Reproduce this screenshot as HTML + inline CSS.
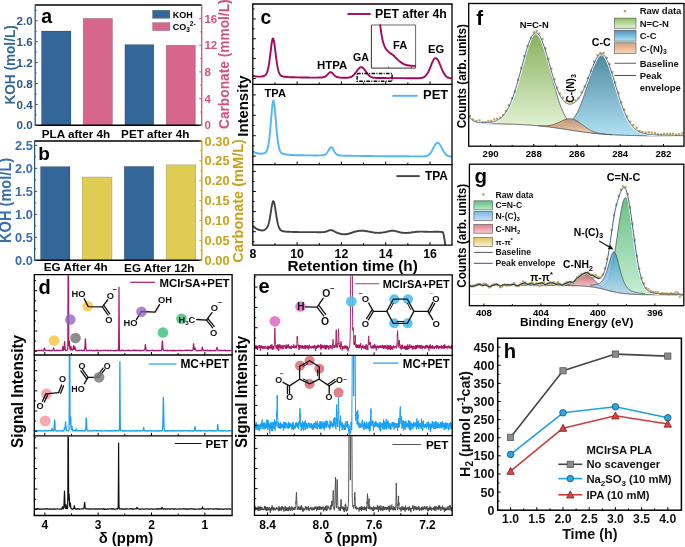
<!DOCTYPE html>
<html><head><meta charset="utf-8"><style>
html,body{margin:0;padding:0;background:#fff;}
svg{display:block;will-change:transform;}
text{font-family:"Liberation Sans", sans-serif;}
</style></head><body>
<svg width="685" height="547" viewBox="0 0 685 547">
<rect width="685" height="547" fill="#fff"/>
<rect x="41.50" y="31.00" width="29.50" height="94.30" fill="#336699" stroke="rgba(0,0,0,0.25)" stroke-width="0.6" />
<rect x="83.20" y="18.40" width="29.30" height="106.90" fill="#d6668c" stroke="rgba(0,0,0,0.25)" stroke-width="0.6" />
<rect x="124.90" y="44.60" width="29.00" height="80.70" fill="#336699" stroke="rgba(0,0,0,0.25)" stroke-width="0.6" />
<rect x="166.20" y="45.20" width="29.20" height="80.10" fill="#d6668c" stroke="rgba(0,0,0,0.25)" stroke-width="0.6" />
<line x1="35.20" y1="5.00" x2="201.70" y2="5.00" stroke="#000" stroke-width="1.4" />
<line x1="35.20" y1="125.30" x2="201.70" y2="125.30" stroke="#000" stroke-width="1.4" />
<line x1="35.20" y1="4.30" x2="35.20" y2="126.00" stroke="#2b5783" stroke-width="1.3" />
<line x1="201.70" y1="4.30" x2="201.70" y2="126.00" stroke="#d2527e" stroke-width="1.3" />
<line x1="35.20" y1="125.30" x2="37.70" y2="125.30" stroke="#2b5783" stroke-width="1" />
<text x="32.60" y="129.40" font-size="11.6" fill="#2b5783" text-anchor="end" font-weight="bold" >0.0</text>
<line x1="35.20" y1="114.85" x2="36.70" y2="114.85" stroke="#2b5783" stroke-width="1" />
<line x1="35.20" y1="104.40" x2="37.70" y2="104.40" stroke="#2b5783" stroke-width="1" />
<text x="32.60" y="108.50" font-size="11.6" fill="#2b5783" text-anchor="end" font-weight="bold" >0.4</text>
<line x1="35.20" y1="93.95" x2="36.70" y2="93.95" stroke="#2b5783" stroke-width="1" />
<line x1="35.20" y1="83.50" x2="37.70" y2="83.50" stroke="#2b5783" stroke-width="1" />
<text x="32.60" y="87.60" font-size="11.6" fill="#2b5783" text-anchor="end" font-weight="bold" >0.8</text>
<line x1="35.20" y1="73.05" x2="36.70" y2="73.05" stroke="#2b5783" stroke-width="1" />
<line x1="35.20" y1="62.60" x2="37.70" y2="62.60" stroke="#2b5783" stroke-width="1" />
<text x="32.60" y="66.70" font-size="11.6" fill="#2b5783" text-anchor="end" font-weight="bold" >1.2</text>
<line x1="35.20" y1="52.15" x2="36.70" y2="52.15" stroke="#2b5783" stroke-width="1" />
<line x1="35.20" y1="41.70" x2="37.70" y2="41.70" stroke="#2b5783" stroke-width="1" />
<text x="32.60" y="45.80" font-size="11.6" fill="#2b5783" text-anchor="end" font-weight="bold" >1.6</text>
<line x1="35.20" y1="31.25" x2="36.70" y2="31.25" stroke="#2b5783" stroke-width="1" />
<line x1="35.20" y1="20.80" x2="37.70" y2="20.80" stroke="#2b5783" stroke-width="1" />
<text x="32.60" y="24.90" font-size="11.6" fill="#2b5783" text-anchor="end" font-weight="bold" >2.0</text>
<line x1="35.20" y1="10.35" x2="36.70" y2="10.35" stroke="#2b5783" stroke-width="1" />
<line x1="201.70" y1="125.30" x2="199.20" y2="125.30" stroke="#d2527e" stroke-width="1" />
<text x="204.40" y="129.30" font-size="11.5" fill="#d2527e" text-anchor="start" font-weight="bold" >0</text>
<line x1="201.70" y1="111.95" x2="200.20" y2="111.95" stroke="#d2527e" stroke-width="1" />
<line x1="201.70" y1="98.60" x2="199.20" y2="98.60" stroke="#d2527e" stroke-width="1" />
<text x="204.40" y="102.60" font-size="11.5" fill="#d2527e" text-anchor="start" font-weight="bold" >4</text>
<line x1="201.70" y1="85.25" x2="200.20" y2="85.25" stroke="#d2527e" stroke-width="1" />
<line x1="201.70" y1="71.90" x2="199.20" y2="71.90" stroke="#d2527e" stroke-width="1" />
<text x="204.40" y="75.90" font-size="11.5" fill="#d2527e" text-anchor="start" font-weight="bold" >8</text>
<line x1="201.70" y1="58.55" x2="200.20" y2="58.55" stroke="#d2527e" stroke-width="1" />
<line x1="201.70" y1="45.20" x2="199.20" y2="45.20" stroke="#d2527e" stroke-width="1" />
<text x="204.40" y="49.20" font-size="11.5" fill="#d2527e" text-anchor="start" font-weight="bold" >12</text>
<line x1="201.70" y1="31.85" x2="200.20" y2="31.85" stroke="#d2527e" stroke-width="1" />
<line x1="201.70" y1="18.50" x2="199.20" y2="18.50" stroke="#d2527e" stroke-width="1" />
<text x="204.40" y="22.50" font-size="11.5" fill="#d2527e" text-anchor="start" font-weight="bold" >16</text>
<rect x="152.50" y="10.20" width="17.40" height="8.20" fill="#336699" stroke="rgba(0,0,0,0.25)" stroke-width="0.5" />
<rect x="152.50" y="22.50" width="17.40" height="8.20" fill="#d6668c" stroke="rgba(0,0,0,0.25)" stroke-width="0.5" />
<text x="172.70" y="17.50" font-size="9.0" fill="#000" text-anchor="start" font-weight="bold" >KOH</text>
<text x="172.70" y="30.00" font-size="9.0" fill="#000" text-anchor="start" font-weight="bold" >CO<tspan font-size="6.5" dy="2">3</tspan><tspan font-size="6.5" dy="-6">2-</tspan></text>
<text x="41.30" y="22.80" font-size="19.5" fill="#000" text-anchor="start" font-weight="bold" >a</text>
<text x="76.00" y="137.62" font-size="11.7" fill="#000" text-anchor="middle" font-weight="bold" >PLA after 4h</text>
<text x="155.20" y="137.82" font-size="11.7" fill="#000" text-anchor="middle" font-weight="bold" >PET after 4h</text>
<text transform="translate(10.20 64.90) scale(1.070 1) rotate(-90)" x="0" y="4.68" font-size="13.6" fill="#2f6a99" text-anchor="middle" font-weight="bold">KOH (mol/L)</text>
<text transform="translate(224.00 64.20) scale(1.030 1) rotate(-90)" x="0" y="4.73" font-size="13.75" fill="#d2527e" text-anchor="middle" font-weight="bold">Carbonate (mmol/L)</text>
<rect x="40.50" y="166.60" width="29.50" height="93.70" fill="#336699" stroke="rgba(0,0,0,0.25)" stroke-width="0.6" />
<rect x="82.20" y="177.00" width="29.80" height="83.30" fill="#dfcc52" stroke="rgba(0,0,0,0.25)" stroke-width="0.6" />
<rect x="124.20" y="166.40" width="29.60" height="93.90" fill="#336699" stroke="rgba(0,0,0,0.25)" stroke-width="0.6" />
<rect x="166.20" y="164.80" width="29.60" height="95.50" fill="#dfcc52" stroke="rgba(0,0,0,0.25)" stroke-width="0.6" />
<line x1="34.60" y1="141.00" x2="201.80" y2="141.00" stroke="#000" stroke-width="1.4" />
<line x1="34.60" y1="260.30" x2="201.80" y2="260.30" stroke="#000" stroke-width="1.4" />
<line x1="34.60" y1="140.30" x2="34.60" y2="261.00" stroke="#2b5783" stroke-width="1.3" />
<line x1="201.80" y1="140.30" x2="201.80" y2="261.00" stroke="#c9a21c" stroke-width="1.3" />
<line x1="34.60" y1="260.30" x2="37.10" y2="260.30" stroke="#2b5783" stroke-width="1" />
<text x="32.90" y="264.80" font-size="12.8" fill="#3a6fae" text-anchor="end" font-weight="bold" >0.0</text>
<line x1="34.60" y1="248.81" x2="36.10" y2="248.81" stroke="#2b5783" stroke-width="1" />
<line x1="34.60" y1="237.32" x2="37.10" y2="237.32" stroke="#2b5783" stroke-width="1" />
<text x="32.90" y="241.82" font-size="12.8" fill="#3a6fae" text-anchor="end" font-weight="bold" >0.5</text>
<line x1="34.60" y1="225.83" x2="36.10" y2="225.83" stroke="#2b5783" stroke-width="1" />
<line x1="34.60" y1="214.34" x2="37.10" y2="214.34" stroke="#2b5783" stroke-width="1" />
<text x="32.90" y="218.84" font-size="12.8" fill="#3a6fae" text-anchor="end" font-weight="bold" >1.0</text>
<line x1="34.60" y1="202.85" x2="36.10" y2="202.85" stroke="#2b5783" stroke-width="1" />
<line x1="34.60" y1="191.36" x2="37.10" y2="191.36" stroke="#2b5783" stroke-width="1" />
<text x="32.90" y="195.86" font-size="12.8" fill="#3a6fae" text-anchor="end" font-weight="bold" >1.5</text>
<line x1="34.60" y1="179.87" x2="36.10" y2="179.87" stroke="#2b5783" stroke-width="1" />
<line x1="34.60" y1="168.38" x2="37.10" y2="168.38" stroke="#2b5783" stroke-width="1" />
<text x="32.90" y="172.88" font-size="12.8" fill="#3a6fae" text-anchor="end" font-weight="bold" >2.0</text>
<line x1="34.60" y1="156.89" x2="36.10" y2="156.89" stroke="#2b5783" stroke-width="1" />
<line x1="34.60" y1="145.40" x2="37.10" y2="145.40" stroke="#2b5783" stroke-width="1" />
<text x="32.90" y="149.90" font-size="12.8" fill="#3a6fae" text-anchor="end" font-weight="bold" >2.5</text>
<line x1="201.80" y1="260.30" x2="199.30" y2="260.30" stroke="#c9a21c" stroke-width="1" />
<text x="204.60" y="264.80" font-size="12.8" fill="#c9a21c" text-anchor="start" font-weight="bold" >0.00</text>
<line x1="201.80" y1="250.36" x2="200.30" y2="250.36" stroke="#c9a21c" stroke-width="1" />
<line x1="201.80" y1="240.42" x2="199.30" y2="240.42" stroke="#c9a21c" stroke-width="1" />
<text x="204.60" y="244.92" font-size="12.8" fill="#c9a21c" text-anchor="start" font-weight="bold" >0.05</text>
<line x1="201.80" y1="230.48" x2="200.30" y2="230.48" stroke="#c9a21c" stroke-width="1" />
<line x1="201.80" y1="220.53" x2="199.30" y2="220.53" stroke="#c9a21c" stroke-width="1" />
<text x="204.60" y="225.03" font-size="12.8" fill="#c9a21c" text-anchor="start" font-weight="bold" >0.10</text>
<line x1="201.80" y1="210.59" x2="200.30" y2="210.59" stroke="#c9a21c" stroke-width="1" />
<line x1="201.80" y1="200.65" x2="199.30" y2="200.65" stroke="#c9a21c" stroke-width="1" />
<text x="204.60" y="205.15" font-size="12.8" fill="#c9a21c" text-anchor="start" font-weight="bold" >0.15</text>
<line x1="201.80" y1="190.71" x2="200.30" y2="190.71" stroke="#c9a21c" stroke-width="1" />
<line x1="201.80" y1="180.77" x2="199.30" y2="180.77" stroke="#c9a21c" stroke-width="1" />
<text x="204.60" y="185.27" font-size="12.8" fill="#c9a21c" text-anchor="start" font-weight="bold" >0.20</text>
<line x1="201.80" y1="170.82" x2="200.30" y2="170.82" stroke="#c9a21c" stroke-width="1" />
<line x1="201.80" y1="160.88" x2="199.30" y2="160.88" stroke="#c9a21c" stroke-width="1" />
<text x="204.60" y="165.38" font-size="12.8" fill="#c9a21c" text-anchor="start" font-weight="bold" >0.25</text>
<line x1="201.80" y1="150.94" x2="200.30" y2="150.94" stroke="#c9a21c" stroke-width="1" />
<line x1="201.80" y1="141.00" x2="199.30" y2="141.00" stroke="#c9a21c" stroke-width="1" />
<text x="204.60" y="145.50" font-size="12.8" fill="#c9a21c" text-anchor="start" font-weight="bold" >0.30</text>
<text x="38.20" y="160.20" font-size="19.0" fill="#000" text-anchor="start" font-weight="bold" >b</text>
<text x="75.70" y="271.42" font-size="11.7" fill="#000" text-anchor="middle" font-weight="bold" >EG After 4h</text>
<text x="159.30" y="271.52" font-size="11.7" fill="#000" text-anchor="middle" font-weight="bold" >EG After 12h</text>
<text transform="translate(5.60 200.40) scale(1.080 1) rotate(-90)" x="0" y="5.02" font-size="14.6" fill="#3a6fae" text-anchor="middle" font-weight="bold">KOH (mol/L)</text>
<text transform="translate(237.90 200.90) scale(1.020 1) rotate(-90)" x="0" y="5.01" font-size="14.55" fill="#c9a21c" text-anchor="middle" font-weight="bold">Carbonate (mM/L)</text>
<path d="M253.00,75.61 253.5,75.8 254.0,76.0 254.5,76.2 255.0,76.3 255.5,76.4 256.0,76.5 256.5,76.5 257.0,76.6 257.5,76.6 258.0,76.6 258.5,76.6 259.0,76.6 259.5,76.6 259.9,76.6 260.4,76.6 260.9,76.6 261.4,76.5 261.9,76.5 262.4,76.4 262.9,76.3 263.4,76.2 263.9,76.0 264.4,75.8 264.9,75.5 265.4,75.1 265.9,74.6 266.4,73.8 266.9,72.8 267.4,71.4 267.9,69.6 268.4,67.3 268.9,64.5 269.4,61.2 269.9,57.5 270.4,53.4 270.9,49.3 271.4,45.4 271.9,42.0 272.4,39.5 272.9,38.4 273.3,38.7 273.8,40.4 274.3,43.2 274.8,46.9 275.3,50.9 275.8,55.1 276.3,59.0 276.8,62.6 277.3,65.7 277.8,68.3 278.3,70.4 278.8,72.1 279.3,73.3 279.8,74.3 280.3,74.9 280.8,75.4 281.3,75.8 281.8,76.0 282.3,76.2 282.8,76.4 283.3,76.5 283.8,76.6 284.3,76.7 284.8,76.7 285.3,76.8 285.8,76.9 286.2,76.9 286.7,77.0 287.2,77.0 287.7,77.0 288.2,77.1 288.7,77.1 289.2,77.1 289.7,77.2 290.2,77.2 290.7,77.2 291.2,77.2 291.7,77.3 292.2,77.3 292.7,77.3 293.2,77.3 293.7,77.3 294.2,77.3 294.7,77.3 295.2,77.4 295.7,77.4 296.2,77.4 296.7,77.4 297.2,77.4 297.7,77.4 298.2,77.4 298.7,77.4 299.2,77.4 299.6,77.4 300.1,77.5 300.6,77.5 301.1,77.5 301.6,77.5 302.1,77.5 302.6,77.5 303.1,77.5 303.6,77.5 304.1,77.5 304.6,77.5 305.1,77.5 305.6,77.5 306.1,77.5 306.6,77.5 307.1,77.5 307.6,77.5 308.1,77.5 308.6,77.5 309.1,77.5 309.6,77.6 310.1,77.6 310.6,77.6 311.1,77.6 311.6,77.6 312.1,77.6 312.6,77.6 313.0,77.6 313.5,77.6 314.0,77.6 314.5,77.6 315.0,77.6 315.5,77.6 316.0,77.6 316.5,77.6 317.0,77.6 317.5,77.6 318.0,77.6 318.5,77.5 319.0,77.5 319.5,77.5 320.0,77.5 320.5,77.5 321.0,77.5 321.5,77.5 322.0,77.4 322.5,77.4 323.0,77.3 323.5,77.2 324.0,77.1 324.5,76.9 325.0,76.7 325.5,76.4 325.9,76.1 326.4,75.6 326.9,75.2 327.4,74.7 327.9,74.1 328.4,73.6 328.9,73.1 329.4,72.6 329.9,72.3 330.4,72.2 330.9,72.2 331.4,72.4 331.9,72.8 332.4,73.2 332.9,73.7 333.4,74.3 333.9,74.8 334.4,75.3 334.9,75.8 335.4,76.2 335.9,76.5 336.4,76.8 336.9,77.0 337.4,77.2 337.9,77.3 338.4,77.4 338.9,77.5 339.3,77.5 339.8,77.6 340.3,77.6 340.8,77.6 341.3,77.7 341.8,77.7 342.3,77.7 342.8,77.7 343.3,77.7 343.8,77.7 344.3,77.7 344.8,77.7 345.3,77.7 345.8,77.7 346.3,77.7 346.8,77.7 347.3,77.7 347.8,77.6 348.3,77.6 348.8,77.5 349.3,77.4 349.8,77.3 350.3,77.2 350.8,77.0 351.3,76.8 351.8,76.5 352.2,76.2 352.7,75.8 353.2,75.4 353.7,75.0 354.2,74.4 354.7,73.8 355.2,73.2 355.7,72.5 356.2,71.9 356.7,71.2 357.2,70.5 357.7,69.8 358.2,69.1 358.7,68.6 359.2,68.1 359.7,67.7 360.2,67.4 360.7,67.2 361.2,67.1 361.7,67.2 362.2,67.4 362.7,67.7 363.2,68.1 363.7,68.6 364.2,69.1 364.7,69.8 365.2,70.5 365.6,71.2 366.1,71.9 366.6,72.6 367.1,73.2 367.6,73.9 368.1,74.5 368.6,75.0 369.1,75.5 369.6,75.9 370.1,76.3 370.6,76.6 371.1,76.9 371.6,77.1 372.1,77.3 372.6,77.5 373.1,77.6 373.6,77.7 374.1,77.8 374.6,77.8 375.1,77.9 375.6,77.9 376.1,77.9 376.6,78.0 377.1,78.0 377.6,78.0 378.1,78.0 378.6,78.0 379.0,78.0 379.5,78.0 380.0,78.0 380.5,78.0 381.0,78.0 381.5,78.0 382.0,78.0 382.5,78.0 383.0,78.0 383.5,78.0 384.0,78.0 384.5,78.0 385.0,78.0 385.5,78.0 386.0,78.1 386.5,78.1 387.0,78.1 387.5,78.1 388.0,78.1 388.5,78.1 389.0,78.1 389.5,78.1 390.0,78.1 390.5,78.1 391.0,78.1 391.5,78.1 391.9,78.1 392.4,78.1 392.9,78.1 393.4,78.1 393.9,78.1 394.4,78.1 394.9,78.1 395.4,78.1 395.9,78.1 396.4,78.1 396.9,78.1 397.4,78.1 397.9,78.1 398.4,78.1 398.9,78.1 399.4,78.1 399.9,78.1 400.4,78.1 400.9,78.1 401.4,78.1 401.9,78.1 402.4,78.1 402.9,78.1 403.4,78.1 403.9,78.1 404.4,78.1 404.9,78.1 405.3,78.2 405.8,78.2 406.3,78.2 406.8,78.2 407.3,78.2 407.8,78.2 408.3,78.2 408.8,78.2 409.3,78.2 409.8,78.2 410.3,78.2 410.8,78.2 411.3,78.2 411.8,78.2 412.3,78.2 412.8,78.2 413.3,78.2 413.8,78.2 414.3,78.2 414.8,78.2 415.3,78.2 415.8,78.2 416.3,78.2 416.8,78.2 417.3,78.2 417.8,78.2 418.3,78.2 418.7,78.2 419.2,78.2 419.7,78.1 420.2,78.1 420.7,78.0 421.2,78.0 421.7,77.9 422.2,77.8 422.7,77.6 423.2,77.5 423.7,77.2 424.2,77.0 424.7,76.6 425.2,76.2 425.7,75.7 426.2,75.2 426.7,74.5 427.2,73.8 427.7,73.0 428.2,72.1 428.7,71.0 429.2,70.0 429.7,68.8 430.2,67.6 430.7,66.4 431.2,65.2 431.6,63.9 432.1,62.8 432.6,61.7 433.1,60.7 433.6,59.8 434.1,59.1 434.6,58.6 435.1,58.2 435.6,58.1 436.1,58.2 436.6,58.5 437.1,58.9 437.6,59.6 438.1,60.4 438.6,61.4 439.1,62.4 439.6,63.6 440.1,64.8 440.6,66.0 441.1,67.3 441.6,68.5 442.1,69.7 442.6,70.8 443.1,71.8 443.6,72.8 444.1,73.6 444.6,74.4 445.0,75.1 445.5,75.7 446.0,76.2 446.5,76.6 447.0,77.0 447.5,77.3 448.0,77.5 448.5,77.7 449.0,77.9 449.5,78.0 450.0,78.1 450.5,78.2 451.0,78.2 451.5,78.3" stroke="#a5085e" stroke-width="1.9" fill="none" stroke-linejoin="round" />
<path d="M253.00,151.17 253.5,151.5 254.0,151.9 254.5,152.1 255.0,152.4 255.5,152.6 256.0,152.8 256.5,153.0 257.0,153.1 257.5,153.3 258.0,153.4 258.5,153.5 259.0,153.5 259.5,153.6 259.9,153.6 260.4,153.7 260.9,153.7 261.4,153.7 261.9,153.6 262.4,153.6 262.9,153.5 263.4,153.4 263.9,153.3 264.4,153.2 264.9,152.9 265.4,152.6 265.9,152.1 266.4,151.4 266.9,150.4 267.4,149.1 267.9,147.2 268.4,144.7 268.9,141.5 269.4,137.6 269.9,132.8 270.4,127.5 270.9,121.6 271.4,115.6 271.9,110.0 272.4,105.2 272.9,101.8 273.3,100.5 273.8,101.4 274.3,104.3 274.8,108.9 275.3,114.4 275.8,120.4 276.3,126.3 276.8,131.8 277.3,136.7 277.8,140.9 278.3,144.3 278.8,146.9 279.3,148.9 279.8,150.4 280.3,151.5 280.8,152.3 281.3,152.8 281.8,153.2 282.3,153.5 282.8,153.7 283.3,153.9 283.8,154.1 284.3,154.2 284.8,154.3 285.3,154.4 285.8,154.5 286.2,154.5 286.7,154.6 287.2,154.6 287.7,154.7 288.2,154.8 288.7,154.8 289.2,154.8 289.7,154.9 290.2,154.9 290.7,154.9 291.2,155.0 291.7,155.0 292.2,155.0 292.7,155.1 293.2,155.1 293.7,155.1 294.2,155.1 294.7,155.1 295.2,155.2 295.7,155.2 296.2,155.2 296.7,155.2 297.2,155.2 297.7,155.2 298.2,155.2 298.7,155.3 299.2,155.3 299.6,155.3 300.1,155.3 300.6,155.3 301.1,155.3 301.6,155.3 302.1,155.3 302.6,155.3 303.1,155.3 303.6,155.4 304.1,155.4 304.6,155.4 305.1,155.4 305.6,155.4 306.1,155.4 306.6,155.4 307.1,155.4 307.6,155.4 308.1,155.4 308.6,155.4 309.1,155.4 309.6,155.4 310.1,155.4 310.6,155.4 311.1,155.4 311.6,155.4 312.1,155.4 312.6,155.5 313.0,155.5 313.5,155.5 314.0,155.5 314.5,155.5 315.0,155.5 315.5,155.5 316.0,155.5 316.5,155.5 317.0,155.5 317.5,155.5 318.0,155.4 318.5,155.4 319.0,155.4 319.5,155.4 320.0,155.4 320.5,155.4 321.0,155.4 321.5,155.4 322.0,155.3 322.5,155.3 323.0,155.2 323.5,155.2 324.0,155.1 324.5,154.9 325.0,154.7 325.5,154.4 325.9,154.1 326.4,153.6 326.9,153.0 327.4,152.3 327.9,151.5 328.4,150.7 328.9,149.8 329.4,148.9 329.9,148.1 330.4,147.5 330.9,147.2 331.4,147.2 331.9,147.4 332.4,148.0 332.9,148.8 333.4,149.7 333.9,150.6 334.4,151.5 334.9,152.3 335.4,153.0 335.9,153.6 336.4,154.1 336.9,154.5 337.4,154.8 337.9,155.0 338.4,155.2 338.9,155.3 339.3,155.4 339.8,155.5 340.3,155.5 340.8,155.5 341.3,155.6 341.8,155.6 342.3,155.6 342.8,155.6 343.3,155.7 343.8,155.7 344.3,155.7 344.8,155.7 345.3,155.7 345.8,155.7 346.3,155.7 346.8,155.8 347.3,155.8 347.8,155.8 348.3,155.8 348.8,155.8 349.3,155.8 349.8,155.8 350.3,155.8 350.8,155.8 351.3,155.8 351.8,155.8 352.2,155.8 352.7,155.9 353.2,155.9 353.7,155.9 354.2,155.9 354.7,155.9 355.2,155.9 355.7,155.9 356.2,155.9 356.7,155.9 357.2,155.9 357.7,155.9 358.2,155.9 358.7,155.9 359.2,155.9 359.7,155.9 360.2,155.9 360.7,155.9 361.2,155.9 361.7,156.0 362.2,156.0 362.7,156.0 363.2,156.0 363.7,156.0 364.2,156.0 364.7,156.0 365.2,156.0 365.6,156.0 366.1,156.0 366.6,156.0 367.1,156.0 367.6,156.0 368.1,156.0 368.6,156.0 369.1,156.0 369.6,156.0 370.1,156.0 370.6,156.0 371.1,156.0 371.6,156.0 372.1,156.0 372.6,156.1 373.1,156.1 373.6,156.1 374.1,156.1 374.6,156.1 375.1,156.1 375.6,156.1 376.1,156.1 376.6,156.1 377.1,156.1 377.6,156.1 378.1,156.1 378.6,156.1 379.0,156.1 379.5,156.1 380.0,156.1 380.5,156.1 381.0,156.1 381.5,156.1 382.0,156.1 382.5,156.1 383.0,156.1 383.5,156.1 384.0,156.2 384.5,156.2 385.0,156.2 385.5,156.2 386.0,156.2 386.5,156.2 387.0,156.2 387.5,156.2 388.0,156.2 388.5,156.2 389.0,156.2 389.5,156.2 390.0,156.2 390.5,156.2 391.0,156.2 391.5,156.2 391.9,156.2 392.4,156.2 392.9,156.2 393.4,156.2 393.9,156.2 394.4,156.2 394.9,156.2 395.4,156.2 395.9,156.2 396.4,156.3 396.9,156.3 397.4,156.3 397.9,156.3 398.4,156.3 398.9,156.3 399.4,156.3 399.9,156.3 400.4,156.3 400.9,156.3 401.4,156.3 401.9,156.3 402.4,156.3 402.9,156.3 403.4,156.3 403.9,156.3 404.4,156.3 404.9,156.3 405.3,156.3 405.8,156.3 406.3,156.3 406.8,156.3 407.3,156.3 407.8,156.3 408.3,156.3 408.8,156.3 409.3,156.4 409.8,156.4 410.3,156.4 410.8,156.4 411.3,156.4 411.8,156.4 412.3,156.4 412.8,156.4 413.3,156.4 413.8,156.4 414.3,156.4 414.8,156.4 415.3,156.4 415.8,156.4 416.3,156.4 416.8,156.4 417.3,156.4 417.8,156.4 418.3,156.4 418.7,156.4 419.2,156.4 419.7,156.4 420.2,156.4 420.7,156.4 421.2,156.4 421.7,156.4 422.2,156.4 422.7,156.4 423.2,156.4 423.7,156.4 424.2,156.4 424.7,156.3 425.2,156.3 425.7,156.2 426.2,156.1 426.7,155.9 427.2,155.8 427.7,155.5 428.2,155.3 428.7,154.9 429.2,154.5 429.7,154.0 430.2,153.4 430.7,152.8 431.2,152.0 431.6,151.2 432.1,150.4 432.6,149.4 433.1,148.5 433.6,147.5 434.1,146.6 434.6,145.7 435.1,144.9 435.6,144.1 436.1,143.6 436.6,143.1 437.1,142.9 437.6,142.8 438.1,142.9 438.6,143.1 439.1,143.6 439.6,144.2 440.1,144.9 440.6,145.7 441.1,146.7 441.6,147.6 442.1,148.6 442.6,149.5 443.1,150.5 443.6,151.3 444.1,152.2 444.6,152.9 445.0,153.6 445.5,154.1 446.0,154.6 446.5,155.1 447.0,155.4 447.5,155.7 448.0,155.9 448.5,156.1 449.0,156.3 449.5,156.4 450.0,156.5 450.5,156.5 451.0,156.6 451.5,156.6" stroke="#50b6fb" stroke-width="1.9" fill="none" stroke-linejoin="round" />
<path d="M253.00,225.73 253.5,226.3 254.0,226.8 254.5,227.3 255.0,227.7 255.5,228.1 256.0,228.5 256.5,228.8 257.0,229.0 257.5,229.3 258.0,229.5 258.5,229.7 259.0,229.9 259.5,230.0 260.0,230.2 260.5,230.3 261.0,230.3 261.5,230.4 262.0,230.5 262.5,230.5 263.0,230.4 263.5,230.3 264.0,230.1 264.5,229.9 265.0,229.5 265.5,229.2 266.0,228.7 266.5,228.2 267.0,227.6 267.5,226.8 268.0,225.7 268.5,224.3 269.0,222.4 269.5,220.0 270.0,217.3 270.5,214.2 271.0,210.9 271.5,207.7 272.0,204.9 272.5,202.6 273.0,201.3 273.5,201.2 274.0,202.2 274.5,204.2 275.0,206.9 275.5,210.1 276.0,213.4 276.5,216.6 277.0,219.6 277.5,222.2 278.0,224.4 278.5,226.1 279.0,227.5 279.5,228.6 280.0,229.4 280.5,230.0 281.0,230.4 281.5,230.7 282.0,230.9 282.5,231.1 283.0,231.2 283.5,231.3 284.0,231.4 284.5,231.5 285.0,231.5 285.5,231.6 286.0,231.6 286.5,231.7 287.0,231.7 287.5,231.7 288.0,231.8 288.5,231.8 289.0,231.8 289.5,231.8 290.0,231.9 290.5,231.9 291.0,231.9 291.5,231.9 292.0,231.9 292.5,231.9 293.0,232.0 293.5,232.0 294.0,232.0 294.5,232.0 295.0,232.0 295.5,232.0 296.0,232.0 296.5,232.0 297.0,232.0 297.5,232.0 298.0,232.0 298.5,232.1 299.0,232.1 299.5,232.1 300.0,232.1 300.4,232.1 300.9,232.1 301.4,232.1 301.9,232.1 302.4,232.1 302.9,232.1 303.4,232.1 303.9,232.1 304.4,232.1 304.9,232.1 305.4,232.1 305.9,232.1 306.4,232.1 306.9,232.1 307.4,232.1 307.9,232.1 308.4,232.1 308.9,232.1 309.4,232.1 309.9,232.1 310.4,232.1 310.9,232.1 311.4,232.1 311.9,232.1 312.4,232.1 312.9,232.1 313.4,232.1 313.9,232.1 314.4,232.1 314.9,232.1 315.4,232.1 315.9,232.1 316.4,232.1 316.9,232.2 317.4,232.2 317.9,232.2 318.4,232.2 318.9,232.2 319.4,232.2 319.9,232.2 320.4,232.2 320.9,232.2 321.4,232.1 321.9,232.1 322.4,232.1 322.9,232.1 323.4,232.1 323.9,232.0 324.4,232.0 324.9,231.9 325.4,231.8 325.9,231.7 326.4,231.5 326.9,231.4 327.4,231.2 327.9,231.0 328.4,230.7 328.9,230.5 329.4,230.4 329.9,230.2 330.4,230.1 330.9,230.1 331.4,230.2 331.9,230.3 332.4,230.4 332.9,230.6 333.4,230.9 333.9,231.2 334.4,231.4 334.9,231.7 335.4,232.0 335.9,232.3 336.4,232.5 336.9,232.7 337.4,232.9 337.9,233.1 338.4,233.3 338.9,233.4 339.4,233.5 339.9,233.7 340.4,233.8 340.9,233.9 341.4,234.0 341.9,234.1 342.4,234.1 342.9,234.2 343.4,234.2 343.9,234.3 344.4,234.3 344.9,234.3 345.4,234.3 345.9,234.2 346.4,234.2 346.9,234.1 347.4,234.0 347.9,233.9 348.4,233.8 348.9,233.6 349.4,233.5 349.9,233.3 350.4,233.2 350.9,233.0 351.4,232.8 351.9,232.7 352.4,232.5 352.9,232.3 353.4,232.2 353.9,232.0 354.4,231.9 354.9,231.7 355.4,231.6 355.9,231.5 356.4,231.3 356.9,231.2 357.4,231.1 357.9,231.0 358.4,231.0 358.9,230.9 359.4,230.9 359.9,230.8 360.4,230.8 360.9,230.8 361.4,230.7 361.9,230.8 362.4,230.8 362.9,230.8 363.4,230.8 363.9,230.9 364.4,230.9 364.9,231.0 365.4,231.0 365.9,231.1 366.4,231.2 366.9,231.2 367.4,231.3 367.9,231.4 368.4,231.5 368.9,231.6 369.4,231.7 369.9,231.8 370.4,231.9 370.9,232.0 371.4,232.1 371.9,232.2 372.4,232.3 372.9,232.4 373.4,232.5 373.9,232.6 374.4,232.6 374.9,232.7 375.4,232.8 375.9,232.8 376.4,232.8 376.9,232.9 377.4,232.9 377.9,232.9 378.4,232.9 378.9,232.9 379.4,232.9 379.9,232.8 380.4,232.8 380.9,232.7 381.4,232.7 381.9,232.6 382.4,232.6 382.9,232.5 383.4,232.4 383.9,232.4 384.4,232.3 384.9,232.2 385.4,232.1 385.9,232.0 386.4,231.9 386.9,231.8 387.4,231.7 387.9,231.5 388.4,231.4 388.9,231.3 389.4,231.2 389.9,231.0 390.4,230.9 390.9,230.9 391.4,230.8 391.9,230.7 392.4,230.7 392.9,230.7 393.4,230.8 393.9,230.8 394.4,230.9 394.9,231.0 395.4,231.1 395.8,231.2 396.3,231.4 396.8,231.5 397.3,231.6 397.8,231.8 398.3,231.9 398.8,232.0 399.3,232.2 399.8,232.3 400.3,232.4 400.8,232.5 401.3,232.6 401.8,232.7 402.3,232.7 402.8,232.8 403.3,232.8 403.8,232.9 404.3,232.9 404.8,232.9 405.3,233.0 405.8,233.0 406.3,233.0 406.8,232.9 407.3,232.9 407.8,232.9 408.3,232.8 408.8,232.8 409.3,232.7 409.8,232.7 410.3,232.6 410.8,232.6 411.3,232.5 411.8,232.4 412.3,232.3 412.8,232.3 413.3,232.2 413.8,232.1 414.3,232.1 414.8,232.0 415.3,232.0 415.8,231.9 416.3,231.8 416.8,231.8 417.3,231.8 417.8,231.7 418.3,231.7 418.8,231.7 419.3,231.6 419.8,231.6 420.3,231.6 420.8,231.6 421.3,231.6 421.8,231.6 422.3,231.6 422.8,231.6 423.3,231.6 423.8,231.7 424.3,231.7 424.8,231.7 425.3,231.7 425.8,231.8 426.3,231.8 426.8,231.8 427.3,231.8 427.8,231.9 428.3,231.9 428.8,231.9 429.3,231.9 429.8,231.9 430.3,231.9 430.8,231.9 431.3,231.9 431.8,231.9 432.3,231.9 432.8,231.9 433.3,231.9 433.8,231.8 434.3,231.8 434.8,231.8 435.3,231.8 435.8,231.8 436.3,231.8 436.8,231.8 437.3,231.8 437.8,231.8 438.3,231.8 438.8,231.8 439.3,231.9 439.8,231.9 440.3,231.9 440.8,231.9 441.3,232.0 441.8,232.0 442.3,232.0 442.8,232.1 443.6,234.5 444.6,240.0 445.2,245.0" stroke="#444444" stroke-width="1.9" fill="none" stroke-linejoin="round" />
<line x1="252.20" y1="4.00" x2="452.60" y2="4.00" stroke="#000" stroke-width="1.3" />
<line x1="252.20" y1="84.40" x2="452.60" y2="84.40" stroke="#000" stroke-width="1.3" />
<line x1="252.20" y1="164.60" x2="452.60" y2="164.60" stroke="#000" stroke-width="1.3" />
<line x1="252.20" y1="245.10" x2="452.60" y2="245.10" stroke="#000" stroke-width="1.3" />
<line x1="252.80" y1="4.00" x2="252.80" y2="245.10" stroke="#000" stroke-width="1.3" />
<line x1="452.00" y1="4.00" x2="452.00" y2="245.10" stroke="#000" stroke-width="1.3" />
<line x1="274.95" y1="84.40" x2="274.95" y2="82.40" stroke="#000" stroke-width="1" />
<line x1="297.10" y1="84.40" x2="297.10" y2="81.40" stroke="#000" stroke-width="1" />
<line x1="319.25" y1="84.40" x2="319.25" y2="82.40" stroke="#000" stroke-width="1" />
<line x1="341.40" y1="84.40" x2="341.40" y2="81.40" stroke="#000" stroke-width="1" />
<line x1="363.55" y1="84.40" x2="363.55" y2="82.40" stroke="#000" stroke-width="1" />
<line x1="385.70" y1="84.40" x2="385.70" y2="81.40" stroke="#000" stroke-width="1" />
<line x1="407.85" y1="84.40" x2="407.85" y2="82.40" stroke="#000" stroke-width="1" />
<line x1="430.00" y1="84.40" x2="430.00" y2="81.40" stroke="#000" stroke-width="1" />
<line x1="274.95" y1="164.60" x2="274.95" y2="162.60" stroke="#000" stroke-width="1" />
<line x1="297.10" y1="164.60" x2="297.10" y2="161.60" stroke="#000" stroke-width="1" />
<line x1="319.25" y1="164.60" x2="319.25" y2="162.60" stroke="#000" stroke-width="1" />
<line x1="341.40" y1="164.60" x2="341.40" y2="161.60" stroke="#000" stroke-width="1" />
<line x1="363.55" y1="164.60" x2="363.55" y2="162.60" stroke="#000" stroke-width="1" />
<line x1="385.70" y1="164.60" x2="385.70" y2="161.60" stroke="#000" stroke-width="1" />
<line x1="407.85" y1="164.60" x2="407.85" y2="162.60" stroke="#000" stroke-width="1" />
<line x1="430.00" y1="164.60" x2="430.00" y2="161.60" stroke="#000" stroke-width="1" />
<line x1="274.95" y1="245.10" x2="274.95" y2="243.10" stroke="#000" stroke-width="1" />
<line x1="297.10" y1="245.10" x2="297.10" y2="242.10" stroke="#000" stroke-width="1" />
<line x1="319.25" y1="245.10" x2="319.25" y2="243.10" stroke="#000" stroke-width="1" />
<line x1="341.40" y1="245.10" x2="341.40" y2="242.10" stroke="#000" stroke-width="1" />
<line x1="363.55" y1="245.10" x2="363.55" y2="243.10" stroke="#000" stroke-width="1" />
<line x1="385.70" y1="245.10" x2="385.70" y2="242.10" stroke="#000" stroke-width="1" />
<line x1="407.85" y1="245.10" x2="407.85" y2="243.10" stroke="#000" stroke-width="1" />
<line x1="430.00" y1="245.10" x2="430.00" y2="242.10" stroke="#000" stroke-width="1" />
<line x1="252.80" y1="8.97" x2="254.60" y2="8.97" stroke="#000" stroke-width="1" />
<line x1="252.80" y1="18.90" x2="255.80" y2="18.90" stroke="#000" stroke-width="1" />
<line x1="252.80" y1="28.82" x2="254.60" y2="28.82" stroke="#000" stroke-width="1" />
<line x1="252.80" y1="38.75" x2="255.80" y2="38.75" stroke="#000" stroke-width="1" />
<line x1="252.80" y1="48.67" x2="254.60" y2="48.67" stroke="#000" stroke-width="1" />
<line x1="252.80" y1="58.60" x2="255.80" y2="58.60" stroke="#000" stroke-width="1" />
<line x1="252.80" y1="68.53" x2="254.60" y2="68.53" stroke="#000" stroke-width="1" />
<line x1="252.80" y1="78.45" x2="255.80" y2="78.45" stroke="#000" stroke-width="1" />
<line x1="252.80" y1="94.90" x2="255.80" y2="94.90" stroke="#000" stroke-width="1" />
<line x1="252.80" y1="105.10" x2="254.60" y2="105.10" stroke="#000" stroke-width="1" />
<line x1="252.80" y1="115.30" x2="255.80" y2="115.30" stroke="#000" stroke-width="1" />
<line x1="252.80" y1="125.50" x2="254.60" y2="125.50" stroke="#000" stroke-width="1" />
<line x1="252.80" y1="135.70" x2="255.80" y2="135.70" stroke="#000" stroke-width="1" />
<line x1="252.80" y1="145.90" x2="254.60" y2="145.90" stroke="#000" stroke-width="1" />
<line x1="252.80" y1="156.10" x2="255.80" y2="156.10" stroke="#000" stroke-width="1" />
<line x1="252.80" y1="171.40" x2="255.80" y2="171.40" stroke="#000" stroke-width="1" />
<line x1="252.80" y1="181.45" x2="254.60" y2="181.45" stroke="#000" stroke-width="1" />
<line x1="252.80" y1="191.50" x2="255.80" y2="191.50" stroke="#000" stroke-width="1" />
<line x1="252.80" y1="201.55" x2="254.60" y2="201.55" stroke="#000" stroke-width="1" />
<line x1="252.80" y1="211.60" x2="255.80" y2="211.60" stroke="#000" stroke-width="1" />
<line x1="252.80" y1="221.65" x2="254.60" y2="221.65" stroke="#000" stroke-width="1" />
<line x1="252.80" y1="231.70" x2="255.80" y2="231.70" stroke="#000" stroke-width="1" />
<line x1="252.80" y1="241.75" x2="254.60" y2="241.75" stroke="#000" stroke-width="1" />
<line x1="371.40" y1="25.00" x2="415.60" y2="25.00" stroke="#555" stroke-width="0.9" />
<line x1="415.60" y1="25.00" x2="415.60" y2="68.10" stroke="#555" stroke-width="0.9" />
<line x1="371.40" y1="25.00" x2="371.40" y2="68.10" stroke="#333" stroke-width="1.0" />
<line x1="371.40" y1="68.10" x2="415.60" y2="68.10" stroke="#333" stroke-width="1.0" />
<line x1="388.60" y1="68.10" x2="388.60" y2="66.60" stroke="#333" stroke-width="0.8" />
<line x1="411.40" y1="68.10" x2="411.40" y2="66.60" stroke="#333" stroke-width="0.8" />
<path d="M380.20,25.20 C380.35,26.32 380.65,29.20 381.10,31.90 C381.55,34.60 382.10,38.53 382.90,41.40 C383.70,44.27 384.80,47.22 385.90,49.10 C387.00,50.98 388.32,51.70 389.50,52.70 C390.68,53.70 391.82,54.12 393.00,55.10 C394.18,56.08 395.40,57.48 396.60,58.60 C397.80,59.72 398.82,60.80 400.20,61.80 C401.58,62.80 403.12,63.93 404.90,64.60 C406.68,65.27 409.18,65.58 410.90,65.80 C412.62,66.02 414.48,65.88 415.20,65.90" stroke="#a5085e" stroke-width="1.9" fill="none" stroke-linejoin="round" stroke-linecap="round"/>
<rect x="357.1" y="73.5" width="35.0" height="7.7" fill="none" stroke="#000" stroke-width="1.35" stroke-dasharray="3.6,1.3,1.0,1.3"/>
<text x="260.60" y="24.40" font-size="19.3" fill="#000" text-anchor="start" font-weight="bold" >c</text>
<line x1="347.50" y1="14.00" x2="370.70" y2="14.00" stroke="#a5085e" stroke-width="1.9" />
<text x="375.00" y="17.50" font-size="12.3" fill="#000" text-anchor="start" font-weight="bold" >PET after 4h</text>
<text x="317.10" y="68.80" font-size="11.4" fill="#000" text-anchor="start" font-weight="bold" >HTPA</text>
<text x="353.10" y="61.30" font-size="10.6" fill="#000" text-anchor="start" font-weight="bold" >GA</text>
<text x="428.00" y="52.60" font-size="11.2" fill="#000" text-anchor="start" font-weight="bold" >EG</text>
<text x="393.00" y="49.00" font-size="11.2" fill="#000" text-anchor="start" font-weight="bold" >FA</text>
<text x="264.60" y="96.60" font-size="11.1" fill="#000" text-anchor="start" font-weight="bold" >TPA</text>
<line x1="392.30" y1="95.80" x2="417.70" y2="95.80" stroke="#50b6fb" stroke-width="1.9" />
<text x="423.00" y="99.30" font-size="13.0" fill="#000" text-anchor="start" font-weight="bold" >PET</text>
<line x1="396.40" y1="176.10" x2="419.70" y2="176.10" stroke="#444444" stroke-width="1.9" />
<text x="425.00" y="180.10" font-size="11.9" fill="#000" text-anchor="start" font-weight="bold" >TPA</text>
<text x="252.80" y="258.13" font-size="12.3" fill="#000" text-anchor="middle" font-weight="bold" >8</text>
<text x="297.10" y="258.13" font-size="12.3" fill="#000" text-anchor="middle" font-weight="bold" >10</text>
<text x="341.40" y="258.13" font-size="12.3" fill="#000" text-anchor="middle" font-weight="bold" >12</text>
<text x="385.70" y="258.13" font-size="12.3" fill="#000" text-anchor="middle" font-weight="bold" >14</text>
<text x="430.00" y="258.13" font-size="12.3" fill="#000" text-anchor="middle" font-weight="bold" >16</text>
<text x="287.50" y="270.70" font-size="14.3" fill="#000" text-anchor="start" font-weight="bold" textLength="130.30" lengthAdjust="spacingAndGlyphs" >Retention time (h)</text>
<text transform="translate(242.80 106.10) scale(1.000 1) rotate(-90)" x="0" y="5.13" font-size="14.9" fill="#000" text-anchor="middle" font-weight="bold">Intensity</text>
<circle cx="54.10" cy="340.60" r="5.3" fill="#fbd060" stroke="none" stroke-width="1" />
<circle cx="75.50" cy="338.00" r="5.3" fill="#8d8d8d" stroke="none" stroke-width="1" />
<circle cx="162.90" cy="332.50" r="5.3" fill="#5fcd92" stroke="none" stroke-width="1" />
<circle cx="45.20" cy="420.90" r="5.4" fill="#f8a8ae" stroke="none" stroke-width="1" />
<clipPath id="cp1"><rect x="34.3" y="275.3" width="197.8" height="79.69999999999999"/></clipPath>
<g clip-path="url(#cp1)">
<path d="M34.80,350.24 35.3,350.7 35.8,350.7 36.3,350.3 36.8,350.5 37.3,350.5 37.8,350.6 38.3,350.7 38.8,350.2 39.3,350.2 39.8,350.7 40.3,350.5 40.8,350.7 41.3,350.1 41.8,350.5 42.3,350.7 42.8,350.3 43.3,350.8 43.8,350.6 43.9,349.8 44.1,349.1 44.3,348.5 44.5,348.2 44.7,348.4 44.8,348.8 44.9,349.4 45.1,349.8 45.3,350.2 45.8,350.4 46.3,350.5 46.8,350.3 47.3,350.3 47.8,350.3 48.3,350.5 48.8,350.3 49.3,350.2 49.8,350.7 50.3,350.5 50.8,350.6 51.3,350.3 51.8,350.8 52.3,350.7 52.8,350.1 53.0,350.0 53.2,349.6 53.3,349.2 53.4,348.8 53.6,347.8 53.8,348.7 54.0,349.6 54.2,350.0 54.3,350.4 54.8,350.8 55.3,350.7 55.8,350.5 56.3,350.6 56.8,350.2 57.3,350.3 57.8,350.7 58.3,350.4 58.8,350.3 59.3,350.5 59.8,350.6 60.3,350.6 60.8,350.4 61.3,350.4 61.8,350.5 62.3,350.2 62.5,349.1 62.7,347.7 62.8,347.1 62.9,346.5 63.1,347.4 63.3,349.2 63.5,350.3 63.8,350.1 64.0,349.1 64.2,346.6 64.3,345.2 64.4,343.8 64.6,341.5 64.8,343.5 65.0,347.1 65.2,349.0 65.3,349.8 65.8,350.7 66.3,350.4 66.8,350.3 67.3,350.0 67.7,349.4 67.8,347.8 67.9,339.2 68.1,272.7 68.3,272.7 68.5,272.7 68.7,338.4 68.8,345.5 68.9,345.8 69.1,343.2 69.3,341.1 69.5,343.1 69.7,347.0 69.8,348.2 69.9,348.9 70.3,350.0 70.4,349.8 70.6,348.7 70.8,347.3 71.0,346.5 71.2,347.5 71.3,348.2 71.4,348.8 71.6,349.6 71.8,350.1 72.3,350.2 72.8,350.1 72.9,350.0 73.1,348.7 73.3,346.9 73.5,345.7 73.7,346.5 73.8,347.8 73.9,348.6 74.1,349.3 74.3,349.4 74.5,348.7 74.7,347.9 74.8,347.0 74.9,346.6 75.1,347.8 75.3,349.0 75.5,349.7 75.8,350.2 76.3,350.5 76.8,350.3 77.3,350.3 77.8,350.6 78.3,350.5 78.8,350.4 79.3,350.5 79.8,350.2 80.3,350.4 80.8,350.4 81.3,350.3 81.8,350.2 82.3,350.8 82.8,350.5 83.3,350.3 83.8,350.5 84.3,350.7 84.8,348.5 85.0,345.7 85.2,341.6 85.3,340.1 85.4,338.9 85.6,342.0 85.8,346.1 86.0,348.9 86.3,350.1 86.8,350.8 87.3,350.7 87.8,350.5 88.3,350.3 88.8,350.6 89.3,350.4 89.8,350.5 90.3,350.4 90.8,350.6 91.3,350.2 91.8,350.4 92.3,350.8 92.8,350.8 93.3,350.4 93.8,350.7 94.3,350.4 94.8,350.8 95.3,350.7 95.8,350.4 96.3,350.3 96.8,350.2 97.3,350.8 97.8,350.2 98.3,350.7 98.8,350.8 99.3,350.5 99.8,350.3 100.3,350.8 100.8,350.8 101.3,350.6 101.8,350.5 102.3,350.4 102.8,350.4 103.3,350.3 103.8,350.6 104.3,350.5 104.8,350.3 105.3,350.2 105.8,350.6 106.3,350.4 106.8,350.5 107.3,350.4 107.8,350.8 108.3,350.8 108.8,350.2 109.3,350.3 109.8,350.4 110.3,350.8 110.8,350.7 111.3,350.4 111.8,350.3 112.3,350.6 112.8,350.7 113.3,350.8 113.8,350.4 114.3,350.8 114.8,350.6 115.3,350.5 115.8,350.8 116.3,350.3 116.8,350.6 117.3,350.2 117.8,350.2 118.3,350.6 118.4,349.9 118.6,347.2 118.8,322.6 119.0,287.2 119.2,322.5 119.3,339.0 119.4,346.9 119.6,350.4 119.8,350.4 120.3,350.8 120.8,350.7 121.3,350.2 121.8,350.5 122.3,350.2 122.8,350.2 123.3,350.2 123.8,350.8 124.3,350.7 124.8,350.7 125.3,350.4 125.8,350.6 126.3,350.7 126.8,350.4 127.3,350.5 127.8,350.3 128.3,350.2 128.8,350.3 129.3,350.8 129.8,350.5 130.3,350.8 130.8,350.5 131.3,350.3 131.8,350.7 132.3,350.7 132.8,350.2 133.3,350.6 133.8,350.2 134.3,350.2 134.8,350.8 135.3,350.2 135.8,350.3 136.3,350.8 136.8,350.4 137.3,350.2 137.8,350.3 138.3,350.3 138.8,350.7 139.3,350.2 139.8,350.8 140.3,350.4 140.8,350.8 141.3,350.8 141.8,350.4 142.3,350.3 142.8,350.5 143.3,350.2 143.8,350.6 144.3,350.1 144.8,349.3 145.0,348.5 145.2,345.8 145.3,345.0 145.4,344.5 145.6,345.8 145.8,347.8 146.0,349.9 146.3,350.7 146.8,350.8 147.3,350.2 147.8,350.3 148.3,350.6 148.8,350.8 149.3,350.5 149.8,350.6 150.3,350.6 150.8,350.3 151.3,350.5 151.8,350.4 152.3,350.3 152.8,350.2 153.3,350.3 153.8,350.8 154.3,350.5 154.8,350.6 155.3,350.6 155.8,350.8 156.3,350.4 156.8,350.4 157.3,350.4 157.8,350.4 158.3,350.7 158.8,350.8 159.3,350.4 159.8,350.4 160.3,350.5 160.8,350.5 161.3,350.5 161.8,349.0 162.0,346.4 162.2,343.1 162.3,341.4 162.4,341.0 162.6,343.0 162.8,346.5 163.0,349.2 163.3,350.2 163.8,350.7 164.3,350.5 164.8,350.7 165.3,350.3 165.8,350.5 166.3,350.7 166.8,350.2 167.3,350.8 167.8,350.3 168.3,350.7 168.8,350.8 169.3,350.7 169.8,350.4 170.3,350.2 170.8,350.5 171.3,350.8 171.8,350.4 172.3,350.8 172.8,350.2 173.3,350.8 173.8,350.2 174.3,350.4 174.8,350.8 175.3,350.7 175.8,350.8 176.3,350.7 176.8,350.7 177.3,350.6 177.8,350.3 178.3,350.5 178.8,350.3 179.3,350.6 179.8,350.6 180.3,350.3 180.8,350.2 181.3,350.8 181.8,350.7 182.3,350.5 182.8,350.5 183.3,350.7 183.8,350.5 184.3,350.4 184.8,350.4 185.3,350.3 185.8,350.2 186.3,350.6 186.8,350.4 187.3,350.5 187.8,350.2 188.3,350.4 188.8,350.2 189.3,350.2 189.8,350.3 190.3,350.7 190.8,350.4 191.3,350.4 191.8,350.6 192.3,350.3 192.8,349.9 193.0,349.5 193.2,347.7 193.3,346.6 193.4,345.1 193.6,343.6 193.8,345.3 194.0,347.5 194.2,349.4 194.3,349.7 194.4,349.6 194.6,349.2 194.8,348.2 195.0,347.8 195.2,348.5 195.3,348.6 195.4,349.4 195.6,349.7 195.8,350.1 196.3,350.5 196.8,350.8 197.3,350.3 197.8,350.7 198.3,350.8 198.8,350.4 199.3,350.6 199.8,350.7 200.3,350.4 200.8,350.6 201.3,350.6 201.7,350.1 201.8,349.9 201.9,349.4 202.1,348.2 202.3,347.0 202.5,347.6 202.7,348.9 202.8,349.4 202.9,350.1 203.3,350.6 203.8,350.2 204.3,350.6 204.8,350.6 205.3,350.4 205.8,350.5 206.3,350.3 206.8,350.7 207.3,350.2 207.8,350.8 208.3,350.7 208.8,350.6 209.3,350.3 209.8,350.8 210.3,350.8 210.8,350.2 211.3,350.7 211.8,350.7 212.3,350.6 212.8,350.6 213.3,350.5 213.8,350.8 214.3,350.8 214.8,350.4 215.3,350.7 215.8,350.4 216.3,349.8 216.5,349.0 216.7,347.6 216.8,347.5 216.9,347.3 217.1,347.6 217.3,349.2 217.5,349.9 217.8,350.2 218.3,350.3 218.8,350.3 219.3,350.7 219.8,350.2 220.3,350.3 220.8,350.5 221.3,350.2 221.8,350.6 222.3,350.6 222.8,350.7 223.3,350.3 223.8,350.3 224.3,350.5 224.8,350.3 225.3,350.6 225.8,350.3 226.3,350.6 226.8,350.7 227.3,350.7 227.8,350.8 228.3,350.5 228.8,350.5 229.3,350.7 229.8,350.7 230.3,350.5 230.8,350.4 231.3,350.3" stroke="#ad186a" stroke-width="1.25" fill="none" stroke-linejoin="round" />
</g>
<clipPath id="cp2"><rect x="34.3" y="355.6" width="197.8" height="80.19999999999999"/></clipPath>
<g clip-path="url(#cp2)">
<path d="M34.80,431.12 35.3,431.1 35.8,430.5 36.3,430.5 36.8,431.0 37.3,431.0 37.8,430.9 38.3,430.7 38.8,430.9 39.3,430.9 39.8,430.9 40.3,430.6 40.8,430.8 41.3,430.7 41.8,431.0 42.3,431.1 42.8,431.1 43.3,430.8 43.8,430.8 44.3,430.6 44.8,430.5 45.3,430.5 45.8,430.8 46.3,430.7 46.8,430.7 47.3,431.1 47.8,430.8 48.3,430.8 48.8,430.6 49.3,430.5 49.8,430.7 50.3,430.5 50.8,430.8 51.3,430.9 51.4,430.5 51.6,429.5 51.8,429.1 52.0,428.4 52.2,429.0 52.3,429.6 52.4,429.9 52.6,430.6 52.8,430.6 53.3,431.1 53.8,430.7 54.0,429.0 54.2,426.6 54.3,424.6 54.4,422.4 54.6,419.8 54.8,422.4 55.0,426.8 55.2,429.2 55.3,430.2 55.8,430.6 56.3,431.0 56.8,431.1 57.3,430.8 57.8,430.8 58.3,431.1 58.8,430.9 59.3,430.8 59.8,430.6 60.3,430.7 60.8,430.9 61.3,430.6 61.8,431.1 62.3,430.6 62.8,431.1 63.3,430.6 63.8,430.9 63.9,430.5 64.1,429.6 64.3,428.5 64.5,427.8 64.7,428.4 64.8,428.6 64.9,428.7 65.0,428.8 65.1,428.4 65.2,427.1 65.3,425.2 65.4,424.1 65.6,421.9 65.8,424.2 66.0,427.0 66.2,429.7 66.3,429.8 66.8,430.8 67.3,430.5 67.8,430.5 68.3,430.8 68.8,430.0 69.0,429.7 69.2,420.1 69.3,394.7 69.4,353.0 69.6,353.0 69.8,353.0 70.0,418.0 70.2,423.8 70.3,422.0 70.4,419.4 70.6,416.6 70.8,419.6 71.0,425.4 71.2,428.2 71.3,429.5 71.4,429.3 71.6,428.8 71.8,427.8 72.0,426.5 72.2,427.4 72.3,428.6 72.4,429.1 72.6,429.9 72.8,430.9 73.3,430.5 73.8,430.4 74.3,430.7 74.8,430.9 75.3,430.9 75.6,430.3 75.8,430.0 76.0,429.1 76.2,429.0 76.3,429.3 76.4,429.6 76.6,430.4 76.8,430.7 77.3,431.0 77.8,430.9 78.3,430.8 78.8,430.6 79.3,430.9 79.8,430.7 80.3,430.5 80.8,430.8 81.3,431.1 81.8,430.5 82.3,430.9 82.8,430.7 83.3,430.8 83.8,430.5 84.3,431.1 84.8,430.6 85.3,430.7 85.7,429.0 85.8,427.4 85.9,425.9 86.1,421.0 86.3,418.0 86.5,420.9 86.7,425.6 86.8,427.4 86.9,429.1 87.3,430.7 87.8,431.1 88.3,431.1 88.8,431.1 89.3,430.6 89.8,430.8 90.3,430.6 90.8,430.9 91.3,430.9 91.8,431.0 92.3,430.9 92.8,430.6 93.3,430.7 93.8,430.8 94.3,430.5 94.8,430.5 95.3,430.7 95.8,430.5 96.3,431.0 96.8,430.6 97.3,430.5 97.8,430.6 98.3,430.6 98.8,430.6 99.3,430.8 99.8,430.8 100.3,430.7 100.8,430.9 101.3,430.6 101.8,431.1 102.3,431.1 102.8,431.0 103.3,430.8 103.8,430.8 104.3,430.9 104.8,430.5 105.3,430.7 105.8,430.8 106.3,430.6 106.8,430.5 107.3,431.0 107.8,430.7 108.3,430.8 108.8,431.1 109.3,430.9 109.8,430.7 110.3,431.1 110.8,430.7 111.3,430.5 111.8,430.9 112.3,430.5 112.8,430.7 113.3,431.0 113.8,430.9 114.3,430.5 114.8,430.8 115.3,430.7 115.8,430.8 116.3,430.6 116.8,430.8 117.3,430.5 117.8,430.6 118.3,430.7 118.8,431.0 119.3,430.1 119.5,427.2 119.7,400.2 119.8,376.6 119.9,361.7 120.1,400.4 120.3,427.2 120.5,430.3 120.8,430.4 121.3,430.5 121.8,430.5 122.3,431.0 122.8,430.9 123.3,431.1 123.8,430.9 124.3,430.5 124.8,430.9 125.3,431.0 125.8,431.0 126.3,430.8 126.8,430.7 127.3,430.8 127.8,431.0 128.3,430.6 128.8,430.8 129.3,430.8 129.8,431.1 130.3,431.0 130.8,431.1 131.3,431.0 131.8,430.7 132.3,430.6 132.8,430.8 133.3,430.6 133.8,430.7 134.3,430.9 134.8,431.1 135.3,430.9 135.8,431.0 136.3,430.5 136.8,430.7 137.3,431.1 137.8,430.6 138.3,430.7 138.8,430.5 139.3,430.5 139.8,431.1 140.3,431.1 140.8,430.9 141.3,430.5 141.8,430.7 142.3,430.6 142.8,430.9 143.1,430.5 143.3,429.6 143.5,428.5 143.7,427.5 143.8,428.1 143.9,428.8 144.1,429.8 144.3,430.1 144.8,430.8 145.3,430.9 145.8,430.6 146.3,431.1 146.8,430.8 147.3,430.9 147.8,430.7 148.3,431.1 148.8,431.0 149.3,430.8 149.8,430.5 150.3,430.8 150.8,430.5 151.3,430.9 151.8,431.1 152.3,430.6 152.8,430.8 153.3,430.8 153.8,430.7 154.3,430.9 154.8,431.1 155.3,430.9 155.8,430.8 156.3,431.1 156.8,430.7 157.3,431.0 157.8,430.9 158.3,431.0 158.8,431.0 159.3,430.6 159.8,430.9 160.3,430.7 160.8,430.9 161.3,431.1 161.8,430.8 162.3,430.3 162.8,426.0 163.0,417.7 163.2,405.5 163.3,399.9 163.4,397.5 163.6,404.9 163.8,417.9 164.0,426.2 164.3,430.2 164.8,431.0 165.3,431.0 165.8,430.5 166.3,431.0 166.8,431.0 167.3,430.6 167.8,431.0 168.3,430.9 168.8,430.6 169.3,431.0 169.8,430.5 170.3,430.9 170.8,430.8 171.3,430.6 171.8,430.8 172.3,430.8 172.8,430.6 173.3,431.1 173.8,430.5 174.3,430.5 174.8,430.8 175.3,431.0 175.8,430.9 176.3,431.0 176.8,430.8 177.3,430.9 177.8,430.7 178.3,430.6 178.8,430.8 179.3,430.5 179.8,430.5 180.3,431.0 180.8,430.6 181.3,431.0 181.8,431.0 182.3,430.7 182.8,430.9 183.3,431.0 183.8,431.1 184.3,430.5 184.8,430.6 185.3,430.7 185.8,430.8 186.3,430.7 186.8,430.5 187.3,430.8 187.8,431.1 188.3,430.7 188.8,430.8 189.3,430.7 189.8,430.8 190.3,431.1 190.8,430.7 191.3,430.9 191.8,430.8 192.3,430.8 192.8,431.1 193.3,430.5 193.8,431.0 194.3,430.4 194.4,430.3 194.6,429.4 194.8,427.9 195.0,426.7 195.2,428.0 195.3,428.2 195.4,429.3 195.6,430.2 195.8,430.7 196.3,431.0 196.8,431.0 197.3,430.9 197.8,430.7 198.3,430.6 198.8,430.8 199.3,430.6 199.8,430.6 200.3,431.1 200.8,430.5 201.3,431.0 201.8,430.7 202.3,430.7 202.8,430.7 203.3,430.5 203.8,430.8 204.3,430.6 204.8,430.8 205.3,430.7 205.8,431.1 206.3,431.1 206.8,430.8 207.3,430.9 207.8,431.1 208.3,430.7 208.8,430.5 209.3,430.6 209.8,430.6 210.3,430.9 210.8,430.7 211.3,430.7 211.8,431.0 212.3,430.6 212.8,431.0 213.3,430.9 213.8,430.7 214.3,431.0 214.8,430.7 215.3,431.1 215.8,431.1 216.3,430.8 216.8,430.9 217.2,430.2 217.3,429.4 217.4,428.4 217.6,426.1 217.8,424.6 218.0,426.0 218.2,428.6 218.3,429.0 218.4,430.0 218.8,430.9 219.3,430.7 219.8,430.7 220.3,430.6 220.8,431.1 221.3,430.7 221.8,430.8 222.3,431.1 222.8,430.6 223.3,431.1 223.8,430.5 224.3,430.5 224.8,430.7 225.3,430.7 225.8,431.1 226.3,431.1 226.8,431.0 227.3,430.8 227.8,430.8 228.3,430.6 228.8,431.0 229.3,430.7 229.8,430.6 230.3,430.9 230.8,430.6 231.3,430.7" stroke="#1aa0ff" stroke-width="1.3" fill="none" stroke-linejoin="round" />
</g>
<clipPath id="cp3"><rect x="34.3" y="436.40000000000003" width="197.8" height="79.09999999999997"/></clipPath>
<g clip-path="url(#cp3)">
<path d="M34.80,508.84 35.3,509.0 35.8,508.9 36.3,509.1 36.8,509.1 37.3,508.7 37.8,508.7 38.3,509.2 38.8,508.9 39.3,508.8 39.8,509.3 40.3,509.0 40.8,509.2 41.3,509.0 41.8,509.1 42.3,508.8 42.8,509.1 43.3,509.2 43.8,509.0 44.3,509.1 44.8,509.1 45.3,508.7 45.8,509.2 46.3,509.1 46.8,508.9 47.3,508.7 47.8,509.2 48.3,509.0 48.8,509.1 49.3,509.2 49.8,509.1 50.3,509.3 50.8,508.9 51.3,509.2 51.8,509.0 52.3,509.3 52.8,509.2 53.3,508.8 53.8,508.8 54.3,508.8 54.8,509.3 55.3,509.0 55.8,509.1 56.3,508.9 56.8,509.0 57.3,508.9 57.8,508.9 58.3,509.0 58.8,509.0 59.3,509.2 59.8,509.1 60.3,509.2 60.8,509.2 61.3,509.3 61.8,508.9 61.9,508.4 62.1,508.2 62.3,507.3 62.5,506.7 62.7,507.1 62.8,507.6 62.9,507.8 63.1,508.8 63.3,508.9 63.8,507.5 63.9,506.2 64.1,502.3 64.3,495.9 64.5,491.2 64.7,495.8 64.8,498.8 64.9,501.8 65.1,506.3 65.3,508.2 65.4,508.3 65.6,507.0 65.8,505.9 66.0,504.6 66.2,506.0 66.3,506.5 66.4,507.5 66.6,508.6 66.8,508.6 67.3,508.8 67.6,507.7 67.8,497.7 68.0,433.8 68.2,433.8 68.3,433.8 68.4,433.8 68.5,471.1 68.6,494.1 68.7,499.8 68.8,499.5 68.9,496.8 69.1,493.8 69.3,497.5 69.5,502.6 69.7,505.8 69.8,506.3 69.9,506.0 70.1,504.2 70.3,502.9 70.5,504.4 70.7,506.8 70.8,507.4 70.9,508.0 71.3,509.0 71.8,508.8 72.3,508.8 72.8,509.2 73.3,509.0 73.7,508.6 73.8,507.9 73.9,507.7 74.1,506.7 74.3,505.7 74.5,506.8 74.7,507.9 74.8,508.0 74.9,508.6 75.3,508.9 75.8,509.1 76.3,508.9 76.8,509.1 77.3,509.1 77.8,508.7 78.3,508.7 78.8,509.1 79.3,509.3 79.8,508.8 80.3,509.0 80.8,509.0 81.3,508.9 81.8,508.9 82.3,508.9 82.8,508.9 83.3,509.0 83.8,508.6 84.0,508.0 84.2,506.5 84.3,504.8 84.4,503.9 84.6,502.3 84.8,503.7 85.0,506.1 85.2,508.2 85.3,508.3 85.8,508.8 86.3,508.9 86.8,509.1 87.3,508.8 87.8,508.9 88.3,508.9 88.8,509.2 89.3,509.0 89.8,509.2 90.3,508.8 90.8,508.9 91.3,509.1 91.8,509.2 92.3,509.0 92.8,508.8 93.3,508.8 93.8,509.0 94.3,508.8 94.8,509.2 95.3,509.2 95.8,508.8 96.3,508.9 96.8,509.2 97.3,509.1 97.8,509.2 98.3,508.9 98.8,508.8 99.3,508.9 99.8,509.2 100.3,508.9 100.8,508.9 101.3,508.9 101.8,509.0 102.3,508.9 102.8,509.3 103.3,508.8 103.8,508.7 104.3,509.3 104.8,509.2 105.3,509.3 105.8,509.0 106.3,509.3 106.8,509.3 107.3,508.8 107.8,509.1 108.3,509.2 108.8,509.1 109.3,509.0 109.8,508.9 110.3,508.9 110.8,508.8 111.3,508.7 111.8,509.1 112.3,508.9 112.8,509.2 113.3,508.7 113.8,509.2 114.3,509.1 114.8,509.2 115.3,509.2 115.8,509.2 116.3,509.0 116.8,508.7 117.3,509.1 117.8,508.6 118.0,508.5 118.2,505.5 118.3,497.2 118.4,479.8 118.6,443.1 118.8,479.9 119.0,505.3 119.2,508.5 119.3,509.0 119.8,508.9 120.3,509.1 120.8,508.9 121.3,508.8 121.8,509.0 122.3,509.2 122.8,508.8 123.3,509.2 123.8,509.2 124.3,509.2 124.8,509.2 125.3,508.7 125.8,509.1 126.3,509.2 126.8,508.7 127.3,508.9 127.8,508.9 128.3,509.0 128.8,509.0 129.3,509.0 129.8,509.2 130.3,508.7 130.8,508.7 131.3,508.8 131.8,508.8 132.3,508.7 132.8,509.3 133.3,509.2 133.8,508.8 134.3,509.0 134.8,508.9 135.3,508.9 135.8,508.9 136.3,509.0 136.4,508.8 136.6,508.3 136.8,507.7 137.0,507.4 137.2,507.6 137.3,508.2 137.4,508.5 137.6,508.7 137.8,508.7 138.3,508.8 138.8,508.9 139.3,509.1 139.8,509.2 140.3,508.9 140.8,509.2 141.3,509.1 141.8,509.0 142.3,508.9 142.8,509.0 143.3,509.1 143.8,509.0 144.3,509.1 144.8,509.0 145.3,508.8 145.8,509.0 146.3,509.1 146.8,508.7 147.3,509.0 147.8,509.0 148.3,509.2 148.8,509.3 149.3,508.9 149.8,509.2 150.3,509.2 150.8,508.9 151.3,509.0 151.8,508.8 152.3,509.2 152.8,509.1 153.3,509.2 153.8,509.2 154.3,509.1 154.8,509.1 155.3,509.0 155.8,508.8 156.3,509.1 156.8,508.7 157.3,508.8 157.8,509.2 158.3,508.7 158.8,508.8 159.3,508.8 159.8,509.2 160.3,508.8 160.8,508.7 161.3,509.1 161.4,508.5 161.6,508.5 161.8,507.7 162.0,507.4 162.2,507.9 162.3,508.0 162.4,508.5 162.6,508.5 162.8,509.1 163.3,509.0 163.8,509.1 164.3,508.8 164.8,509.1 165.3,509.3 165.8,508.7 166.3,508.9 166.8,509.0 167.3,509.2 167.8,508.8 168.3,508.8 168.8,508.8 169.3,509.1 169.8,509.2 170.3,508.9 170.8,508.9 171.3,508.9 171.8,508.9 172.3,509.0 172.8,508.7 173.3,509.0 173.8,509.3 174.3,508.9 174.8,509.1 175.3,508.8 175.8,509.1 176.3,509.2 176.8,509.1 177.3,509.0 177.8,509.0 178.3,509.1 178.8,509.2 179.3,508.8 179.8,508.8 180.3,509.1 180.8,509.2 181.3,509.0 181.8,509.0 182.3,509.1 182.8,508.8 183.3,508.9 183.8,508.8 184.3,509.1 184.8,508.9 185.3,508.8 185.8,509.1 186.3,509.3 186.8,508.9 187.3,509.1 187.8,508.9 188.3,509.2 188.8,509.1 189.3,508.9 189.8,508.8 190.3,508.7 190.8,509.0 191.3,508.9 191.8,508.8 192.3,508.9 192.8,508.9 193.3,509.2 193.8,508.8 194.3,509.3 194.8,509.0 195.3,509.1 195.8,509.0 196.3,509.2 196.8,509.2 197.3,509.0 197.8,509.0 198.3,509.1 198.8,509.2 199.3,508.9 199.8,509.1 200.3,509.3 200.8,509.0 201.3,508.8 201.8,508.7 201.9,508.8 202.1,508.2 202.3,507.6 202.5,507.0 202.7,507.2 202.8,507.6 202.9,508.0 203.1,508.5 203.3,509.0 203.8,509.2 204.3,509.2 204.8,508.9 205.3,509.2 205.8,508.9 206.3,509.0 206.8,509.1 207.3,508.8 207.8,508.8 208.3,509.2 208.8,508.9 209.3,508.9 209.8,509.0 210.3,509.1 210.8,508.7 211.3,508.9 211.8,509.0 212.3,509.0 212.8,508.8 213.3,509.1 213.8,509.3 214.3,508.9 214.8,509.0 215.3,508.8 215.8,508.9 216.3,509.1 216.8,508.8 217.3,509.2 217.8,509.2 218.3,508.8 218.8,509.3 219.3,508.9 219.8,509.2 220.3,509.2 220.8,508.9 221.3,509.1 221.8,509.1 222.3,509.2 222.8,508.9 223.3,509.2 223.8,509.3 224.3,509.1 224.8,509.0 225.3,508.8 225.8,509.0 226.3,508.9 226.8,509.1 227.3,509.1 227.8,509.0 228.3,508.8 228.8,509.1 229.3,509.1 229.8,508.8 230.3,509.2 230.8,509.1 231.3,508.8" stroke="#111111" stroke-width="1.2" fill="none" stroke-linejoin="round" />
</g>
<line x1="33.70" y1="274.70" x2="232.70" y2="274.70" stroke="#000" stroke-width="1.3" />
<line x1="33.70" y1="355.00" x2="232.70" y2="355.00" stroke="#000" stroke-width="1.3" />
<line x1="33.70" y1="435.80" x2="232.70" y2="435.80" stroke="#000" stroke-width="1.3" />
<line x1="33.70" y1="515.50" x2="232.70" y2="515.50" stroke="#000" stroke-width="1.3" />
<line x1="34.30" y1="274.70" x2="34.30" y2="515.50" stroke="#000" stroke-width="1.3" />
<line x1="232.10" y1="274.70" x2="232.10" y2="515.50" stroke="#000" stroke-width="1.3" />
<line x1="44.80" y1="355.00" x2="44.80" y2="352.00" stroke="#000" stroke-width="1" />
<line x1="71.47" y1="355.00" x2="71.47" y2="353.00" stroke="#000" stroke-width="1" />
<line x1="98.15" y1="355.00" x2="98.15" y2="352.00" stroke="#000" stroke-width="1" />
<line x1="124.83" y1="355.00" x2="124.83" y2="353.00" stroke="#000" stroke-width="1" />
<line x1="151.50" y1="355.00" x2="151.50" y2="352.00" stroke="#000" stroke-width="1" />
<line x1="178.18" y1="355.00" x2="178.18" y2="353.00" stroke="#000" stroke-width="1" />
<line x1="204.85" y1="355.00" x2="204.85" y2="352.00" stroke="#000" stroke-width="1" />
<line x1="44.80" y1="435.80" x2="44.80" y2="432.80" stroke="#000" stroke-width="1" />
<line x1="71.47" y1="435.80" x2="71.47" y2="433.80" stroke="#000" stroke-width="1" />
<line x1="98.15" y1="435.80" x2="98.15" y2="432.80" stroke="#000" stroke-width="1" />
<line x1="124.83" y1="435.80" x2="124.83" y2="433.80" stroke="#000" stroke-width="1" />
<line x1="151.50" y1="435.80" x2="151.50" y2="432.80" stroke="#000" stroke-width="1" />
<line x1="178.18" y1="435.80" x2="178.18" y2="433.80" stroke="#000" stroke-width="1" />
<line x1="204.85" y1="435.80" x2="204.85" y2="432.80" stroke="#000" stroke-width="1" />
<line x1="44.80" y1="515.50" x2="44.80" y2="512.50" stroke="#000" stroke-width="1" />
<line x1="71.47" y1="515.50" x2="71.47" y2="513.50" stroke="#000" stroke-width="1" />
<line x1="98.15" y1="515.50" x2="98.15" y2="512.50" stroke="#000" stroke-width="1" />
<line x1="124.83" y1="515.50" x2="124.83" y2="513.50" stroke="#000" stroke-width="1" />
<line x1="151.50" y1="515.50" x2="151.50" y2="512.50" stroke="#000" stroke-width="1" />
<line x1="178.18" y1="515.50" x2="178.18" y2="513.50" stroke="#000" stroke-width="1" />
<line x1="204.85" y1="515.50" x2="204.85" y2="512.50" stroke="#000" stroke-width="1" />
<line x1="34.30" y1="280.62" x2="36.10" y2="280.62" stroke="#000" stroke-width="1" />
<line x1="34.30" y1="290.70" x2="37.30" y2="290.70" stroke="#000" stroke-width="1" />
<line x1="34.30" y1="300.77" x2="36.10" y2="300.77" stroke="#000" stroke-width="1" />
<line x1="34.30" y1="310.85" x2="37.30" y2="310.85" stroke="#000" stroke-width="1" />
<line x1="34.30" y1="320.93" x2="36.10" y2="320.93" stroke="#000" stroke-width="1" />
<line x1="34.30" y1="331.00" x2="37.30" y2="331.00" stroke="#000" stroke-width="1" />
<line x1="34.30" y1="341.07" x2="36.10" y2="341.07" stroke="#000" stroke-width="1" />
<line x1="34.30" y1="351.15" x2="37.30" y2="351.15" stroke="#000" stroke-width="1" />
<line x1="34.30" y1="360.62" x2="36.10" y2="360.62" stroke="#000" stroke-width="1" />
<line x1="34.30" y1="370.70" x2="37.30" y2="370.70" stroke="#000" stroke-width="1" />
<line x1="34.30" y1="380.77" x2="36.10" y2="380.77" stroke="#000" stroke-width="1" />
<line x1="34.30" y1="390.85" x2="37.30" y2="390.85" stroke="#000" stroke-width="1" />
<line x1="34.30" y1="400.93" x2="36.10" y2="400.93" stroke="#000" stroke-width="1" />
<line x1="34.30" y1="411.00" x2="37.30" y2="411.00" stroke="#000" stroke-width="1" />
<line x1="34.30" y1="421.07" x2="36.10" y2="421.07" stroke="#000" stroke-width="1" />
<line x1="34.30" y1="431.15" x2="37.30" y2="431.15" stroke="#000" stroke-width="1" />
<line x1="34.30" y1="437.75" x2="36.10" y2="437.75" stroke="#000" stroke-width="1" />
<line x1="34.30" y1="448.00" x2="37.30" y2="448.00" stroke="#000" stroke-width="1" />
<line x1="34.30" y1="458.25" x2="36.10" y2="458.25" stroke="#000" stroke-width="1" />
<line x1="34.30" y1="468.50" x2="37.30" y2="468.50" stroke="#000" stroke-width="1" />
<line x1="34.30" y1="478.75" x2="36.10" y2="478.75" stroke="#000" stroke-width="1" />
<line x1="34.30" y1="489.00" x2="37.30" y2="489.00" stroke="#000" stroke-width="1" />
<line x1="34.30" y1="499.25" x2="36.10" y2="499.25" stroke="#000" stroke-width="1" />
<line x1="34.30" y1="509.50" x2="37.30" y2="509.50" stroke="#000" stroke-width="1" />
<circle cx="70.30" cy="319.50" r="5.3" fill="rgba(140,95,190,0.75)" stroke="none" stroke-width="1" />
<circle cx="87.80" cy="306.20" r="5.3" fill="#fbd060" stroke="none" stroke-width="1" />
<text x="78.40" y="297.10" font-size="9.33" fill="#111" text-anchor="middle" font-weight="bold" >HO</text>
<path d="M84.20,298.80 88.2,306.6 102.3,306.9 107.6,300.0" stroke="#111" stroke-width="1.35" fill="none" stroke-linejoin="round" stroke-linecap="round"/>
<line x1="102.30" y1="306.90" x2="108.00" y2="315.00" stroke="#111" stroke-width="1.3" stroke-linecap="round"/>
<line x1="104.02" y1="305.69" x2="109.72" y2="313.79" stroke="#111" stroke-width="1.3" stroke-linecap="round"/>
<text x="110.40" y="298.50" font-size="9.33" fill="#111" text-anchor="middle" font-weight="bold" >O</text>
<text x="112.40" y="291.60" font-size="7" fill="#111" text-anchor="start" font-weight="bold" >−</text>
<text x="108.90" y="323.00" font-size="9.33" fill="#111" text-anchor="middle" font-weight="bold" >O</text>
<path d="M136.40,319.60 141.2,311.5 155.0,312.2 159.5,304.6" stroke="#111" stroke-width="1.35" fill="none" stroke-linejoin="round" stroke-linecap="round"/>
<circle cx="141.50" cy="311.80" r="5.3" fill="rgba(140,95,190,0.75)" stroke="none" stroke-width="1" />
<text x="130.60" y="326.20" font-size="9.33" fill="#111" text-anchor="middle" font-weight="bold" >HO</text>
<text x="165.00" y="303.30" font-size="9.33" fill="#111" text-anchor="middle" font-weight="bold" >OH</text>
<circle cx="181.50" cy="318.80" r="5.3" fill="#5fcd92" stroke="none" stroke-width="1" />
<text x="178.50" y="322.50" font-size="9.2" fill="#111" text-anchor="start" font-weight="bold" >H<tspan font-size="6.2" dy="2">3</tspan><tspan dy="-2">C</tspan></text>
<path d="M196.70,319.50 206.5,320.1 212.0,312.6" stroke="#111" stroke-width="1.35" fill="none" stroke-linejoin="round" stroke-linecap="round"/>
<line x1="206.50" y1="320.10" x2="212.50" y2="327.70" stroke="#111" stroke-width="1.3" stroke-linecap="round"/>
<line x1="208.15" y1="318.80" x2="214.15" y2="326.40" stroke="#111" stroke-width="1.3" stroke-linecap="round"/>
<text x="214.40" y="311.40" font-size="9.33" fill="#111" text-anchor="middle" font-weight="bold" >O</text>
<text x="219.70" y="305.00" font-size="7" fill="#111" text-anchor="middle" font-weight="bold" >−</text>
<text x="213.60" y="336.10" font-size="9.33" fill="#111" text-anchor="middle" font-weight="bold" >O</text>
<circle cx="46.50" cy="393.90" r="5.4" fill="#f8a8ae" stroke="none" stroke-width="1" />
<line x1="42.40" y1="401.20" x2="45.90" y2="393.90" stroke="#111" stroke-width="1.3" stroke-linecap="round"/>
<line x1="44.29" y1="402.11" x2="47.79" y2="394.81" stroke="#111" stroke-width="1.3" stroke-linecap="round"/>
<path d="M45.90,393.90 58.7,392.6" stroke="#111" stroke-width="1.35" fill="none" stroke-linejoin="round" stroke-linecap="round"/>
<line x1="58.70" y1="392.60" x2="61.60" y2="385.00" stroke="#111" stroke-width="1.3" stroke-linecap="round"/>
<line x1="60.66" y1="393.35" x2="63.56" y2="385.75" stroke="#111" stroke-width="1.3" stroke-linecap="round"/>
<text x="40.10" y="408.60" font-size="9.12" fill="#111" text-anchor="middle" font-weight="bold" >O</text>
<text x="62.50" y="382.40" font-size="9.12" fill="#111" text-anchor="middle" font-weight="bold" >O</text>
<line x1="82.60" y1="369.60" x2="88.10" y2="377.30" stroke="#111" stroke-width="1.3" stroke-linecap="round"/>
<line x1="80.89" y1="370.82" x2="86.39" y2="378.52" stroke="#111" stroke-width="1.3" stroke-linecap="round"/>
<path d="M84.30,383.70 88.1,377.3 99.0,377.3" stroke="#111" stroke-width="1.35" fill="none" stroke-linejoin="round" stroke-linecap="round"/>
<line x1="99.00" y1="377.30" x2="104.80" y2="369.30" stroke="#111" stroke-width="1.3" stroke-linecap="round"/>
<line x1="97.30" y1="376.07" x2="103.10" y2="368.07" stroke="#111" stroke-width="1.3" stroke-linecap="round"/>
<circle cx="99.00" cy="377.30" r="5.4" fill="rgba(125,125,125,0.85)" stroke="none" stroke-width="1" />
<text x="82.00" y="368.70" font-size="8.9" fill="#111" text-anchor="middle" font-weight="bold" >O</text>
<text x="78.00" y="391.70" font-size="8.9" fill="#111" text-anchor="middle" font-weight="bold" >HO</text>
<text x="107.30" y="368.70" font-size="8.9" fill="#111" text-anchor="middle" font-weight="bold" >O</text>
<line x1="130.20" y1="282.30" x2="155.00" y2="282.30" stroke="#ad186a" stroke-width="1.2" />
<text x="159.40" y="286.60" font-size="11.4" fill="#000" text-anchor="start" font-weight="bold" textLength="70.10" lengthAdjust="spacingAndGlyphs" >MCIrSA+PET</text>
<line x1="148.90" y1="364.00" x2="176.40" y2="364.00" stroke="#1aa0ff" stroke-width="1.2" />
<text x="180.40" y="368.40" font-size="11.9" fill="#000" text-anchor="start" font-weight="bold" >MC+PET</text>
<line x1="174.80" y1="443.50" x2="201.40" y2="443.50" stroke="#111111" stroke-width="1.0" />
<text x="205.60" y="447.80" font-size="11.6" fill="#000" text-anchor="start" font-weight="bold" >PET</text>
<text x="38.60" y="294.20" font-size="20.0" fill="#000" text-anchor="start" font-weight="bold" >d</text>
<text x="44.80" y="529.33" font-size="12.0" fill="#000" text-anchor="middle" font-weight="bold" >4</text>
<text x="98.15" y="529.33" font-size="12.0" fill="#000" text-anchor="middle" font-weight="bold" >3</text>
<text x="151.50" y="529.33" font-size="12.0" fill="#000" text-anchor="middle" font-weight="bold" >2</text>
<text x="204.85" y="529.33" font-size="12.0" fill="#000" text-anchor="middle" font-weight="bold" >1</text>
<text x="98.70" y="543.10" font-size="14.6" fill="#000" text-anchor="start" font-weight="bold" textLength="54.60" lengthAdjust="spacingAndGlyphs" >δ (ppm)</text>
<text transform="translate(17.90 391.40) scale(1.060 1) rotate(-90)" x="0" y="5.26" font-size="15.3" fill="#000" text-anchor="middle" font-weight="bold">Signal Intensity</text>
<circle cx="274.90" cy="321.30" r="5.4" fill="#e280cf" stroke="none" stroke-width="1" />
<clipPath id="cp4"><rect x="254.5" y="275.5" width="197.7" height="79.80000000000001"/></clipPath>
<g clip-path="url(#cp4)">
<path d="M255.00,345.59 255.2,347.4 255.3,348.1 255.4,346.4 255.6,345.5 255.8,346.9 255.9,347.5 256.1,348.3 256.2,345.6 256.4,345.5 256.5,347.8 256.6,347.5 256.8,348.8 256.9,348.1 257.1,346.9 257.2,346.7 257.4,350.0 257.6,346.7 257.7,346.1 257.9,345.7 258.0,347.1 258.1,347.2 258.3,346.6 258.4,346.9 258.6,347.3 258.8,347.8 258.9,348.3 259.1,347.2 259.2,344.9 259.4,347.8 259.5,345.4 259.6,346.8 259.8,345.3 259.9,347.0 260.1,346.1 260.2,347.2 260.4,350.8 260.6,346.9 260.7,348.0 260.9,345.5 261.0,346.7 261.1,347.8 261.3,346.9 261.4,347.4 261.6,347.1 261.8,345.8 261.9,347.6 262.1,346.1 262.2,349.1 262.4,346.4 262.5,347.8 262.6,347.0 262.8,348.1 262.9,346.3 263.1,348.1 263.2,346.9 263.4,348.4 263.6,347.7 263.7,347.2 263.9,346.1 264.0,347.9 264.1,347.5 264.3,348.9 264.4,346.6 264.6,347.6 264.8,347.6 264.9,347.3 265.1,347.2 265.2,347.2 265.4,346.3 265.5,345.8 265.6,346.5 265.8,347.7 265.9,348.7 266.1,348.1 266.2,348.2 266.4,347.9 266.6,347.8 266.7,347.2 266.9,347.9 267.0,349.0 267.1,346.6 267.3,346.2 267.4,349.2 267.6,347.3 267.8,348.1 267.9,348.0 268.1,345.7 268.2,349.8 268.4,349.0 268.5,347.2 268.6,347.9 268.8,347.1 268.9,346.0 269.1,346.9 269.2,347.4 269.4,348.3 269.6,347.8 269.7,347.1 269.9,348.6 270.0,346.1 270.1,347.9 270.3,348.3 270.4,346.7 270.6,344.9 270.8,345.9 270.9,347.3 271.1,347.6 271.2,348.8 271.4,345.8 271.5,347.0 271.6,347.7 271.8,346.8 271.9,344.3 272.1,347.9 272.2,349.6 272.4,348.1 272.6,345.9 272.7,346.5 272.9,347.2 273.0,349.8 273.1,347.7 273.3,347.1 273.4,348.7 273.6,346.8 273.8,349.0 273.9,346.0 274.1,346.0 274.2,346.4 274.3,346.0 274.4,344.2 274.5,340.0 274.6,332.5 274.7,332.1 274.8,329.2 274.9,327.9 274.9,329.5 275.1,332.5 275.2,339.0 275.3,339.8 275.4,342.0 275.5,344.5 275.6,345.6 275.7,347.3 275.9,346.2 276.0,346.6 276.1,345.4 276.3,348.8 276.4,348.6 276.6,346.8 276.8,346.4 276.9,345.5 277.1,347.2 277.2,347.2 277.4,349.5 277.5,347.3 277.6,346.1 277.8,344.2 277.9,348.6 278.1,347.2 278.2,345.1 278.4,347.2 278.6,345.1 278.7,351.0 278.9,348.3 279.0,347.6 279.1,346.8 279.3,344.5 279.4,346.8 279.6,345.2 279.8,347.7 279.9,344.5 280.1,345.9 280.2,348.4 280.4,348.9 280.5,345.6 280.6,345.2 280.8,348.0 280.9,348.0 281.1,345.9 281.2,346.2 281.4,346.2 281.6,345.6 281.7,346.2 281.9,348.4 282.0,347.8 282.1,349.4 282.3,346.9 282.4,346.8 282.6,345.9 282.8,346.9 282.9,345.5 283.1,344.9 283.2,347.8 283.4,348.6 283.5,348.0 283.6,348.5 283.8,347.3 283.9,346.2 284.1,347.1 284.2,346.6 284.4,345.7 284.6,345.0 284.7,345.3 284.9,347.0 285.0,347.2 285.1,346.4 285.3,348.6 285.4,347.2 285.6,347.7 285.8,348.4 285.9,346.1 286.1,344.7 286.2,347.9 286.4,346.2 286.5,348.5 286.6,347.4 286.8,348.2 286.9,347.9 287.1,344.6 287.2,347.8 287.4,346.2 287.6,346.1 287.7,346.5 287.9,347.9 288.0,348.0 288.1,348.2 288.3,345.1 288.4,346.3 288.6,344.3 288.8,346.9 288.9,347.7 289.1,346.1 289.2,347.3 289.4,347.3 289.5,348.2 289.6,346.0 289.8,346.0 289.9,346.1 290.1,349.0 290.2,348.2 290.4,346.9 290.6,347.3 290.7,347.1 290.9,347.2 291.0,346.8 291.1,346.6 291.3,345.5 291.4,346.3 291.6,348.9 291.8,347.6 291.9,347.1 292.1,346.7 292.2,347.1 292.4,347.4 292.5,346.2 292.6,347.2 292.8,347.3 292.9,346.1 293.1,346.1 293.2,345.8 293.4,345.8 293.6,348.0 293.7,344.3 293.9,346.7 294.0,346.3 294.1,346.3 294.3,347.1 294.4,348.3 294.6,347.1 294.8,346.8 294.9,346.3 295.1,346.8 295.2,348.0 295.4,346.5 295.5,345.7 295.6,345.5 295.8,345.7 295.9,345.4 296.1,348.2 296.2,347.3 296.4,346.5 296.6,348.1 296.7,344.6 296.9,344.2 296.9,343.4 297.0,338.6 297.1,336.4 297.1,336.2 297.3,336.5 297.4,338.7 297.5,336.8 297.6,341.6 297.7,342.0 297.8,342.9 297.9,344.7 298.1,346.0 298.2,344.7 298.4,345.8 298.5,345.5 298.6,347.5 298.8,349.4 298.9,350.1 299.1,346.6 299.2,345.0 299.4,346.5 299.6,345.9 299.7,349.3 299.9,347.6 300.0,346.1 300.1,348.1 300.3,347.6 300.4,345.1 300.6,346.4 300.8,346.7 300.9,347.0 301.1,347.1 301.2,346.6 301.4,347.2 301.5,346.3 301.6,346.0 301.8,348.7 301.9,347.4 302.1,347.5 302.2,345.2 302.4,346.8 302.6,347.9 302.7,345.5 302.9,348.3 303.0,346.5 303.1,347.5 303.3,346.8 303.4,347.2 303.6,348.4 303.8,346.5 303.9,348.8 304.1,346.1 304.2,345.9 304.4,347.8 304.5,345.8 304.6,346.6 304.8,348.0 304.9,348.4 305.1,344.9 305.2,347.6 305.4,349.2 305.6,348.4 305.7,346.7 305.9,346.3 306.0,346.6 306.1,345.7 306.3,346.7 306.4,346.8 306.6,346.8 306.8,348.3 306.9,346.7 307.1,345.3 307.2,348.2 307.4,345.8 307.5,346.5 307.6,346.8 307.8,346.6 307.9,345.8 308.1,346.7 308.2,349.5 308.4,346.3 308.6,346.8 308.7,348.3 308.9,347.8 309.0,347.9 309.1,348.0 309.3,344.7 309.4,346.0 309.6,347.1 309.8,347.6 309.9,348.5 310.1,347.5 310.2,346.7 310.4,347.0 310.5,346.7 310.6,347.3 310.8,347.8 310.9,346.6 311.1,346.1 311.2,346.0 311.4,348.2 311.6,348.5 311.7,348.1 311.9,348.0 312.0,347.9 312.1,347.0 312.3,347.7 312.4,345.8 312.6,346.8 312.8,346.1 312.9,347.8 313.1,346.3 313.2,346.9 313.4,347.4 313.5,348.5 313.6,346.1 313.8,345.9 313.9,347.9 314.1,345.7 314.2,347.5 314.4,346.3 314.6,346.9 314.7,344.9 314.9,347.8 315.0,346.4 315.1,346.0 315.3,349.4 315.4,347.8 315.6,351.0 315.8,347.5 315.9,346.6 316.1,347.1 316.2,348.8 316.4,347.0 316.5,347.5 316.6,347.6 316.8,345.9 316.9,347.1 317.1,346.4 317.2,345.5 317.4,348.0 317.6,347.7 317.7,347.1 317.9,345.9 318.0,344.7 318.1,347.5 318.3,346.9 318.4,345.0 318.6,346.9 318.8,345.2 318.9,346.9 319.1,347.1 319.2,347.4 319.4,347.2 319.5,347.2 319.6,345.7 319.8,346.5 319.9,346.4 320.1,346.7 320.2,347.3 320.4,347.7 320.6,348.9 320.7,344.0 320.9,347.4 321.0,346.7 321.1,349.6 321.3,348.1 321.4,345.1 321.6,347.4 321.8,346.4 321.9,348.1 322.1,345.8 322.2,346.9 322.4,346.8 322.5,346.9 322.6,346.3 322.8,344.9 322.9,347.5 323.1,348.1 323.2,346.9 323.4,345.8 323.6,347.2 323.7,347.6 323.9,346.8 324.0,347.0 324.1,348.6 324.3,345.7 324.4,346.3 324.6,344.8 324.8,346.2 324.9,346.1 325.1,345.9 325.2,346.2 325.4,349.0 325.5,346.7 325.6,346.8 325.8,349.5 325.9,346.9 326.1,345.0 326.2,347.4 326.4,345.9 326.6,348.8 326.7,345.5 326.9,346.3 327.0,345.1 327.1,347.1 327.3,345.8 327.4,346.9 327.6,346.5 327.8,346.3 327.9,348.0 328.1,348.0 328.2,347.0 328.4,345.9 328.5,345.7 328.6,347.3 328.8,349.7 328.9,346.4 329.1,346.1 329.2,346.2 329.4,345.7 329.6,345.8 329.7,346.7 329.9,348.6 330.0,346.9 330.1,346.4 330.3,345.1 330.4,347.2 330.6,346.9 330.8,345.5 330.9,345.7 331.1,346.9 331.2,348.1 331.4,347.7 331.5,347.2 331.6,346.5 331.8,347.3 331.9,346.9 332.1,349.3 332.2,345.3 332.4,345.5 332.6,346.2 332.6,343.9 332.7,344.6 332.8,341.5 332.9,341.2 333.0,339.5 333.1,339.4 333.2,340.5 333.3,345.5 333.4,344.9 333.4,345.4 333.6,347.0 333.8,347.2 333.9,348.0 334.1,346.5 334.2,346.6 334.4,348.0 334.5,346.5 334.6,345.3 334.8,346.6 334.9,346.2 335.1,347.5 335.2,345.9 335.4,345.1 335.6,344.8 335.6,346.3 335.7,342.8 335.8,340.6 335.9,339.0 336.0,334.7 336.1,331.8 336.2,332.0 336.3,329.7 336.4,335.9 336.4,335.9 336.6,340.0 336.8,346.5 336.8,344.3 336.9,347.9 337.1,347.5 337.2,345.5 337.4,347.3 337.5,347.5 337.6,346.3 337.8,342.9 337.9,344.0 337.9,343.3 338.1,338.7 338.2,337.3 338.3,333.3 338.4,330.2 338.5,329.0 338.6,328.8 338.7,332.7 338.9,338.6 338.9,340.3 339.0,342.0 339.1,344.3 339.1,343.5 339.3,346.8 339.4,345.8 339.6,347.0 339.8,345.8 339.9,346.3 340.1,347.1 340.2,345.4 340.4,349.3 340.4,346.3 340.5,345.9 340.6,344.5 340.6,346.8 340.8,345.5 340.9,343.4 341.0,341.4 341.1,342.7 341.2,344.6 341.2,343.7 341.4,344.1 341.6,344.9 341.6,345.6 341.7,346.7 341.9,346.2 342.0,347.0 342.1,350.3 342.3,349.1 342.4,345.9 342.6,347.5 342.8,347.2 342.9,347.0 343.1,348.4 343.2,346.8 343.4,346.8 343.5,346.8 343.6,347.1 343.8,348.7 343.9,348.2 344.1,345.8 344.2,346.8 344.4,346.4 344.6,348.3 344.7,347.6 344.9,348.4 345.0,347.4 345.1,345.3 345.3,348.0 345.4,347.8 345.6,348.2 345.8,346.2 345.9,347.8 346.1,347.0 346.2,347.1 346.4,348.4 346.5,348.5 346.6,347.2 346.8,346.4 346.9,345.7 347.1,348.0 347.2,350.1 347.4,348.9 347.6,346.5 347.7,348.3 347.9,349.8 348.0,351.3 348.1,350.8 348.3,349.9 348.4,349.6 348.6,348.0 348.8,348.5 348.9,348.4 349.1,347.5 349.2,347.9 349.4,346.8 349.5,346.8 349.6,347.1 349.8,345.1 349.9,343.1 350.1,340.0 350.2,334.2 350.4,324.2 350.6,289.0 350.7,272.9 350.9,272.9 350.9,272.9 351.0,272.9 351.1,272.9 351.1,272.9 351.3,272.9 351.4,272.9 351.5,272.9 351.6,272.9 351.7,272.9 351.8,272.9 351.9,272.9 352.1,272.9 352.1,272.9 352.2,272.9 352.4,272.9 352.5,302.7 352.6,319.2 352.6,325.4 352.8,329.1 352.9,330.5 353.0,329.8 353.1,329.8 353.2,328.8 353.2,327.6 353.4,333.3 353.6,335.3 353.6,338.7 353.7,341.7 353.8,342.3 353.9,341.6 354.0,344.7 354.1,344.1 354.3,342.6 354.4,343.3 354.5,345.0 354.6,342.1 354.7,341.2 354.8,339.9 354.9,335.7 355.1,335.0 355.1,335.9 355.2,336.5 355.3,337.8 355.4,336.5 355.5,343.2 355.6,344.8 355.7,345.6 355.8,346.7 355.9,345.2 356.1,345.3 356.2,346.4 356.4,348.1 356.6,344.3 356.7,346.0 356.9,345.5 357.0,347.0 357.1,348.0 357.3,346.1 357.4,345.0 357.6,346.5 357.8,346.2 357.9,344.7 358.1,347.5 358.2,345.9 358.4,347.4 358.5,345.1 358.6,347.9 358.8,345.0 358.9,347.8 359.1,344.6 359.2,348.3 359.4,346.2 359.6,344.9 359.7,346.4 359.9,347.1 360.0,345.6 360.1,346.2 360.3,347.0 360.4,346.6 360.6,343.2 360.8,346.3 360.9,347.3 361.1,347.1 361.2,347.9 361.4,346.0 361.5,349.7 361.6,347.7 361.8,347.2 361.9,348.1 362.1,347.9 362.2,346.9 362.4,346.1 362.6,348.0 362.7,347.3 362.9,344.7 363.0,345.6 363.1,347.4 363.3,347.0 363.4,347.2 363.6,347.6 363.8,347.0 363.9,348.7 364.1,346.2 364.2,346.4 364.4,347.2 364.5,347.7 364.6,347.8 364.8,348.6 364.9,346.3 365.1,348.2 365.2,347.4 365.4,345.7 365.6,346.7 365.7,349.3 365.9,347.8 366.0,346.4 366.1,344.1 366.3,346.1 366.4,346.1 366.6,347.0 366.8,349.6 366.9,347.8 367.1,347.3 367.2,345.8 367.4,345.5 367.5,346.6 367.6,346.3 367.8,350.2 367.9,345.9 368.1,344.9 368.2,345.2 368.3,343.3 368.4,340.0 368.5,341.2 368.6,338.5 368.7,335.9 368.9,339.2 368.9,340.2 369.0,341.0 369.1,343.9 369.1,344.7 369.3,344.2 369.4,343.1 369.4,342.7 369.6,344.6 369.8,344.9 369.8,344.2 369.9,343.9 370.0,344.0 370.1,342.0 370.2,344.3 370.4,342.8 370.4,345.7 370.5,346.1 370.6,346.1 370.6,345.9 370.8,345.5 370.9,347.0 371.1,348.4 371.2,346.5 371.4,347.5 371.6,346.2 371.7,347.2 371.9,345.8 372.0,347.4 372.1,346.7 372.3,347.3 372.4,346.2 372.6,345.6 372.8,346.6 372.9,348.1 373.1,348.8 373.2,346.6 373.4,347.9 373.5,347.8 373.6,347.4 373.8,345.2 373.9,347.3 374.1,345.8 374.2,348.3 374.4,347.9 374.6,347.7 374.7,344.0 374.9,347.7 375.0,347.8 375.1,345.5 375.3,348.1 375.4,347.0 375.6,346.8 375.8,346.1 375.9,345.8 376.1,346.5 376.2,350.5 376.4,347.2 376.5,347.2 376.6,346.2 376.8,346.3 376.9,346.3 377.1,345.9 377.2,348.0 377.4,346.7 377.6,348.0 377.7,345.6 377.9,348.0 378.0,346.9 378.1,347.7 378.3,346.9 378.4,345.9 378.6,348.4 378.8,346.5 378.9,346.8 379.1,346.0 379.2,347.2 379.4,346.5 379.5,347.3 379.6,347.4 379.8,346.2 379.9,345.4 380.1,347.5 380.2,348.0 380.4,347.8 380.6,345.7 380.7,347.7 380.9,347.4 381.0,347.3 381.1,347.5 381.3,346.6 381.4,347.2 381.6,348.0 381.8,346.4 381.9,345.3 382.1,346.9 382.2,347.2 382.4,344.9 382.5,346.2 382.6,347.7 382.8,346.8 382.9,347.1 383.1,345.5 383.2,348.0 383.4,349.0 383.6,346.7 383.7,346.1 383.9,345.6 384.0,348.0 384.1,347.1 384.3,346.1 384.4,348.4 384.6,347.9 384.8,347.7 384.9,345.0 385.1,346.9 385.2,347.7 385.4,345.6 385.5,348.0 385.6,348.6 385.8,348.2 385.9,346.2 386.1,346.2 386.2,348.1 386.4,348.1 386.6,348.4 386.7,348.4 386.9,346.9 387.0,346.5 387.1,344.8 387.3,347.9 387.4,349.6 387.6,346.5 387.8,346.4 387.9,347.7 388.1,347.4 388.2,345.4 388.4,346.2 388.5,345.7 388.6,349.3 388.8,346.2 388.9,348.0 389.1,349.2 389.2,349.2 389.4,348.6 389.6,348.9 389.7,345.6 389.9,346.6 390.0,346.1 390.1,346.7 390.3,350.0 390.4,345.1 390.6,347.6 390.8,345.6 390.9,348.5 391.1,348.5 391.2,346.4 391.4,349.4 391.5,347.1 391.6,348.5 391.8,347.3 391.9,346.3 392.1,346.5 392.2,346.8 392.4,347.7 392.6,347.1 392.7,349.7 392.9,346.8 393.0,346.4 393.1,346.2 393.3,346.1 393.4,345.3 393.6,345.8 393.8,348.0 393.9,347.1 394.1,346.8 394.2,347.4 394.4,348.2 394.5,347.7 394.6,347.9 394.8,346.3 394.9,346.7 395.1,346.1 395.2,346.9 395.4,346.0 395.6,346.5 395.7,346.8 395.9,346.7 396.0,346.6 396.1,346.4 396.3,348.4 396.4,346.5 396.6,345.7 396.8,346.8 396.9,344.6 397.0,343.7 397.1,344.3 397.2,339.3 397.4,333.6 397.4,336.3 397.5,334.8 397.6,330.6 397.6,331.7 397.8,336.6 397.9,337.7 398.0,340.2 398.1,342.0 398.2,344.7 398.2,343.2 398.4,347.4 398.6,346.3 398.7,346.4 398.9,344.7 398.9,342.1 399.0,343.3 399.1,340.8 399.1,341.9 399.3,340.0 399.4,341.5 399.5,342.2 399.6,344.4 399.7,345.5 399.8,343.9 399.9,346.1 400.1,348.3 400.2,347.4 400.4,346.1 400.5,346.8 400.6,346.6 400.8,348.1 400.9,347.0 401.1,347.4 401.2,349.5 401.4,345.4 401.6,345.8 401.7,345.0 401.9,345.2 402.0,348.0 402.1,347.3 402.3,348.9 402.4,344.7 402.6,346.0 402.8,348.6 402.9,348.2 403.1,348.0 403.2,348.0 403.4,347.0 403.5,347.0 403.6,347.0 403.8,348.0 403.9,346.8 404.1,347.4 404.2,348.7 404.4,345.7 404.6,346.1 404.7,347.6 404.9,346.7 405.0,346.8 405.1,349.4 405.3,347.5 405.4,346.5 405.6,348.3 405.8,349.9 405.9,345.7 406.1,346.2 406.2,347.1 406.4,346.3 406.5,349.5 406.6,347.6 406.8,346.5 406.9,347.6 407.1,346.1 407.2,346.3 407.4,347.1 407.6,349.7 407.7,344.4 407.9,347.5 408.0,348.5 408.1,347.8 408.3,349.2 408.4,347.5 408.6,347.2 408.8,346.8 408.9,346.0 409.1,348.9 409.2,345.6 409.4,346.9 409.5,346.4 409.6,346.1 409.8,344.4 409.9,346.6 410.1,347.2 410.2,347.2 410.4,348.0 410.6,346.8 410.7,346.3 410.9,347.3 411.0,347.8 411.1,346.0 411.3,345.2 411.4,345.8 411.6,348.2 411.8,348.1 411.9,346.0 412.1,347.1 412.2,348.0 412.4,348.5 412.5,346.2 412.6,346.7 412.8,348.6 412.9,349.8 413.1,348.8 413.2,345.7 413.4,347.5 413.6,346.7 413.7,346.9 413.9,346.2 414.0,346.4 414.1,347.0 414.3,349.1 414.4,347.8 414.6,347.5 414.8,347.0 414.9,346.1 415.1,346.7 415.2,348.4 415.4,347.9 415.5,349.3 415.6,347.3 415.8,347.0 415.9,345.1 416.1,347.5 416.2,345.0 416.4,348.7 416.6,346.3 416.7,347.0 416.9,345.4 417.0,346.4 417.1,345.9 417.3,348.3 417.4,347.3 417.6,345.6 417.8,344.8 417.9,346.9 418.1,346.4 418.2,345.7 418.4,347.7 418.5,346.8 418.6,347.1 418.8,346.3 418.9,346.3 419.1,346.5 419.2,345.2 419.4,347.7 419.6,347.5 419.7,345.0 419.9,347.1 420.0,348.3 420.1,347.3 420.3,348.5 420.4,346.7 420.6,347.0 420.8,345.5 420.9,346.0 421.1,344.9 421.2,346.0 421.4,347.3 421.5,347.6 421.6,348.3 421.8,347.1 421.9,345.9 422.1,347.5 422.2,346.8 422.4,349.0 422.6,349.2 422.7,348.1 422.9,345.7 423.0,346.4 423.1,347.2 423.3,346.2 423.4,347.6 423.6,347.8 423.8,348.0 423.9,347.3 424.1,346.0 424.2,346.0 424.4,346.9 424.5,348.5 424.6,348.8 424.8,348.1 424.9,347.4 425.1,347.8 425.2,347.9 425.4,348.5 425.6,348.0 425.7,345.2 425.9,348.1 426.0,347.4 426.1,346.5 426.3,347.6 426.4,347.3 426.6,346.9 426.8,345.1 426.9,347.1 427.1,347.6 427.2,346.9 427.4,345.2 427.5,347.5 427.6,347.8 427.8,347.2 427.9,347.5 428.1,346.6 428.2,346.2 428.4,347.6 428.6,346.6 428.7,347.2 428.9,350.7 429.0,347.8 429.1,347.2 429.3,345.1 429.4,347.1 429.6,347.9 429.8,346.2 429.9,346.7 430.1,344.4 430.2,347.6 430.4,346.3 430.5,347.8 430.6,348.6 430.8,346.8 430.9,348.1 431.1,347.3 431.2,346.8 431.4,346.7 431.6,346.0 431.7,348.5 431.9,348.0 432.0,345.8 432.1,348.0 432.3,346.2 432.4,345.3 432.6,348.4 432.8,345.5 432.9,348.4 433.1,347.2 433.2,348.0 433.4,347.6 433.5,348.3 433.6,347.4 433.8,347.7 433.9,347.3 434.1,348.3 434.2,346.5 434.4,348.2 434.6,348.7 434.7,346.9 434.9,347.5 435.0,346.4 435.1,346.7 435.3,347.3 435.4,346.6 435.6,346.0 435.8,347.0 435.9,347.2 436.1,347.4 436.2,347.8 436.4,345.0 436.5,348.6 436.6,346.8 436.8,346.1 436.9,346.6 437.1,347.5 437.2,348.0 437.4,346.6 437.6,347.2 437.7,345.2 437.9,347.2 438.0,346.9 438.1,346.5 438.3,348.0 438.4,349.1 438.6,348.2 438.8,346.1 438.9,348.8 439.1,346.6 439.2,347.0 439.4,346.3 439.5,347.5 439.6,347.6 439.8,347.2 439.9,346.8 440.1,346.8 440.2,346.5 440.4,348.1 440.6,346.4 440.7,346.8 440.9,346.8 441.0,346.1 441.1,346.7 441.3,345.3 441.4,347.5 441.6,347.6 441.8,346.7 441.9,348.8 442.1,346.1 442.2,347.6 442.4,347.5 442.5,346.4 442.6,346.7 442.8,348.0 442.9,347.1 443.1,347.3 443.2,348.6 443.4,347.2 443.6,345.1 443.7,346.2 443.9,348.0 444.0,346.8 444.1,345.8 444.3,344.7 444.4,347.4 444.6,348.7 444.8,345.6 444.9,344.5 445.1,347.6 445.2,346.4 445.4,346.7 445.5,346.6 445.6,346.0 445.8,347.5 445.9,348.0 446.1,347.4 446.2,346.4 446.4,348.2 446.6,346.9 446.7,347.7 446.9,345.9 447.0,347.7 447.1,347.8 447.3,348.5 447.4,347.0 447.6,347.5 447.8,346.3 447.9,348.0 448.1,347.9 448.2,348.2 448.4,346.6 448.5,345.6 448.6,346.9 448.8,346.8 448.9,346.1 449.1,347.7 449.2,348.1 449.4,347.4 449.6,348.3 449.7,347.5 449.9,345.9 450.0,346.3 450.1,346.6 450.3,347.8 450.4,348.0 450.6,347.2 450.8,348.2 450.9,346.1 451.1,346.9 451.2,348.7 451.4,347.5 451.5,348.2 451.6,344.9" stroke="#a8165f" stroke-width="0.9" fill="none" stroke-linejoin="round" />
</g>
<clipPath id="cp5"><rect x="254.5" y="355.90000000000003" width="197.7" height="79.79999999999995"/></clipPath>
<g clip-path="url(#cp5)">
<path d="M255.00,422.17 255.2,426.0 255.3,424.9 255.4,424.4 255.6,427.7 255.8,425.7 255.9,424.9 256.1,429.6 256.2,424.4 256.4,422.6 256.5,422.3 256.6,424.3 256.8,427.0 256.9,427.5 257.1,428.1 257.2,429.8 257.4,429.5 257.6,427.0 257.7,428.6 257.9,427.1 258.0,424.3 258.1,427.5 258.3,425.7 258.4,425.1 258.6,430.2 258.8,427.4 258.9,424.5 259.1,425.4 259.2,431.0 259.4,425.0 259.5,427.3 259.6,427.1 259.8,426.8 259.9,427.0 260.1,424.5 260.2,424.5 260.4,425.3 260.6,424.8 260.7,427.5 260.9,429.2 261.0,423.6 261.1,426.9 261.3,423.3 261.4,424.0 261.6,425.1 261.8,425.9 261.9,424.6 262.1,419.5 262.2,428.9 262.4,425.0 262.5,424.1 262.6,427.2 262.8,424.2 262.9,422.3 263.1,426.8 263.2,426.6 263.4,423.7 263.6,427.6 263.7,426.5 263.9,423.0 264.0,429.7 264.1,426.2 264.3,423.0 264.4,426.7 264.6,425.9 264.8,427.9 264.9,422.5 265.1,428.1 265.2,427.8 265.4,427.2 265.5,427.0 265.6,428.7 265.8,427.3 265.9,425.9 266.1,423.7 266.2,428.2 266.4,427.9 266.6,426.3 266.7,426.0 266.9,427.3 267.0,419.8 267.1,426.4 267.3,419.8 267.4,426.2 267.6,428.1 267.8,430.0 267.9,424.5 268.1,426.6 268.2,425.4 268.4,420.4 268.5,427.3 268.6,425.6 268.8,425.8 268.9,423.4 269.1,425.5 269.2,425.8 269.4,428.6 269.6,426.3 269.7,433.7 269.9,424.7 270.0,425.0 270.1,425.5 270.3,423.7 270.4,429.1 270.6,427.1 270.8,422.6 270.9,425.9 271.1,428.3 271.2,422.3 271.4,425.9 271.5,425.0 271.6,431.0 271.8,426.6 271.9,424.6 272.1,424.3 272.2,430.0 272.4,424.5 272.6,430.9 272.7,422.0 272.9,425.2 273.0,425.0 273.1,424.0 273.3,425.1 273.4,427.2 273.6,424.0 273.8,422.2 273.9,428.7 274.1,429.0 274.2,424.0 274.4,426.3 274.5,419.6 274.6,428.0 274.8,422.5 274.9,424.3 275.1,430.6 275.2,422.6 275.4,425.6 275.6,423.0 275.7,421.2 275.9,422.8 276.0,426.1 276.1,422.3 276.3,423.6 276.4,425.6 276.6,420.7 276.8,412.4 276.8,416.5 276.9,407.5 277.0,404.5 277.1,396.0 277.2,397.5 277.4,395.3 277.4,397.2 277.5,406.3 277.6,412.1 277.6,416.1 277.8,419.8 277.9,425.4 278.1,428.1 278.2,423.8 278.4,422.3 278.6,424.6 278.7,427.4 278.9,427.4 279.0,424.7 279.1,423.3 279.3,425.5 279.4,427.8 279.6,423.9 279.8,428.6 279.9,426.1 280.1,426.3 280.2,424.1 280.4,428.8 280.5,425.7 280.6,422.1 280.8,427.5 280.9,424.6 281.1,428.1 281.2,426.0 281.4,424.1 281.6,426.0 281.7,424.4 281.9,423.7 282.0,425.6 282.1,427.5 282.3,425.8 282.4,425.4 282.6,424.3 282.8,426.9 282.9,426.2 283.1,427.8 283.2,426.4 283.4,430.6 283.5,421.9 283.6,425.5 283.8,426.8 283.9,427.7 284.1,422.0 284.2,422.7 284.4,425.5 284.6,428.0 284.7,428.2 284.9,422.1 285.0,425.9 285.1,428.3 285.3,425.7 285.4,423.2 285.6,423.9 285.8,422.5 285.9,428.4 286.1,425.0 286.2,424.6 286.4,423.6 286.5,425.3 286.6,423.5 286.8,423.3 286.9,425.5 287.1,425.1 287.2,426.7 287.4,425.9 287.6,428.3 287.7,425.5 287.9,426.2 288.0,426.1 288.1,423.7 288.3,428.4 288.4,424.3 288.6,421.9 288.8,428.5 288.9,427.1 289.1,424.3 289.2,427.8 289.4,427.8 289.5,427.2 289.6,422.9 289.8,426.0 289.9,423.2 290.1,424.2 290.2,424.3 290.4,423.6 290.6,426.7 290.7,423.8 290.9,427.0 291.0,426.0 291.1,424.2 291.3,426.0 291.4,427.2 291.6,428.2 291.8,425.0 291.9,429.6 292.1,426.9 292.2,428.5 292.4,422.4 292.5,423.1 292.6,428.4 292.8,425.1 292.9,426.7 293.1,428.4 293.2,422.2 293.4,426.6 293.6,430.1 293.7,427.4 293.9,425.8 294.0,426.9 294.1,425.6 294.3,427.4 294.4,428.6 294.6,425.1 294.8,426.9 294.9,426.3 295.1,427.3 295.2,427.5 295.4,423.1 295.5,428.3 295.6,427.6 295.8,423.0 295.9,424.9 296.1,422.2 296.2,424.9 296.4,426.3 296.6,422.9 296.7,423.8 296.9,423.5 297.0,424.0 297.1,423.8 297.3,423.1 297.4,426.9 297.6,425.1 297.8,423.7 297.9,427.9 298.1,424.2 298.2,427.6 298.4,422.7 298.5,428.8 298.6,424.5 298.8,423.3 298.9,426.3 299.1,421.8 299.2,421.2 299.3,423.6 299.4,420.0 299.5,419.4 299.6,417.2 299.7,412.5 299.9,408.3 299.9,409.2 300.0,408.9 300.1,414.4 300.1,415.7 300.3,413.9 300.4,418.1 300.5,426.6 300.6,423.2 300.8,425.5 300.9,425.1 301.1,426.1 301.2,430.6 301.4,423.9 301.5,425.7 301.6,425.6 301.8,423.1 301.9,423.5 302.1,424.9 302.2,425.5 302.4,426.5 302.6,421.0 302.7,421.9 302.9,429.4 303.0,425.2 303.1,427.5 303.3,424.6 303.4,423.9 303.6,430.5 303.8,422.7 303.9,423.5 304.1,427.1 304.2,425.6 304.4,421.8 304.5,425.9 304.6,427.3 304.8,422.1 304.9,424.3 305.1,427.4 305.2,430.0 305.4,420.2 305.6,424.0 305.7,425.6 305.9,423.5 306.0,423.5 306.1,424.4 306.3,426.8 306.4,423.1 306.6,427.6 306.8,427.5 306.9,427.5 307.1,429.1 307.2,424.4 307.4,425.5 307.5,427.9 307.6,428.5 307.8,427.7 307.9,424.5 308.1,424.4 308.2,422.5 308.4,424.6 308.6,423.5 308.7,424.4 308.9,424.7 309.0,427.5 309.1,427.6 309.3,425.5 309.4,422.9 309.6,425.5 309.8,426.6 309.9,427.5 310.1,426.1 310.2,427.4 310.4,424.1 310.5,427.1 310.6,427.3 310.8,424.8 310.9,423.8 311.1,428.4 311.2,423.3 311.4,427.2 311.6,425.0 311.7,424.8 311.9,425.0 312.0,424.6 312.1,425.5 312.3,429.7 312.4,428.9 312.6,425.3 312.8,426.7 312.9,427.7 313.1,424.6 313.2,429.8 313.4,425.7 313.5,427.0 313.6,423.4 313.8,423.0 313.9,423.3 314.1,424.1 314.2,428.0 314.4,424.8 314.6,427.6 314.7,424.6 314.9,423.4 315.0,426.0 315.1,424.7 315.3,421.7 315.4,425.7 315.6,428.3 315.8,425.1 315.9,422.8 316.1,423.8 316.2,422.8 316.4,425.0 316.5,423.4 316.6,425.3 316.8,426.0 316.9,428.6 317.1,422.9 317.2,420.8 317.4,429.3 317.6,426.6 317.7,424.7 317.9,426.7 318.0,423.4 318.1,424.8 318.3,427.1 318.4,424.8 318.6,425.9 318.8,426.6 318.9,425.8 319.1,425.0 319.2,426.8 319.4,428.6 319.5,428.5 319.6,423.5 319.8,427.3 319.9,421.2 320.1,422.3 320.2,426.5 320.4,426.8 320.6,428.7 320.7,421.6 320.9,428.1 321.0,424.3 321.1,424.5 321.3,426.6 321.4,428.8 321.6,423.4 321.8,421.6 321.9,424.2 322.1,425.3 322.2,428.3 322.4,426.4 322.5,424.9 322.6,424.4 322.8,424.5 322.9,427.8 323.1,421.7 323.2,424.0 323.4,423.5 323.6,428.1 323.7,425.8 323.9,424.0 324.0,427.3 324.1,430.1 324.3,427.9 324.4,422.6 324.6,425.1 324.8,428.2 324.9,421.4 325.1,422.7 325.2,424.6 325.4,426.8 325.5,423.7 325.6,425.9 325.8,425.2 325.9,426.3 326.1,422.8 326.2,420.4 326.4,420.6 326.6,425.9 326.7,427.8 326.9,426.6 327.0,421.9 327.1,421.5 327.3,424.9 327.4,423.4 327.6,421.3 327.8,424.2 327.9,423.7 328.1,425.3 328.2,426.4 328.4,426.0 328.5,426.0 328.6,426.7 328.8,425.3 328.9,424.5 329.1,424.7 329.2,428.2 329.4,424.9 329.6,427.4 329.7,429.3 329.9,429.5 330.0,420.6 330.1,425.9 330.3,427.8 330.4,424.5 330.6,423.9 330.8,422.2 330.9,424.0 331.1,425.5 331.2,421.2 331.4,425.5 331.5,423.6 331.6,425.5 331.8,423.0 331.9,425.7 332.1,425.9 332.2,423.9 332.4,423.9 332.6,427.7 332.7,426.9 332.9,423.7 333.0,426.5 333.1,422.8 333.3,424.3 333.4,418.7 333.6,424.1 333.8,426.7 333.9,423.4 334.1,424.6 334.1,421.2 334.2,422.2 334.3,419.8 334.4,417.3 334.5,423.3 334.6,417.6 334.7,417.0 334.8,421.7 334.9,423.8 334.9,424.0 335.1,424.2 335.2,426.1 335.4,427.4 335.6,426.8 335.7,422.1 335.9,428.9 336.0,424.0 336.1,418.0 336.1,423.8 336.3,417.6 336.4,413.4 336.5,415.5 336.6,406.6 336.7,405.0 336.8,404.6 336.9,411.4 337.1,417.8 337.1,418.8 337.2,421.1 337.3,417.8 337.4,424.0 337.5,427.0 337.6,423.4 337.8,422.3 337.9,419.5 337.9,421.2 338.1,412.0 338.2,413.1 338.3,405.9 338.4,400.9 338.5,397.6 338.6,402.2 338.7,408.6 338.9,412.1 338.9,416.0 339.0,419.9 339.1,424.1 339.1,424.2 339.3,427.3 339.4,421.8 339.6,431.2 339.8,423.8 339.9,421.7 340.1,420.7 340.1,423.1 340.2,422.6 340.3,424.9 340.4,421.4 340.5,415.7 340.6,417.8 340.7,418.3 340.8,419.5 340.9,421.9 340.9,421.5 341.1,427.0 341.2,425.8 341.4,426.7 341.6,425.0 341.7,422.7 341.9,426.4 342.0,424.5 342.1,430.0 342.3,428.2 342.4,422.6 342.6,423.1 342.8,424.2 342.9,424.9 343.1,428.0 343.2,425.0 343.4,426.5 343.5,424.7 343.6,424.9 343.8,428.2 343.9,425.4 344.1,429.9 344.2,425.3 344.4,426.3 344.6,426.3 344.7,426.9 344.9,429.8 345.0,423.8 345.1,424.2 345.3,423.2 345.4,429.5 345.6,426.4 345.8,426.4 345.9,426.4 346.1,421.1 346.2,427.1 346.4,425.7 346.5,426.1 346.6,425.6 346.8,425.3 346.9,425.3 347.1,424.3 347.2,425.1 347.4,427.2 347.6,421.0 347.7,427.9 347.9,427.7 348.0,424.0 348.1,427.8 348.3,427.6 348.4,426.0 348.6,431.3 348.8,428.2 348.9,427.8 349.1,425.5 349.2,433.8 349.4,429.6 349.5,430.2 349.6,429.2 349.8,434.7 349.9,429.7 350.1,433.8 350.2,432.6 350.4,432.4 350.6,431.5 350.7,432.4 350.9,429.1 351.0,424.1 351.1,422.1 351.3,430.1 351.4,421.8 351.6,428.2 351.8,429.5 351.9,409.8 352.1,386.6 352.2,353.3 352.4,353.3 352.4,353.3 352.5,353.3 352.6,353.3 352.6,353.3 352.8,353.3 352.9,353.3 353.0,353.3 353.1,353.3 353.2,353.3 353.2,353.3 353.4,353.3 353.6,378.8 353.7,396.2 353.9,375.5 354.0,353.3 354.1,353.3 354.2,353.3 354.3,353.3 354.4,353.3 354.4,353.3 354.6,353.3 354.8,353.3 354.8,353.3 354.9,353.3 355.0,353.3 355.1,353.3 355.2,353.3 355.4,383.2 355.5,408.9 355.6,416.4 355.8,421.0 355.9,419.4 355.9,418.0 356.1,418.2 356.2,415.4 356.3,416.0 356.4,414.4 356.5,411.6 356.6,411.7 356.7,412.5 356.9,418.6 356.9,418.4 357.0,422.8 357.1,423.8 357.1,423.7 357.2,422.2 357.3,422.8 357.4,424.6 357.4,424.4 357.6,417.1 357.8,410.3 357.8,418.1 357.9,413.8 358.0,418.8 358.1,420.5 358.2,425.1 358.4,423.0 358.4,423.5 358.5,423.0 358.6,425.5 358.8,422.2 358.9,426.3 359.1,425.8 359.2,428.2 359.4,424.4 359.6,425.9 359.7,425.6 359.9,425.2 360.0,423.0 360.1,423.9 360.3,425.4 360.4,426.4 360.6,427.7 360.8,423.9 360.9,425.9 361.1,426.7 361.2,427.3 361.4,425.9 361.5,425.8 361.6,424.6 361.8,425.4 361.9,424.9 362.1,421.4 362.2,423.8 362.4,419.9 362.6,426.6 362.7,427.4 362.9,424.6 363.0,425.8 363.1,425.8 363.3,424.8 363.4,428.8 363.6,425.0 363.8,426.2 363.9,425.3 364.1,430.0 364.2,421.7 364.4,425.9 364.5,422.4 364.6,423.8 364.8,423.3 364.9,427.2 365.1,423.0 365.2,423.2 365.4,424.7 365.6,423.3 365.7,423.2 365.9,429.1 366.0,424.0 366.1,423.6 366.3,428.6 366.4,425.7 366.6,428.0 366.8,421.8 366.9,424.8 367.1,426.6 367.2,426.0 367.4,426.7 367.5,428.3 367.6,426.8 367.8,428.0 367.9,427.2 368.1,423.8 368.2,425.9 368.4,428.5 368.6,423.3 368.7,426.7 368.9,426.9 369.0,428.6 369.1,421.7 369.3,430.9 369.4,421.9 369.6,425.5 369.8,431.3 369.9,422.3 370.1,430.3 370.2,425.1 370.3,427.9 370.4,426.2 370.5,420.3 370.6,414.4 370.7,414.1 370.8,409.6 370.9,408.4 370.9,412.7 371.1,411.5 371.2,419.6 371.3,419.8 371.4,421.6 371.5,420.9 371.6,420.9 371.7,425.8 371.9,420.9 371.9,421.3 372.0,421.0 372.1,421.7 372.1,424.1 372.3,423.0 372.4,421.4 372.5,421.7 372.6,423.0 372.7,422.3 372.8,422.8 372.9,420.6 373.1,426.4 373.2,424.3 373.4,426.4 373.5,430.6 373.6,427.5 373.8,428.2 373.9,427.5 374.1,424.2 374.2,424.0 374.4,422.2 374.6,424.2 374.7,425.9 374.9,427.1 375.0,426.9 375.1,424.7 375.3,422.9 375.4,425.6 375.6,426.3 375.8,421.0 375.9,425.7 376.1,422.3 376.2,424.5 376.4,425.2 376.5,423.3 376.6,424.4 376.8,425.6 376.9,423.2 377.1,427.1 377.2,427.0 377.4,426.8 377.6,423.1 377.7,425.1 377.9,424.8 378.0,425.8 378.1,427.3 378.3,424.3 378.4,425.6 378.6,427.4 378.8,424.8 378.9,427.2 379.1,425.5 379.2,422.3 379.4,425.4 379.5,425.9 379.6,424.6 379.8,429.9 379.9,424.6 380.1,422.2 380.2,425.2 380.4,425.0 380.6,426.7 380.7,431.3 380.9,425.9 381.0,427.4 381.1,423.9 381.3,423.4 381.4,423.9 381.6,425.1 381.8,424.5 381.9,425.5 382.1,424.1 382.2,422.8 382.4,423.7 382.5,427.3 382.6,422.9 382.8,427.3 382.9,429.3 383.1,423.4 383.2,427.6 383.4,427.5 383.6,419.5 383.7,427.5 383.9,427.0 384.0,423.7 384.1,429.6 384.3,421.4 384.4,428.5 384.6,426.1 384.8,423.2 384.9,425.8 385.1,422.0 385.2,426.9 385.4,426.8 385.5,428.3 385.6,428.8 385.8,423.9 385.9,426.7 386.1,424.1 386.2,418.9 386.4,427.7 386.6,428.2 386.7,426.0 386.9,429.5 387.0,425.4 387.1,421.6 387.3,424.5 387.4,424.9 387.6,426.2 387.8,424.6 387.9,420.4 388.1,422.7 388.2,425.2 388.4,428.1 388.5,424.0 388.6,422.5 388.8,424.4 388.9,427.6 389.1,428.4 389.2,423.3 389.4,427.1 389.6,428.6 389.7,427.4 389.9,423.0 390.0,426.9 390.1,424.4 390.3,424.4 390.4,430.0 390.6,425.4 390.8,426.7 390.9,428.3 391.1,429.3 391.2,426.2 391.4,424.1 391.5,425.4 391.6,424.0 391.8,425.2 391.9,425.3 392.1,422.1 392.2,423.7 392.4,422.3 392.6,425.4 392.7,427.4 392.9,427.2 393.0,426.0 393.1,423.3 393.3,425.4 393.4,422.4 393.6,426.8 393.8,422.0 393.9,424.0 394.1,429.5 394.2,426.5 394.4,423.3 394.5,425.0 394.6,423.2 394.8,423.7 394.9,424.5 395.1,423.6 395.2,426.0 395.4,428.0 395.6,423.5 395.7,423.4 395.9,423.6 396.0,424.1 396.1,425.8 396.3,424.0 396.4,423.5 396.6,423.9 396.8,427.8 396.9,427.7 397.1,427.9 397.2,425.9 397.4,423.3 397.5,428.6 397.6,430.6 397.8,423.9 397.9,423.9 398.1,427.5 398.2,426.1 398.2,425.1 398.4,427.5 398.6,420.4 398.6,418.3 398.7,418.1 398.8,419.0 398.9,419.0 399.0,423.0 399.1,423.8 399.2,420.9 399.3,425.1 399.4,423.4 399.4,427.2 399.6,425.2 399.8,418.0 399.8,419.2 399.9,411.6 400.0,412.1 400.1,409.5 400.2,407.5 400.4,406.5 400.4,409.0 400.5,413.2 400.6,417.3 400.6,420.8 400.8,420.3 400.9,418.3 400.9,421.7 401.1,423.8 401.2,422.0 401.3,416.4 401.4,419.5 401.5,417.7 401.6,419.3 401.7,419.8 401.9,424.5 401.9,420.7 402.0,428.5 402.1,426.9 402.1,421.9 402.3,421.6 402.4,427.7 402.6,421.8 402.8,423.6 402.9,426.6 403.1,425.1 403.2,425.8 403.4,420.5 403.5,423.7 403.6,426.7 403.8,430.3 403.9,426.4 404.1,425.6 404.2,425.8 404.4,427.8 404.6,427.0 404.7,423.4 404.9,420.9 405.0,424.9 405.1,424.6 405.3,429.7 405.4,423.5 405.6,427.2 405.8,420.9 405.9,427.3 406.1,422.5 406.2,425.5 406.4,425.0 406.5,425.7 406.6,425.5 406.8,422.8 406.9,426.8 407.1,423.4 407.2,425.4 407.4,423.5 407.6,425.4 407.7,425.2 407.9,425.0 408.0,423.6 408.1,428.3 408.3,425.0 408.4,425.6 408.6,420.4 408.8,426.8 408.9,421.8 409.1,425.0 409.2,420.7 409.4,429.8 409.5,421.4 409.6,424.8 409.8,422.5 409.9,422.5 410.1,421.4 410.2,428.8 410.4,430.4 410.6,425.1 410.7,427.3 410.9,424.3 411.0,422.9 411.1,429.6 411.3,426.9 411.4,422.8 411.6,425.2 411.8,425.4 411.9,424.8 412.1,425.2 412.2,423.9 412.4,425.2 412.5,424.4 412.6,424.7 412.8,423.6 412.9,429.0 413.1,424.4 413.2,424.9 413.4,426.0 413.6,425.4 413.7,422.4 413.9,427.4 414.0,422.6 414.1,423.9 414.3,426.3 414.4,424.9 414.6,423.7 414.8,425.4 414.9,423.4 415.1,424.0 415.2,422.7 415.4,422.5 415.5,423.1 415.6,425.5 415.8,424.2 415.9,425.0 416.1,427.4 416.2,424.3 416.4,421.1 416.6,425.5 416.7,429.5 416.9,418.6 417.0,424.8 417.1,422.8 417.3,421.9 417.4,427.2 417.6,425.3 417.8,425.3 417.9,422.3 418.1,424.2 418.2,422.8 418.4,428.9 418.5,425.2 418.6,420.7 418.8,424.6 418.9,428.8 419.1,423.5 419.2,424.7 419.4,425.2 419.6,426.4 419.7,426.4 419.9,423.9 420.0,424.5 420.1,426.9 420.3,423.0 420.4,424.6 420.6,426.1 420.8,424.8 420.9,423.1 421.1,429.1 421.2,425.7 421.4,424.7 421.5,418.7 421.6,427.9 421.8,427.5 421.9,425.2 422.1,425.4 422.2,423.4 422.4,430.0 422.6,427.4 422.7,430.6 422.9,430.6 423.0,421.2 423.1,426.8 423.3,420.6 423.4,426.2 423.6,425.5 423.8,424.1 423.9,426.9 424.1,425.7 424.2,424.6 424.4,424.8 424.5,427.5 424.6,426.5 424.8,427.4 424.9,426.1 425.1,424.4 425.2,424.3 425.4,426.0 425.6,423.8 425.7,424.0 425.9,427.3 426.0,425.9 426.1,424.9 426.3,425.9 426.4,424.5 426.6,428.4 426.8,425.0 426.9,425.5 427.1,422.7 427.2,423.8 427.4,422.4 427.5,426.4 427.6,426.7 427.8,426.9 427.9,424.6 428.1,425.5 428.2,426.2 428.4,424.6 428.6,421.6 428.7,429.9 428.9,426.6 429.0,427.5 429.1,427.3 429.3,423.7 429.4,425.3 429.6,424.3 429.8,427.9 429.9,425.9 430.1,423.8 430.2,426.2 430.4,431.8 430.5,425.4 430.6,426.6 430.8,430.3 430.9,423.3 431.1,426.1 431.2,428.3 431.4,426.9 431.6,424.1 431.7,425.4 431.9,425.7 432.0,427.7 432.1,427.8 432.3,420.9 432.4,425.6 432.6,423.8 432.8,426.1 432.9,424.5 433.1,426.3 433.2,422.0 433.4,425.9 433.5,426.7 433.6,428.3 433.8,429.1 433.9,425.4 434.1,424.1 434.2,428.5 434.4,426.4 434.6,426.2 434.7,426.8 434.9,422.1 435.0,423.4 435.1,423.4 435.3,422.9 435.4,429.0 435.6,421.2 435.8,425.1 435.9,425.3 436.1,423.4 436.2,426.3 436.4,423.5 436.5,422.2 436.6,422.5 436.8,428.6 436.9,424.6 437.1,425.9 437.2,426.8 437.4,426.5 437.6,423.8 437.7,427.3 437.9,427.9 438.0,422.2 438.1,427.4 438.3,426.7 438.4,428.0 438.6,426.9 438.8,425.1 438.9,423.7 439.1,427.0 439.2,426.4 439.4,426.4 439.5,424.4 439.6,428.2 439.8,427.6 439.9,428.0 440.1,424.1 440.2,426.9 440.4,427.7 440.6,422.4 440.7,423.8 440.9,426.1 441.0,422.2 441.1,425.3 441.3,425.7 441.4,422.1 441.6,426.8 441.8,425.5 441.9,428.4 442.1,425.4 442.2,424.4 442.4,425.4 442.5,426.5 442.6,421.3 442.8,424.8 442.9,427.2 443.1,427.3 443.2,426.4 443.4,423.0 443.6,425.3 443.7,426.5 443.9,425.6 444.0,425.9 444.1,429.8 444.3,430.0 444.4,424.5 444.6,423.3 444.8,425.6 444.9,428.6 445.1,423.1 445.2,423.3 445.4,422.7 445.5,428.1 445.6,424.4 445.8,425.4 445.9,429.2 446.1,427.0 446.2,424.8 446.4,422.6 446.6,428.1 446.7,425.7 446.9,424.8 447.0,426.1 447.1,423.9 447.3,426.0 447.4,426.0 447.6,423.0 447.8,426.1 447.9,426.9 448.1,428.8 448.2,427.6 448.4,430.4 448.5,427.6 448.6,425.5 448.8,426.4 448.9,425.6 449.1,423.4 449.2,425.0 449.4,425.9 449.6,423.2 449.7,425.4 449.9,426.9 450.0,429.4 450.1,425.3 450.3,424.8 450.4,424.0 450.6,421.9 450.8,426.8 450.9,424.4 451.1,424.0 451.2,423.0 451.4,428.9 451.5,428.6 451.6,426.6" stroke="#1ba0f5" stroke-width="1.0" fill="none" stroke-linejoin="round" />
</g>
<clipPath id="cp6"><rect x="254.5" y="436.3" width="197.7" height="78.99999999999994"/></clipPath>
<g clip-path="url(#cp6)">
<path d="M255.00,508.50 255.2,510.4 255.3,507.7 255.4,506.5 255.6,508.9 255.8,509.4 255.9,509.1 256.1,509.3 256.2,508.5 256.4,508.0 256.5,507.8 256.6,508.4 256.8,508.2 256.9,509.8 257.1,509.5 257.2,507.2 257.4,509.6 257.6,508.7 257.7,510.1 257.9,510.5 258.0,509.4 258.1,506.6 258.3,509.5 258.4,506.8 258.6,510.6 258.8,507.9 258.9,508.5 259.1,510.9 259.2,506.6 259.4,508.8 259.5,507.4 259.6,508.1 259.8,507.8 259.9,509.6 260.1,508.4 260.2,509.2 260.4,509.5 260.6,506.7 260.7,510.4 260.9,508.4 261.0,506.7 261.1,507.9 261.3,509.8 261.4,510.0 261.6,507.9 261.8,508.9 261.9,509.0 262.1,510.0 262.2,508.6 262.4,509.9 262.5,507.6 262.6,507.9 262.8,509.5 262.9,509.6 263.1,508.7 263.2,509.5 263.4,509.0 263.6,509.7 263.7,510.2 263.9,509.4 264.0,509.7 264.1,508.3 264.3,508.1 264.4,505.9 264.6,509.2 264.8,508.8 264.9,509.4 265.1,506.4 265.2,508.1 265.4,508.1 265.5,506.5 265.6,509.8 265.8,510.2 265.9,507.2 266.1,509.3 266.2,510.8 266.4,507.3 266.6,509.9 266.7,510.7 266.9,511.0 267.0,507.1 267.1,507.4 267.3,509.0 267.4,510.2 267.6,507.2 267.8,507.8 267.9,507.4 268.1,510.1 268.2,508.1 268.4,509.4 268.5,509.5 268.6,510.2 268.8,509.3 268.9,509.2 269.1,510.2 269.2,509.3 269.4,507.2 269.6,508.1 269.7,509.9 269.9,508.9 270.0,508.3 270.1,509.0 270.3,512.8 270.4,508.7 270.6,509.3 270.8,509.3 270.9,508.4 271.1,510.2 271.2,509.8 271.4,509.2 271.5,507.1 271.6,510.3 271.8,509.7 271.9,508.6 272.1,505.4 272.2,508.7 272.4,507.2 272.6,508.5 272.7,508.1 272.9,507.7 273.0,510.0 273.1,508.9 273.3,510.3 273.4,507.5 273.6,508.5 273.8,510.4 273.9,509.1 274.1,507.8 274.2,507.6 274.4,508.0 274.5,508.6 274.6,509.6 274.8,508.9 274.9,509.7 275.1,509.8 275.2,508.9 275.4,510.3 275.6,509.6 275.7,508.5 275.9,508.5 276.0,508.7 276.1,507.8 276.3,507.1 276.4,508.8 276.6,508.1 276.8,509.5 276.9,508.0 277.1,508.9 277.2,509.0 277.4,508.2 277.5,509.0 277.6,507.8 277.8,508.2 277.9,509.7 278.1,509.2 278.2,508.7 278.4,507.8 278.6,509.6 278.7,511.2 278.9,506.0 279.0,510.0 279.1,509.0 279.3,510.1 279.4,510.2 279.6,507.5 279.8,510.9 279.9,508.0 280.1,508.4 280.2,509.5 280.4,508.6 280.5,509.1 280.6,508.1 280.8,507.5 280.9,508.7 281.1,507.4 281.2,510.4 281.4,509.0 281.6,510.5 281.7,507.2 281.9,506.2 282.0,505.9 282.1,508.3 282.3,507.1 282.4,509.2 282.6,506.9 282.8,507.0 282.9,509.1 283.1,508.2 283.2,509.6 283.4,509.7 283.5,509.2 283.6,507.2 283.8,507.7 283.9,511.5 284.1,508.4 284.2,509.1 284.4,508.9 284.6,508.7 284.7,508.5 284.9,508.0 285.0,508.1 285.1,506.2 285.3,510.8 285.4,508.6 285.6,507.1 285.8,509.4 285.9,509.5 286.1,506.9 286.2,508.1 286.4,510.6 286.5,509.4 286.6,509.2 286.8,509.9 286.9,508.6 287.1,508.4 287.2,510.7 287.4,508.5 287.6,508.6 287.7,509.5 287.9,508.8 288.0,507.2 288.1,511.1 288.3,508.6 288.4,510.9 288.6,509.3 288.8,507.6 288.9,510.6 289.1,508.5 289.2,507.7 289.4,508.7 289.5,506.1 289.6,509.2 289.8,507.8 289.9,508.4 290.1,507.6 290.2,509.6 290.4,509.2 290.6,510.1 290.7,510.8 290.9,509.1 291.0,508.8 291.1,509.1 291.3,507.7 291.4,508.0 291.6,509.6 291.8,507.7 291.9,506.3 292.1,508.3 292.2,509.0 292.4,510.5 292.5,507.8 292.6,507.6 292.8,508.8 292.9,508.5 293.1,509.0 293.2,508.1 293.4,509.0 293.6,508.0 293.7,509.9 293.9,509.0 294.0,509.4 294.1,508.2 294.3,506.9 294.4,508.7 294.6,508.6 294.8,510.0 294.9,509.9 295.1,508.6 295.2,508.6 295.4,507.4 295.5,508.3 295.6,508.0 295.8,505.7 295.9,501.7 296.0,503.2 296.1,497.3 296.2,497.0 296.2,494.9 296.4,492.6 296.6,492.4 296.6,495.8 296.7,496.7 296.8,501.2 296.9,501.2 297.0,505.3 297.1,507.1 297.3,509.5 297.4,509.9 297.6,508.2 297.8,508.3 297.9,507.5 298.1,507.3 298.2,506.5 298.4,508.4 298.5,509.4 298.6,507.8 298.8,509.1 298.9,507.3 299.1,507.5 299.2,508.0 299.4,509.8 299.6,508.1 299.7,509.6 299.9,508.3 300.0,507.3 300.1,506.2 300.3,508.1 300.4,507.5 300.6,509.8 300.8,509.2 300.9,506.7 301.1,509.7 301.2,509.3 301.4,505.2 301.5,507.4 301.6,509.0 301.8,506.8 301.9,507.8 302.1,509.3 302.2,509.0 302.4,509.2 302.6,509.4 302.7,507.6 302.9,511.6 303.0,509.3 303.1,511.3 303.3,508.4 303.4,509.4 303.6,509.1 303.8,508.5 303.9,509.1 304.1,509.0 304.2,509.7 304.4,509.1 304.5,508.8 304.6,509.3 304.8,510.4 304.9,508.8 305.1,509.4 305.2,508.9 305.4,506.3 305.6,507.6 305.7,507.6 305.9,507.0 306.0,507.9 306.1,506.6 306.3,509.0 306.4,508.0 306.6,510.2 306.8,509.1 306.9,507.1 307.1,508.4 307.2,508.7 307.4,507.9 307.5,508.2 307.6,507.4 307.8,507.8 307.9,509.0 308.1,508.3 308.2,510.1 308.4,506.1 308.6,507.7 308.7,508.2 308.9,510.5 309.0,510.0 309.1,509.6 309.3,509.9 309.4,510.6 309.6,509.5 309.8,508.4 309.9,508.9 310.1,507.8 310.2,508.4 310.4,509.1 310.5,508.1 310.6,508.8 310.8,508.1 310.9,507.1 311.1,506.9 311.2,509.5 311.4,508.7 311.6,509.7 311.7,508.5 311.9,508.6 312.0,509.0 312.1,508.3 312.3,510.3 312.4,509.9 312.6,509.1 312.8,507.4 312.9,508.0 313.1,508.9 313.2,510.0 313.4,508.6 313.5,508.6 313.6,509.3 313.8,508.8 313.9,508.5 314.1,507.3 314.2,510.1 314.4,508.6 314.6,508.0 314.7,508.5 314.9,507.0 315.0,506.6 315.1,506.5 315.3,509.1 315.4,507.0 315.6,508.8 315.8,507.2 315.9,506.5 316.1,507.9 316.2,507.7 316.4,507.8 316.5,510.7 316.6,508.9 316.8,507.9 316.9,509.7 317.1,508.2 317.2,510.1 317.4,506.7 317.6,509.9 317.7,507.3 317.9,507.7 318.0,508.9 318.1,507.3 318.3,506.6 318.4,508.1 318.6,508.2 318.8,506.6 318.9,509.8 319.1,507.6 319.2,507.9 319.4,508.3 319.5,508.7 319.6,509.9 319.8,506.0 319.9,508.6 320.1,509.7 320.2,508.9 320.4,508.5 320.6,507.3 320.7,509.0 320.9,508.0 321.0,508.8 321.1,507.3 321.3,508.2 321.4,508.4 321.6,506.8 321.8,509.8 321.9,508.4 322.1,507.0 322.2,508.3 322.4,508.7 322.5,508.2 322.6,507.3 322.8,508.3 322.9,507.0 323.1,506.6 323.2,510.0 323.4,510.6 323.6,510.8 323.7,511.3 323.9,510.2 324.0,507.5 324.1,507.9 324.3,509.9 324.4,508.0 324.6,508.2 324.8,508.6 324.9,509.1 325.1,506.9 325.2,508.6 325.4,509.2 325.5,506.1 325.6,509.9 325.8,509.5 325.9,507.6 326.1,510.8 326.2,509.1 326.4,509.1 326.6,510.4 326.7,505.5 326.9,508.6 327.0,509.8 327.1,510.3 327.3,508.5 327.4,508.3 327.6,507.6 327.8,508.2 327.9,507.5 328.1,505.7 328.2,507.9 328.4,507.4 328.5,507.8 328.6,508.0 328.8,508.0 328.9,508.7 329.1,508.5 329.2,508.1 329.4,507.8 329.6,508.4 329.7,508.2 329.9,508.4 330.0,510.2 330.1,508.8 330.3,508.1 330.4,506.1 330.6,506.8 330.8,504.9 330.9,509.5 331.1,509.5 331.2,507.0 331.4,505.7 331.4,506.3 331.5,505.2 331.6,501.1 331.6,502.3 331.8,501.1 331.9,501.0 332.0,504.8 332.1,505.3 332.2,504.9 332.2,506.0 332.4,506.2 332.6,505.8 332.6,505.4 332.7,505.4 332.8,501.8 332.9,499.7 333.0,494.7 333.1,492.1 333.2,490.4 333.3,490.8 333.4,495.4 333.4,499.0 333.6,501.0 333.8,505.4 333.8,505.8 333.9,508.7 334.1,508.6 334.2,506.7 334.4,510.4 334.5,508.2 334.6,506.6 334.8,505.5 334.9,504.2 334.9,503.9 335.1,495.9 335.2,486.9 335.3,486.4 335.4,481.7 335.5,477.0 335.6,478.3 335.7,485.3 335.9,493.1 335.9,495.1 336.0,502.0 336.1,502.6 336.1,502.9 336.3,507.5 336.4,508.0 336.6,505.3 336.8,498.6 336.8,497.1 336.9,491.1 337.0,486.5 337.1,481.7 337.2,479.4 337.4,486.3 337.4,485.7 337.5,494.5 337.6,497.6 337.6,497.3 337.8,505.6 337.9,505.8 338.1,508.6 338.2,508.1 338.4,507.9 338.6,508.2 338.7,506.8 338.9,507.5 339.0,507.9 339.1,510.6 339.3,507.7 339.4,508.8 339.6,509.0 339.8,509.9 339.9,508.1 340.1,508.6 340.2,507.1 340.4,511.0 340.5,505.2 340.6,505.6 340.7,504.1 340.8,502.9 340.9,500.2 340.9,499.4 341.1,499.6 341.2,501.1 341.3,500.7 341.4,502.5 341.5,504.7 341.6,505.2 341.7,507.5 341.9,508.8 342.0,508.8 342.1,506.5 342.3,508.3 342.4,507.1 342.6,509.0 342.8,508.1 342.9,508.8 343.1,508.4 343.2,509.6 343.4,510.2 343.5,508.8 343.6,506.8 343.8,508.7 343.9,511.2 344.1,508.0 344.2,508.9 344.4,512.0 344.6,511.2 344.7,509.9 344.9,509.1 344.9,507.1 345.0,510.1 345.1,508.4 345.1,504.8 345.3,505.1 345.4,503.9 345.5,503.9 345.6,503.7 345.7,508.6 345.8,505.1 345.9,509.6 346.1,509.9 346.1,509.4 346.2,510.4 346.4,511.0 346.5,509.2 346.6,509.6 346.8,511.4 346.9,510.9 347.1,510.0 347.2,507.8 347.4,507.0 347.6,510.3 347.7,509.8 347.9,508.2 348.0,507.4 348.1,505.7 348.3,505.5 348.4,503.8 348.6,495.3 348.8,465.0 348.9,433.7 349.1,433.7 349.1,433.7 349.2,433.7 349.3,433.7 349.4,433.7 349.5,433.7 349.6,433.7 349.7,433.7 349.8,433.7 349.9,433.7 349.9,433.7 350.1,433.7 350.2,459.0 350.4,480.1 350.6,460.8 350.7,433.7 350.9,433.7 350.9,433.7 351.0,433.7 351.1,433.7 351.1,433.7 351.3,433.7 351.4,433.7 351.5,433.7 351.6,433.7 351.7,433.7 351.8,433.7 351.9,433.7 352.1,466.9 352.2,492.5 352.4,501.8 352.5,503.3 352.6,504.6 352.8,504.8 352.9,506.6 353.1,505.3 353.2,505.1 353.4,506.9 353.6,507.4 353.7,508.6 353.9,508.0 354.0,505.9 354.1,505.0 354.2,505.9 354.3,504.3 354.4,502.7 354.4,502.2 354.6,493.7 354.8,492.5 354.8,493.6 354.9,492.8 355.0,498.6 355.1,497.9 355.2,502.9 355.4,505.0 355.4,506.4 355.5,507.5 355.6,508.4 355.8,506.4 355.9,505.9 356.1,508.1 356.2,509.2 356.4,508.0 356.6,508.1 356.7,509.6 356.9,509.1 357.0,507.2 357.1,508.6 357.3,508.1 357.4,508.5 357.6,508.3 357.8,509.1 357.9,508.4 358.1,508.8 358.2,508.5 358.4,508.2 358.5,507.8 358.6,508.8 358.8,509.0 358.9,510.4 359.1,511.5 359.2,507.7 359.4,507.7 359.6,509.8 359.7,508.0 359.9,508.7 360.0,507.0 360.1,509.2 360.3,506.8 360.4,509.7 360.6,507.5 360.8,508.8 360.9,509.7 361.1,507.5 361.2,508.4 361.4,511.1 361.5,506.9 361.6,508.7 361.8,506.2 361.9,509.0 362.1,508.4 362.2,507.2 362.4,507.1 362.6,510.1 362.7,509.4 362.9,507.1 363.0,509.5 363.1,507.5 363.3,507.6 363.4,509.1 363.6,508.4 363.8,509.2 363.9,509.9 364.1,507.8 364.2,509.2 364.4,508.9 364.5,506.6 364.6,509.5 364.8,509.8 364.9,506.9 365.1,508.2 365.2,509.7 365.4,509.6 365.6,508.1 365.7,508.3 365.9,508.2 366.0,507.1 366.1,508.7 366.3,511.1 366.4,506.8 366.6,508.3 366.8,506.7 366.9,508.3 367.1,501.9 367.1,503.7 367.2,500.5 367.3,496.1 367.4,495.5 367.5,493.7 367.6,497.9 367.7,497.5 367.8,501.4 367.9,503.9 367.9,503.9 368.1,506.3 368.2,507.2 368.4,508.9 368.6,506.9 368.6,505.7 368.7,502.0 368.8,500.6 368.9,501.0 369.0,498.4 369.1,498.5 369.2,499.2 369.3,503.4 369.4,505.6 369.4,506.1 369.6,509.0 369.8,506.2 369.9,506.3 370.1,508.7 370.2,509.6 370.4,507.6 370.5,508.9 370.6,509.0 370.8,508.0 370.9,507.6 371.1,508.2 371.2,508.5 371.4,509.5 371.6,508.2 371.7,507.4 371.9,507.3 372.0,508.1 372.1,509.2 372.3,507.6 372.4,508.2 372.6,509.2 372.8,508.9 372.9,511.1 373.1,509.2 373.2,509.4 373.4,511.1 373.5,506.4 373.6,506.5 373.8,507.7 373.9,508.7 374.1,510.0 374.2,509.4 374.4,508.0 374.6,506.9 374.7,509.0 374.9,508.3 375.0,507.4 375.1,507.1 375.3,509.4 375.4,508.2 375.6,508.8 375.8,508.5 375.9,507.7 376.1,508.0 376.2,507.8 376.4,508.5 376.5,507.7 376.6,509.3 376.8,507.4 376.9,508.9 377.1,508.7 377.2,509.3 377.4,505.0 377.6,509.3 377.7,509.0 377.9,508.0 378.0,508.1 378.1,508.1 378.3,506.8 378.4,512.1 378.6,508.3 378.8,509.1 378.9,507.1 379.1,508.0 379.2,505.7 379.4,508.4 379.5,507.4 379.6,508.5 379.8,509.0 379.9,510.1 380.1,508.5 380.2,507.2 380.4,507.9 380.6,509.2 380.7,510.7 380.9,505.5 381.0,507.0 381.1,507.6 381.3,508.3 381.4,509.2 381.6,510.1 381.8,509.2 381.9,510.2 382.1,507.7 382.2,507.5 382.4,506.5 382.5,507.5 382.6,509.3 382.8,508.4 382.9,510.8 383.1,508.1 383.2,507.2 383.4,509.1 383.6,506.0 383.7,509.4 383.9,508.8 384.0,506.7 384.1,509.0 384.3,508.7 384.4,509.9 384.6,508.1 384.8,507.7 384.9,508.4 385.1,508.2 385.2,507.1 385.4,509.5 385.5,509.5 385.6,507.5 385.8,507.7 385.9,507.1 386.1,507.8 386.2,507.5 386.4,508.3 386.6,509.2 386.7,510.2 386.9,507.2 387.0,507.4 387.1,507.0 387.3,508.3 387.4,509.3 387.6,507.3 387.8,508.3 387.9,507.1 388.1,506.6 388.2,507.7 388.4,509.3 388.5,507.9 388.6,506.2 388.8,507.1 388.9,507.9 389.1,510.7 389.2,506.9 389.4,511.7 389.6,509.5 389.7,509.8 389.9,509.4 390.0,505.3 390.1,508.6 390.3,508.6 390.4,508.9 390.6,509.9 390.8,508.2 390.9,507.4 391.1,508.9 391.2,508.5 391.4,508.9 391.5,507.8 391.6,508.3 391.8,504.6 391.9,508.6 392.1,509.6 392.2,508.5 392.4,508.3 392.6,509.1 392.7,508.0 392.9,508.1 393.0,510.4 393.1,510.5 393.3,506.2 393.4,507.7 393.6,508.7 393.8,509.3 393.9,506.9 394.1,507.7 394.2,509.2 394.4,509.8 394.5,507.2 394.6,508.0 394.8,508.0 394.9,509.7 395.1,508.9 395.2,508.8 395.4,510.3 395.6,508.2 395.7,505.3 395.9,503.1 395.9,501.4 396.0,497.0 396.1,493.2 396.1,489.4 396.3,483.0 396.4,488.5 396.5,491.2 396.6,495.3 396.7,500.4 396.8,501.6 396.9,507.6 397.1,508.0 397.2,509.2 397.4,509.8 397.5,510.1 397.6,507.6 397.8,509.4 397.9,506.8 397.9,503.8 398.1,505.9 398.2,500.9 398.3,500.9 398.4,496.2 398.5,497.3 398.6,495.9 398.7,502.3 398.9,504.7 398.9,503.7 399.0,502.7 399.1,506.9 399.1,507.7 399.3,508.0 399.4,508.9 399.6,508.1 399.8,509.3 399.9,509.1 400.1,507.6 400.2,509.6 400.4,509.2 400.5,508.4 400.6,507.7 400.8,507.4 400.9,511.4 401.1,511.4 401.2,509.5 401.4,508.0 401.6,509.5 401.7,507.6 401.9,507.3 402.0,506.1 402.1,507.9 402.3,507.7 402.4,509.9 402.6,509.0 402.8,507.7 402.9,508.1 403.1,508.4 403.2,508.5 403.4,508.6 403.5,510.0 403.6,506.7 403.8,508.8 403.9,508.7 404.1,509.6 404.2,508.5 404.4,507.6 404.6,509.6 404.7,509.9 404.9,507.7 405.0,509.9 405.1,511.7 405.3,508.0 405.4,509.4 405.6,505.5 405.8,508.9 405.9,507.5 406.1,509.2 406.2,508.3 406.4,509.0 406.5,510.0 406.6,509.8 406.8,509.7 406.9,507.8 407.1,508.4 407.2,508.6 407.4,508.1 407.6,507.6 407.7,508.7 407.9,509.2 408.0,508.3 408.1,507.2 408.3,509.9 408.4,507.9 408.6,510.7 408.8,509.0 408.9,508.9 409.1,510.1 409.2,508.7 409.4,507.1 409.5,508.8 409.6,506.2 409.8,509.0 409.9,508.7 410.1,509.3 410.2,508.6 410.4,510.9 410.6,508.8 410.7,508.1 410.9,512.2 411.0,508.6 411.1,509.5 411.3,508.4 411.4,508.2 411.6,508.5 411.8,507.9 411.9,508.6 412.1,508.3 412.2,508.0 412.4,507.6 412.5,508.2 412.6,505.7 412.8,508.9 412.9,505.4 413.1,508.1 413.2,508.4 413.4,507.8 413.6,508.6 413.7,510.8 413.9,508.7 414.0,507.9 414.1,509.0 414.3,507.7 414.4,506.3 414.6,507.6 414.8,509.2 414.9,508.2 415.1,509.2 415.2,509.3 415.4,506.1 415.5,506.7 415.6,507.4 415.8,506.9 415.9,509.2 416.1,507.4 416.2,507.1 416.4,510.1 416.6,506.8 416.7,506.9 416.9,509.9 417.0,508.6 417.1,508.2 417.3,509.1 417.4,507.7 417.6,508.1 417.8,508.0 417.9,509.9 418.1,508.4 418.2,506.8 418.4,506.9 418.5,509.0 418.6,506.8 418.8,506.7 418.9,507.6 419.1,506.5 419.2,508.7 419.4,510.9 419.6,510.8 419.7,508.7 419.9,510.2 420.0,508.7 420.1,508.5 420.3,509.3 420.4,508.6 420.6,507.9 420.8,508.4 420.9,508.1 421.1,508.9 421.2,509.8 421.4,507.0 421.5,507.8 421.6,507.1 421.8,510.5 421.9,509.4 422.1,508.7 422.2,507.3 422.4,509.6 422.6,507.2 422.7,506.5 422.9,507.6 423.0,510.0 423.1,508.3 423.3,507.9 423.4,507.7 423.6,509.6 423.8,507.4 423.9,507.7 424.1,509.1 424.2,509.2 424.4,508.4 424.5,509.0 424.6,508.9 424.8,506.1 424.9,508.5 425.1,507.8 425.2,508.3 425.4,508.4 425.6,508.8 425.7,509.5 425.9,507.3 426.0,507.7 426.1,507.9 426.3,508.4 426.4,506.6 426.6,508.6 426.8,509.4 426.9,507.8 427.1,506.3 427.2,509.4 427.4,510.2 427.5,509.1 427.6,510.3 427.8,509.9 427.9,508.4 428.1,508.2 428.2,511.3 428.4,509.4 428.6,508.0 428.7,510.1 428.9,507.6 429.0,508.0 429.1,510.2 429.3,509.7 429.4,508.0 429.6,509.7 429.8,509.5 429.9,505.9 430.1,508.4 430.2,509.7 430.4,508.8 430.5,507.3 430.6,509.5 430.8,507.9 430.9,509.5 431.1,508.9 431.2,509.9 431.4,507.7 431.6,510.8 431.7,508.2 431.9,508.3 432.0,507.9 432.1,508.4 432.3,508.7 432.4,508.2 432.6,509.3 432.8,509.2 432.9,508.3 433.1,508.5 433.2,508.8 433.4,509.7 433.5,510.1 433.6,507.4 433.8,509.4 433.9,509.4 434.1,506.9 434.2,509.1 434.4,510.5 434.6,508.0 434.7,507.1 434.9,505.9 435.0,508.6 435.1,508.3 435.3,508.3 435.4,509.5 435.6,507.1 435.8,508.4 435.9,510.7 436.1,510.4 436.2,507.8 436.4,506.4 436.5,508.9 436.6,508.9 436.8,508.8 436.9,507.4 437.1,509.4 437.2,507.5 437.4,507.2 437.6,507.4 437.7,508.5 437.9,508.4 438.0,507.1 438.1,509.0 438.3,510.1 438.4,506.5 438.6,509.1 438.8,507.6 438.9,505.3 439.1,508.7 439.2,507.2 439.4,508.1 439.5,507.7 439.6,505.1 439.8,507.4 439.9,509.5 440.1,509.5 440.2,506.9 440.4,509.4 440.6,509.3 440.7,510.3 440.9,510.9 441.0,510.6 441.1,510.1 441.3,509.4 441.4,508.6 441.6,507.1 441.8,508.5 441.9,509.7 442.1,509.6 442.2,507.8 442.4,505.8 442.5,507.5 442.6,506.4 442.8,508.8 442.9,506.8 443.1,507.3 443.2,508.1 443.4,508.1 443.6,508.7 443.7,509.6 443.9,508.9 444.0,510.2 444.1,507.6 444.3,509.2 444.4,512.1 444.6,509.0 444.8,507.8 444.9,508.7 445.1,508.3 445.2,508.2 445.4,510.3 445.5,510.9 445.6,508.0 445.8,507.6 445.9,509.9 446.1,510.0 446.2,508.7 446.4,509.7 446.6,508.3 446.7,510.3 446.9,508.6 447.0,509.0 447.1,509.5 447.3,507.4 447.4,508.9 447.6,508.9 447.8,509.8 447.9,507.8 448.1,506.1 448.2,507.8 448.4,509.2 448.5,508.7 448.6,509.0 448.8,510.2 448.9,509.5 448.9,509.2 449.1,508.1 449.2,506.1 449.3,506.9 449.4,506.4 449.5,505.4 449.6,506.8 449.7,506.5 449.9,506.6 449.9,506.4 450.0,505.9 450.1,510.3 450.1,507.5 450.3,507.7 450.4,505.6 450.6,508.4 450.8,508.7 450.9,509.0 451.1,507.5 451.2,507.1 451.4,511.1 451.5,508.1 451.6,509.0" stroke="#4a4a4a" stroke-width="0.9" fill="none" stroke-linejoin="round" />
</g>
<line x1="253.90" y1="274.90" x2="452.80" y2="274.90" stroke="#000" stroke-width="1.3" />
<line x1="253.90" y1="355.30" x2="452.80" y2="355.30" stroke="#000" stroke-width="1.3" />
<line x1="253.90" y1="435.70" x2="452.80" y2="435.70" stroke="#000" stroke-width="1.3" />
<line x1="253.90" y1="515.30" x2="452.80" y2="515.30" stroke="#000" stroke-width="1.3" />
<line x1="254.50" y1="274.90" x2="254.50" y2="515.30" stroke="#000" stroke-width="1.3" />
<line x1="452.20" y1="274.90" x2="452.20" y2="515.30" stroke="#000" stroke-width="1.3" />
<line x1="267.60" y1="355.30" x2="267.60" y2="352.30" stroke="#000" stroke-width="1" />
<line x1="294.24" y1="355.30" x2="294.24" y2="353.30" stroke="#000" stroke-width="1" />
<line x1="320.88" y1="355.30" x2="320.88" y2="352.30" stroke="#000" stroke-width="1" />
<line x1="347.52" y1="355.30" x2="347.52" y2="353.30" stroke="#000" stroke-width="1" />
<line x1="374.16" y1="355.30" x2="374.16" y2="352.30" stroke="#000" stroke-width="1" />
<line x1="400.80" y1="355.30" x2="400.80" y2="353.30" stroke="#000" stroke-width="1" />
<line x1="427.44" y1="355.30" x2="427.44" y2="352.30" stroke="#000" stroke-width="1" />
<line x1="267.60" y1="435.70" x2="267.60" y2="432.70" stroke="#000" stroke-width="1" />
<line x1="294.24" y1="435.70" x2="294.24" y2="433.70" stroke="#000" stroke-width="1" />
<line x1="320.88" y1="435.70" x2="320.88" y2="432.70" stroke="#000" stroke-width="1" />
<line x1="347.52" y1="435.70" x2="347.52" y2="433.70" stroke="#000" stroke-width="1" />
<line x1="374.16" y1="435.70" x2="374.16" y2="432.70" stroke="#000" stroke-width="1" />
<line x1="400.80" y1="435.70" x2="400.80" y2="433.70" stroke="#000" stroke-width="1" />
<line x1="427.44" y1="435.70" x2="427.44" y2="432.70" stroke="#000" stroke-width="1" />
<line x1="267.60" y1="515.30" x2="267.60" y2="512.30" stroke="#000" stroke-width="1" />
<line x1="294.24" y1="515.30" x2="294.24" y2="513.30" stroke="#000" stroke-width="1" />
<line x1="320.88" y1="515.30" x2="320.88" y2="512.30" stroke="#000" stroke-width="1" />
<line x1="347.52" y1="515.30" x2="347.52" y2="513.30" stroke="#000" stroke-width="1" />
<line x1="374.16" y1="515.30" x2="374.16" y2="512.30" stroke="#000" stroke-width="1" />
<line x1="400.80" y1="515.30" x2="400.80" y2="513.30" stroke="#000" stroke-width="1" />
<line x1="427.44" y1="515.30" x2="427.44" y2="512.30" stroke="#000" stroke-width="1" />
<line x1="254.50" y1="276.95" x2="256.30" y2="276.95" stroke="#000" stroke-width="1" />
<line x1="254.50" y1="287.10" x2="257.50" y2="287.10" stroke="#000" stroke-width="1" />
<line x1="254.50" y1="297.25" x2="256.30" y2="297.25" stroke="#000" stroke-width="1" />
<line x1="254.50" y1="307.40" x2="257.50" y2="307.40" stroke="#000" stroke-width="1" />
<line x1="254.50" y1="317.55" x2="256.30" y2="317.55" stroke="#000" stroke-width="1" />
<line x1="254.50" y1="327.70" x2="257.50" y2="327.70" stroke="#000" stroke-width="1" />
<line x1="254.50" y1="337.85" x2="256.30" y2="337.85" stroke="#000" stroke-width="1" />
<line x1="254.50" y1="348.00" x2="257.50" y2="348.00" stroke="#000" stroke-width="1" />
<line x1="254.50" y1="365.40" x2="257.50" y2="365.40" stroke="#000" stroke-width="1" />
<line x1="254.50" y1="375.40" x2="256.30" y2="375.40" stroke="#000" stroke-width="1" />
<line x1="254.50" y1="385.40" x2="257.50" y2="385.40" stroke="#000" stroke-width="1" />
<line x1="254.50" y1="395.40" x2="256.30" y2="395.40" stroke="#000" stroke-width="1" />
<line x1="254.50" y1="405.40" x2="257.50" y2="405.40" stroke="#000" stroke-width="1" />
<line x1="254.50" y1="415.40" x2="256.30" y2="415.40" stroke="#000" stroke-width="1" />
<line x1="254.50" y1="425.40" x2="257.50" y2="425.40" stroke="#000" stroke-width="1" />
<line x1="254.50" y1="438.35" x2="256.30" y2="438.35" stroke="#000" stroke-width="1" />
<line x1="254.50" y1="448.40" x2="257.50" y2="448.40" stroke="#000" stroke-width="1" />
<line x1="254.50" y1="458.45" x2="256.30" y2="458.45" stroke="#000" stroke-width="1" />
<line x1="254.50" y1="468.50" x2="257.50" y2="468.50" stroke="#000" stroke-width="1" />
<line x1="254.50" y1="478.55" x2="256.30" y2="478.55" stroke="#000" stroke-width="1" />
<line x1="254.50" y1="488.60" x2="257.50" y2="488.60" stroke="#000" stroke-width="1" />
<line x1="254.50" y1="498.65" x2="256.30" y2="498.65" stroke="#000" stroke-width="1" />
<line x1="254.50" y1="508.70" x2="257.50" y2="508.70" stroke="#000" stroke-width="1" />
<circle cx="300.50" cy="306.50" r="5.3" fill="#e280cf" stroke="none" stroke-width="1" />
<text x="300.90" y="309.90" font-size="10.0" fill="#111" text-anchor="middle" font-weight="bold" >H</text>
<path d="M305.60,306.80 317.1,307.2 323.3,298.2" stroke="#111" stroke-width="1.35" fill="none" stroke-linejoin="round" stroke-linecap="round"/>
<line x1="317.10" y1="307.20" x2="323.70" y2="315.80" stroke="#111" stroke-width="1.3" stroke-linecap="round"/>
<line x1="319.08" y1="305.68" x2="325.68" y2="314.28" stroke="#111" stroke-width="1.3" stroke-linecap="round"/>
<text x="326.40" y="296.80" font-size="10.4" fill="#111" text-anchor="middle" font-weight="bold" >O</text>
<text x="332.20" y="290.60" font-size="7.5" fill="#111" text-anchor="middle" font-weight="bold" >−</text>
<text x="325.10" y="325.40" font-size="10.4" fill="#111" text-anchor="middle" font-weight="bold" >O</text>
<circle cx="351.30" cy="301.50" r="5.4" fill="rgba(80,195,240,0.9)" stroke="none" stroke-width="1" />
<circle cx="394.30" cy="299.20" r="5.0" fill="#5cc6f0" stroke="none" stroke-width="1" />
<circle cx="408.00" cy="299.20" r="5.0" fill="#5cc6f0" stroke="none" stroke-width="1" />
<circle cx="394.20" cy="323.20" r="5.0" fill="#5cc6f0" stroke="none" stroke-width="1" />
<circle cx="407.60" cy="323.20" r="5.0" fill="#5cc6f0" stroke="none" stroke-width="1" />
<path d="M386.80,311.40 393.3,299.2 407.4,299.2 413.9,311.4 407.4,323.4 393.3,323.4 Z" stroke="#111" stroke-width="1.3" fill="none" stroke-linejoin="round" />
<line x1="389.93" y1="309.61" x2="393.48" y2="302.87" stroke="#111" stroke-width="1.0" />
<line x1="407.22" y1="302.87" x2="410.77" y2="309.61" stroke="#111" stroke-width="1.0" />
<line x1="404.29" y1="321.50" x2="396.41" y2="321.50" stroke="#111" stroke-width="1.0" />
<path d="M386.80,311.40 373.4,311.4 368.6,303.0" stroke="#111" stroke-width="1.35" fill="none" stroke-linejoin="round" stroke-linecap="round"/>
<line x1="373.40" y1="311.40" x2="368.40" y2="319.80" stroke="#111" stroke-width="1.3" stroke-linecap="round"/>
<line x1="371.60" y1="310.33" x2="366.60" y2="318.73" stroke="#111" stroke-width="1.3" stroke-linecap="round"/>
<path d="M413.90,311.40 427.9,311.4 432.8,319.6" stroke="#111" stroke-width="1.35" fill="none" stroke-linejoin="round" stroke-linecap="round"/>
<line x1="427.90" y1="311.40" x2="432.90" y2="302.40" stroke="#111" stroke-width="1.3" stroke-linecap="round"/>
<line x1="429.74" y1="312.42" x2="434.74" y2="303.42" stroke="#111" stroke-width="1.3" stroke-linecap="round"/>
<text x="365.30" y="302.00" font-size="9.43" fill="#111" text-anchor="middle" font-weight="bold" >O</text>
<text x="365.30" y="326.70" font-size="9.43" fill="#111" text-anchor="middle" font-weight="bold" >O</text>
<text x="436.00" y="302.40" font-size="9.43" fill="#111" text-anchor="middle" font-weight="bold" >O</text>
<text x="436.20" y="327.40" font-size="9.43" fill="#111" text-anchor="middle" font-weight="bold" >O</text>
<text x="360.80" y="295.80" font-size="6.5" fill="#111" text-anchor="middle" font-weight="bold" >−</text>
<text x="431.60" y="296.20" font-size="6.5" fill="#999" text-anchor="middle" font-weight="bold" >−</text>
<circle cx="300.00" cy="365.70" r="5.0" fill="rgba(210,80,90,0.72)" stroke="none" stroke-width="1" />
<circle cx="309.60" cy="360.60" r="5.0" fill="rgba(210,80,90,0.72)" stroke="none" stroke-width="1" />
<circle cx="319.30" cy="368.80" r="5.0" fill="rgba(210,80,90,0.72)" stroke="none" stroke-width="1" />
<circle cx="309.60" cy="384.00" r="5.0" fill="rgba(210,80,90,0.72)" stroke="none" stroke-width="1" />
<circle cx="338.60" cy="392.60" r="5.0" fill="rgba(210,80,90,0.72)" stroke="none" stroke-width="1" />
<path d="M309.60,360.80 319.3,366.7 319.3,379.2 309.6,383.8 299.6,379.2 299.6,366.4 Z" stroke="#111" stroke-width="1.3" fill="none" stroke-linejoin="round" />
<line x1="302.89" y1="366.55" x2="308.01" y2="363.68" stroke="#111" stroke-width="1.0" />
<line x1="317.58" y1="369.49" x2="317.65" y2="376.25" stroke="#111" stroke-width="1.0" />
<line x1="307.94" y1="381.06" x2="302.88" y2="378.79" stroke="#111" stroke-width="1.0" />
<path d="M299.60,379.20 289.5,385.9 283.0,382.3" stroke="#111" stroke-width="1.35" fill="none" stroke-linejoin="round" stroke-linecap="round"/>
<line x1="289.50" y1="385.90" x2="289.50" y2="393.50" stroke="#111" stroke-width="1.3" stroke-linecap="round"/>
<line x1="287.40" y1="385.90" x2="287.40" y2="393.50" stroke="#111" stroke-width="1.3" stroke-linecap="round"/>
<path d="M319.30,379.20 329.2,385.9 329.2,393.3" stroke="#111" stroke-width="1.35" fill="none" stroke-linejoin="round" stroke-linecap="round"/>
<line x1="329.20" y1="385.90" x2="336.00" y2="381.20" stroke="#111" stroke-width="1.3" stroke-linecap="round"/>
<line x1="328.01" y1="384.17" x2="334.81" y2="379.47" stroke="#111" stroke-width="1.3" stroke-linecap="round"/>
<text x="278.60" y="383.20" font-size="8.9" fill="#111" text-anchor="middle" font-weight="bold" >O</text>
<text x="281.90" y="376.40" font-size="6.2" fill="#111" text-anchor="middle" font-weight="bold" >−</text>
<text x="289.80" y="400.20" font-size="8.9" fill="#111" text-anchor="middle" font-weight="bold" >O</text>
<text x="339.50" y="383.20" font-size="8.9" fill="#111" text-anchor="middle" font-weight="bold" >O</text>
<text x="345.20" y="381.60" font-size="6.8" fill="#111" text-anchor="middle" font-weight="bold" >−</text>
<text x="329.00" y="400.20" font-size="8.9" fill="#111" text-anchor="middle" font-weight="bold" >O</text>
<line x1="355.20" y1="283.70" x2="379.20" y2="283.70" stroke="#c0508e" stroke-width="1.2" />
<text x="382.70" y="287.50" font-size="11.4" fill="#000" text-anchor="start" font-weight="bold" textLength="67.10" lengthAdjust="spacingAndGlyphs" >MCIrSA+PET</text>
<line x1="373.00" y1="363.10" x2="398.40" y2="363.10" stroke="#1ba0f5" stroke-width="1.2" />
<text x="402.80" y="367.50" font-size="11.9" fill="#000" text-anchor="start" font-weight="bold" textLength="47.00" lengthAdjust="spacingAndGlyphs" >MC+PET</text>
<line x1="392.50" y1="444.50" x2="420.90" y2="444.50" stroke="#555" stroke-width="1.0" />
<text x="425.90" y="448.60" font-size="11.6" fill="#000" text-anchor="start" font-weight="bold" >PET</text>
<text x="258.60" y="293.30" font-size="20.0" fill="#000" text-anchor="start" font-weight="bold" >e</text>
<text x="267.60" y="529.39" font-size="11.9" fill="#000" text-anchor="middle" font-weight="bold" >8.4</text>
<text x="320.88" y="529.39" font-size="11.9" fill="#000" text-anchor="middle" font-weight="bold" >8.0</text>
<text x="374.16" y="529.39" font-size="11.9" fill="#000" text-anchor="middle" font-weight="bold" >7.6</text>
<text x="427.44" y="529.39" font-size="11.9" fill="#000" text-anchor="middle" font-weight="bold" >7.2</text>
<text x="324.00" y="543.10" font-size="14.6" fill="#000" text-anchor="start" font-weight="bold" textLength="53.30" lengthAdjust="spacingAndGlyphs" >δ (ppm)</text>
<text transform="translate(241.90 391.90) scale(1.060 1) rotate(-90)" x="0" y="5.23" font-size="15.2" fill="#000" text-anchor="middle" font-weight="bold">Signal Intensity</text>
<linearGradient id="vg1" gradientUnits="userSpaceOnUse" x1="0" y1="33.6" x2="0" y2="127.6"><stop offset="0" stop-color="#76a646" stop-opacity="0.88"/><stop offset="1" stop-color="#dff0cf" stop-opacity="0.88"/></linearGradient>
<path d="M468.70,115.66 L469.20,116.56 L469.70,117.36 L470.20,118.06 L470.70,118.68 L471.20,119.23 L471.70,119.71 L472.20,120.14 L472.70,120.51 L473.20,120.84 L473.70,121.13 L474.20,121.39 L474.70,121.61 L475.20,121.81 L475.70,121.99 L476.20,122.14 L476.70,122.28 L477.20,122.39 L477.70,122.50 L478.20,122.58 L478.70,122.66 L479.20,122.73 L479.70,122.79 L480.20,122.84 L480.70,122.88 L481.20,122.91 L481.70,122.94 L482.20,122.96 L482.70,122.97 L483.20,122.98 L483.70,122.99 L484.20,122.99 L484.70,122.98 L485.20,122.97 L485.70,122.96 L486.20,122.94 L486.70,122.92 L487.20,122.89 L487.70,122.85 L488.20,122.81 L488.70,122.77 L489.20,122.72 L489.70,122.66 L490.20,122.59 L490.70,122.52 L491.20,122.44 L491.70,122.35 L492.20,122.25 L492.70,122.14 L493.20,122.02 L493.70,121.89 L494.20,121.75 L494.70,121.59 L495.20,121.42 L495.70,121.24 L496.20,121.04 L496.70,120.82 L497.20,120.59 L497.70,120.34 L498.20,120.06 L498.70,119.77 L499.20,119.45 L499.70,119.11 L500.20,118.75 L500.70,118.36 L501.20,117.94 L501.70,117.49 L502.20,117.02 L502.70,116.51 L503.20,115.97 L503.70,115.39 L504.20,114.78 L504.70,114.13 L505.20,113.45 L505.70,112.72 L506.20,111.96 L506.70,111.15 L507.20,110.31 L507.70,109.41 L508.20,108.48 L508.70,107.50 L509.20,106.47 L509.70,105.40 L510.20,104.29 L510.70,103.12 L511.20,101.91 L511.70,100.65 L512.20,99.35 L512.70,98.00 L513.20,96.61 L513.70,95.17 L514.20,93.68 L514.70,92.16 L515.20,90.59 L515.70,88.99 L516.20,87.35 L516.70,85.67 L517.20,83.96 L517.70,82.22 L518.20,80.45 L518.70,78.66 L519.20,76.85 L519.70,75.02 L520.20,73.17 L520.70,71.32 L521.20,69.46 L521.70,67.59 L522.20,65.73 L522.70,63.87 L523.20,62.03 L523.70,60.20 L524.20,58.40 L524.70,56.62 L525.20,54.87 L525.70,53.15 L526.20,51.48 L526.70,49.85 L527.20,48.28 L527.70,46.76 L528.20,45.30 L528.70,43.91 L529.20,42.58 L529.70,41.34 L530.20,40.17 L530.70,39.09 L531.20,38.09 L531.70,37.19 L532.20,36.38 L532.70,35.67 L533.20,35.06 L533.70,34.55 L534.20,34.15 L534.70,33.86 L535.20,33.67 L535.70,33.59 L536.20,33.63 L536.70,33.77 L537.20,34.02 L537.70,34.38 L538.20,34.85 L538.70,35.42 L539.20,36.10 L539.70,36.88 L540.20,37.75 L540.70,38.73 L541.20,39.79 L541.70,40.95 L542.20,42.18 L542.70,43.50 L543.20,44.90 L543.70,46.36 L544.20,47.90 L544.70,49.49 L545.20,51.15 L545.70,52.85 L546.20,54.61 L546.70,56.40 L547.20,58.23 L547.70,60.10 L548.20,61.99 L548.70,63.90 L549.20,65.83 L549.70,67.78 L550.20,69.73 L550.70,71.68 L551.20,73.64 L551.70,75.58 L552.20,77.52 L552.70,79.45 L553.20,81.35 L553.70,83.24 L554.20,85.11 L554.70,86.94 L555.20,88.75 L555.70,90.53 L556.20,92.27 L556.70,93.97 L557.20,95.64 L557.70,97.26 L558.20,98.84 L558.70,100.38 L559.20,101.88 L559.70,103.33 L560.20,104.73 L560.70,106.09 L561.20,107.40 L561.70,108.67 L562.20,109.89 L562.70,111.06 L563.20,112.19 L563.70,113.27 L564.20,114.30 L564.70,115.29 L565.20,116.24 L565.70,117.15 L566.20,118.01 L566.70,118.83 L567.20,119.62 L567.70,120.36 L568.20,121.07 L568.70,121.74 L569.20,122.38 L569.70,122.98 L570.20,123.56 L570.70,124.10 L571.20,124.61 L571.70,125.09 L572.20,125.55 L572.70,125.98 L573.20,126.39 L573.70,126.77 L574.20,127.14 L574.70,127.48 L575.20,127.80 L575.70,128.11 L576.20,128.39 L576.70,128.66 L577.20,128.92 L577.70,129.16 L578.20,129.39 L578.70,129.60 L579.20,129.81 L579.70,130.00 L580.20,130.18 L580.70,130.35 L581.20,130.52 L581.70,130.67 L582.20,130.82 L582.70,130.96 L583.20,131.09 L583.70,131.22 L584.20,131.34 L584.70,131.46 L585.20,131.57 L585.70,131.67 L586.20,131.77 L586.70,131.87 L587.20,131.97 L587.70,132.06 L588.20,132.15 L588.70,132.23 L589.20,132.31 L589.70,132.39 L590.20,132.47 L590.70,132.54 L591.20,132.62 L591.70,132.69 L592.20,132.76 L592.70,132.82 L593.20,132.89 L593.70,132.95 L594.20,133.01 L594.70,133.07 L595.20,133.13 L595.70,133.19 L596.20,133.25 L596.70,133.30 L597.20,133.36 L597.70,133.41 L598.20,133.46 L598.70,133.52 L599.20,133.57 L599.70,133.62 L599.70,133.87 L599.20,133.83 L598.70,133.78 L598.20,133.74 L597.70,133.69 L597.20,133.64 L596.70,133.60 L596.20,133.55 L595.70,133.50 L595.20,133.45 L594.70,133.40 L594.20,133.34 L593.70,133.29 L593.20,133.24 L592.70,133.18 L592.20,133.13 L591.70,133.07 L591.20,133.02 L590.70,132.96 L590.20,132.90 L589.70,132.84 L589.20,132.78 L588.70,132.72 L588.20,132.66 L587.70,132.60 L587.20,132.54 L586.70,132.48 L586.20,132.41 L585.70,132.35 L585.20,132.28 L584.70,132.22 L584.20,132.15 L583.70,132.08 L583.20,132.02 L582.70,131.95 L582.20,131.88 L581.70,131.81 L581.20,131.74 L580.70,131.67 L580.20,131.60 L579.70,131.53 L579.20,131.46 L578.70,131.38 L578.20,131.31 L577.70,131.24 L577.20,131.16 L576.70,131.09 L576.20,131.01 L575.70,130.94 L575.20,130.86 L574.70,130.79 L574.20,130.71 L573.70,130.63 L573.20,130.56 L572.70,130.48 L572.20,130.40 L571.70,130.33 L571.20,130.25 L570.70,130.17 L570.20,130.09 L569.70,130.02 L569.20,129.94 L568.70,129.86 L568.20,129.78 L567.70,129.70 L567.20,129.63 L566.70,129.55 L566.20,129.47 L565.70,129.39 L565.20,129.31 L564.70,129.24 L564.20,129.16 L563.70,129.08 L563.20,129.00 L562.70,128.93 L562.20,128.85 L561.70,128.77 L561.20,128.70 L560.70,128.62 L560.20,128.55 L559.70,128.47 L559.20,128.40 L558.70,128.32 L558.20,128.25 L557.70,128.18 L557.20,128.10 L556.70,128.03 L556.20,127.96 L555.70,127.89 L555.20,127.82 L554.70,127.75 L554.20,127.68 L553.70,127.61 L553.20,127.54 L552.70,127.47 L552.20,127.40 L551.70,127.34 L551.20,127.27 L550.70,127.20 L550.20,127.14 L549.70,127.07 L549.20,127.01 L548.70,126.95 L548.20,126.89 L547.70,126.83 L547.20,126.76 L546.70,126.70 L546.20,126.65 L545.70,126.59 L545.20,126.53 L544.70,126.47 L544.20,126.42 L543.70,126.36 L543.20,126.31 L542.70,126.25 L542.20,126.20 L541.70,126.15 L541.20,126.09 L540.70,126.04 L540.20,125.99 L539.70,125.94 L539.20,125.89 L538.70,125.85 L538.20,125.80 L537.70,125.75 L537.20,125.71 L536.70,125.66 L536.20,125.62 L535.70,125.57 L535.20,125.53 L534.70,125.49 L534.20,125.45 L533.70,125.41 L533.20,125.37 L532.70,125.33 L532.20,125.29 L531.70,125.25 L531.20,125.21 L530.70,125.18 L530.20,125.14 L529.70,125.11 L529.20,125.07 L528.70,125.04 L528.20,125.00 L527.70,124.97 L527.20,124.94 L526.70,124.91 L526.20,124.88 L525.70,124.85 L525.20,124.82 L524.70,124.79 L524.20,124.76 L523.70,124.73 L523.20,124.70 L522.70,124.68 L522.20,124.65 L521.70,124.62 L521.20,124.60 L520.70,124.57 L520.20,124.55 L519.70,124.53 L519.20,124.50 L518.70,124.48 L518.20,124.46 L517.70,124.44 L517.20,124.41 L516.70,124.39 L516.20,124.37 L515.70,124.35 L515.20,124.33 L514.70,124.31 L514.20,124.29 L513.70,124.28 L513.20,124.26 L512.70,124.24 L512.20,124.22 L511.70,124.21 L511.20,124.19 L510.70,124.17 L510.20,124.16 L509.70,124.14 L509.20,124.13 L508.70,124.11 L508.20,124.10 L507.70,124.08 L507.20,124.07 L506.70,124.06 L506.20,124.04 L505.70,124.03 L505.20,124.02 L504.70,124.01 L504.20,123.99 L503.70,123.98 L503.20,123.97 L502.70,123.96 L502.20,123.95 L501.70,123.94 L501.20,123.93 L500.70,123.92 L500.20,123.90 L499.70,123.89 L499.20,123.88 L498.70,123.87 L498.20,123.87 L497.70,123.86 L497.20,123.85 L496.70,123.84 L496.20,123.83 L495.70,123.82 L495.20,123.81 L494.70,123.80 L494.20,123.79 L493.70,123.78 L493.20,123.77 L492.70,123.76 L492.20,123.75 L491.70,123.75 L491.20,123.74 L490.70,123.73 L490.20,123.71 L489.70,123.70 L489.20,123.69 L488.70,123.68 L488.20,123.67 L487.70,123.65 L487.20,123.64 L486.70,123.63 L486.20,123.61 L485.70,123.59 L485.20,123.57 L484.70,123.55 L484.20,123.53 L483.70,123.50 L483.20,123.47 L482.70,123.44 L482.20,123.41 L481.70,123.37 L481.20,123.32 L480.70,123.27 L480.20,123.22 L479.70,123.16 L479.20,123.09 L478.70,123.01 L478.20,122.92 L477.70,122.82 L477.20,122.71 L476.70,122.59 L476.20,122.44 L475.70,122.28 L475.20,122.10 L474.70,121.90 L474.20,121.67 L473.70,121.40 L473.20,121.11 L472.70,120.77 L472.20,120.39 L471.70,119.96 L471.20,119.48 L470.70,118.93 L470.20,118.30 L469.70,117.59 L469.20,116.79 L468.70,115.89 Z" fill="url(#vg1)" stroke="none"/>
<path d="M468.70,115.66 469.2,116.6 469.7,117.4 470.2,118.1 470.7,118.7 471.2,119.2 471.7,119.7 472.2,120.1 472.7,120.5 473.2,120.8 473.7,121.1 474.2,121.4 474.7,121.6 475.2,121.8 475.7,122.0 476.2,122.1 476.7,122.3 477.2,122.4 477.7,122.5 478.2,122.6 478.7,122.7 479.2,122.7 479.7,122.8 480.2,122.8 480.7,122.9 481.2,122.9 481.7,122.9 482.2,123.0 482.7,123.0 483.2,123.0 483.7,123.0 484.2,123.0 484.7,123.0 485.2,123.0 485.7,123.0 486.2,122.9 486.7,122.9 487.2,122.9 487.7,122.9 488.2,122.8 488.7,122.8 489.2,122.7 489.7,122.7 490.2,122.6 490.7,122.5 491.2,122.4 491.7,122.3 492.2,122.2 492.7,122.1 493.2,122.0 493.7,121.9 494.2,121.7 494.7,121.6 495.2,121.4 495.7,121.2 496.2,121.0 496.7,120.8 497.2,120.6 497.7,120.3 498.2,120.1 498.7,119.8 499.2,119.5 499.7,119.1 500.2,118.7 500.7,118.4 501.2,117.9 501.7,117.5 502.2,117.0 502.7,116.5 503.2,116.0 503.7,115.4 504.2,114.8 504.7,114.1 505.2,113.4 505.7,112.7 506.2,112.0 506.7,111.2 507.2,110.3 507.7,109.4 508.2,108.5 508.7,107.5 509.2,106.5 509.7,105.4 510.2,104.3 510.7,103.1 511.2,101.9 511.7,100.7 512.2,99.4 512.7,98.0 513.2,96.6 513.7,95.2 514.2,93.7 514.7,92.2 515.2,90.6 515.7,89.0 516.2,87.3 516.7,85.7 517.2,84.0 517.7,82.2 518.2,80.5 518.7,78.7 519.2,76.8 519.7,75.0 520.2,73.2 520.7,71.3 521.2,69.5 521.7,67.6 522.2,65.7 522.7,63.9 523.2,62.0 523.7,60.2 524.2,58.4 524.7,56.6 525.2,54.9 525.7,53.2 526.2,51.5 526.7,49.9 527.2,48.3 527.7,46.8 528.2,45.3 528.7,43.9 529.2,42.6 529.7,41.3 530.2,40.2 530.7,39.1 531.2,38.1 531.7,37.2 532.2,36.4 532.7,35.7 533.2,35.1 533.7,34.6 534.2,34.2 534.7,33.9 535.2,33.7 535.7,33.6 536.2,33.6 536.7,33.8 537.2,34.0 537.7,34.4 538.2,34.8 538.7,35.4 539.2,36.1 539.7,36.9 540.2,37.8 540.7,38.7 541.2,39.8 541.7,40.9 542.2,42.2 542.7,43.5 543.2,44.9 543.7,46.4 544.2,47.9 544.7,49.5 545.2,51.1 545.7,52.9 546.2,54.6 546.7,56.4 547.2,58.2 547.7,60.1 548.2,62.0 548.7,63.9 549.2,65.8 549.7,67.8 550.2,69.7 550.7,71.7 551.2,73.6 551.7,75.6 552.2,77.5 552.7,79.4 553.2,81.4 553.7,83.2 554.2,85.1 554.7,86.9 555.2,88.8 555.7,90.5 556.2,92.3 556.7,94.0 557.2,95.6 557.7,97.3 558.2,98.8 558.7,100.4 559.2,101.9 559.7,103.3 560.2,104.7 560.7,106.1 561.2,107.4 561.7,108.7 562.2,109.9 562.7,111.1 563.2,112.2 563.7,113.3 564.2,114.3 564.7,115.3 565.2,116.2 565.7,117.1 566.2,118.0 566.7,118.8 567.2,119.6 567.7,120.4 568.2,121.1 568.7,121.7 569.2,122.4 569.7,123.0 570.2,123.6 570.7,124.1 571.2,124.6 571.7,125.1 572.2,125.6 572.7,126.0 573.2,126.4 573.7,126.8 574.2,127.1 574.7,127.5 575.2,127.8 575.7,128.1 576.2,128.4 576.7,128.7 577.2,128.9 577.7,129.2 578.2,129.4 578.7,129.6 579.2,129.8 579.7,130.0 580.2,130.2 580.7,130.4 581.2,130.5 581.7,130.7 582.2,130.8 582.7,131.0 583.2,131.1 583.7,131.2 584.2,131.3 584.7,131.5 585.2,131.6 585.7,131.7 586.2,131.8 586.7,131.9 587.2,132.0 587.7,132.1 588.2,132.1 588.7,132.2 589.2,132.3 589.7,132.4 590.2,132.5 590.7,132.5 591.2,132.6 591.7,132.7 592.2,132.8 592.7,132.8 593.2,132.9 593.7,133.0 594.2,133.0 594.7,133.1 595.2,133.1 595.7,133.2 596.2,133.2 596.7,133.3 597.2,133.4 597.7,133.4 598.2,133.5 598.7,133.5 599.2,133.6 599.7,133.6" stroke="#333" stroke-width="0.6" fill="none" stroke-linejoin="round" />
<linearGradient id="vg2" gradientUnits="userSpaceOnUse" x1="0" y1="54.5" x2="0" y2="136.1"><stop offset="0" stop-color="#387a92" stop-opacity="0.88"/><stop offset="1" stop-color="#a6dcf2" stop-opacity="0.88"/></linearGradient>
<path d="M548.00,125.96 L548.50,126.00 L549.00,126.04 L549.50,126.08 L550.00,126.12 L550.50,126.15 L551.00,126.19 L551.50,126.22 L552.00,126.25 L552.50,126.28 L553.00,126.31 L553.50,126.33 L554.00,126.36 L554.50,126.38 L555.00,126.39 L555.50,126.40 L556.00,126.41 L556.50,126.41 L557.00,126.41 L557.50,126.40 L558.00,126.39 L558.50,126.37 L559.00,126.34 L559.50,126.31 L560.00,126.26 L560.50,126.21 L561.00,126.15 L561.50,126.07 L562.00,125.99 L562.50,125.89 L563.00,125.78 L563.50,125.65 L564.00,125.51 L564.50,125.35 L565.00,125.18 L565.50,124.99 L566.00,124.78 L566.50,124.54 L567.00,124.29 L567.50,124.01 L568.00,123.71 L568.50,123.38 L569.00,123.03 L569.50,122.65 L570.00,122.24 L570.50,121.80 L571.00,121.33 L571.50,120.82 L572.00,120.28 L572.50,119.71 L573.00,119.10 L573.50,118.46 L574.00,117.77 L574.50,117.05 L575.00,116.29 L575.50,115.49 L576.00,114.65 L576.50,113.76 L577.00,112.84 L577.50,111.87 L578.00,110.86 L578.50,109.81 L579.00,108.71 L579.50,107.58 L580.00,106.41 L580.50,105.19 L581.00,103.94 L581.50,102.64 L582.00,101.31 L582.50,99.95 L583.00,98.55 L583.50,97.12 L584.00,95.66 L584.50,94.18 L585.00,92.67 L585.50,91.13 L586.00,89.58 L586.50,88.01 L587.00,86.43 L587.50,84.85 L588.00,83.25 L588.50,81.66 L589.00,80.06 L589.50,78.48 L590.00,76.91 L590.50,75.35 L591.00,73.81 L591.50,72.30 L592.00,70.82 L592.50,69.37 L593.00,67.96 L593.50,66.60 L594.00,65.29 L594.50,64.03 L595.00,62.83 L595.50,61.69 L596.00,60.63 L596.50,59.64 L597.00,58.72 L597.50,57.89 L598.00,57.14 L598.50,56.48 L599.00,55.91 L599.50,55.44 L600.00,55.07 L600.50,54.79 L601.00,54.62 L601.50,54.55 L602.00,54.58 L602.50,54.71 L603.00,54.95 L603.50,55.28 L604.00,55.72 L604.50,56.25 L605.00,56.89 L605.50,57.61 L606.00,58.42 L606.50,59.32 L607.00,60.30 L607.50,61.36 L608.00,62.50 L608.50,63.70 L609.00,64.97 L609.50,66.30 L610.00,67.69 L610.50,69.13 L611.00,70.61 L611.50,72.13 L612.00,73.69 L612.50,75.28 L613.00,76.90 L613.50,78.54 L614.00,80.19 L614.50,81.86 L615.00,83.54 L615.50,85.22 L616.00,86.90 L616.50,88.57 L617.00,90.24 L617.50,91.90 L618.00,93.54 L618.50,95.16 L619.00,96.77 L619.50,98.35 L620.00,99.90 L620.50,101.42 L621.00,102.91 L621.50,104.37 L622.00,105.80 L622.50,107.18 L623.00,108.53 L623.50,109.85 L624.00,111.12 L624.50,112.35 L625.00,113.54 L625.50,114.69 L626.00,115.80 L626.50,116.86 L627.00,117.88 L627.50,118.87 L628.00,119.81 L628.50,120.71 L629.00,121.56 L629.50,122.38 L630.00,123.16 L630.50,123.91 L631.00,124.61 L631.50,125.28 L632.00,125.92 L632.50,126.52 L633.00,127.08 L633.50,127.62 L634.00,128.12 L634.50,128.60 L635.00,129.05 L635.50,129.47 L636.00,129.86 L636.50,130.23 L637.00,130.58 L637.50,130.90 L638.00,131.20 L638.50,131.49 L639.00,131.75 L639.50,132.00 L640.00,132.23 L640.50,132.44 L641.00,132.64 L641.50,132.82 L642.00,133.00 L642.50,133.16 L643.00,133.30 L643.50,133.44 L644.00,133.57 L644.50,133.69 L645.00,133.80 L645.50,133.90 L646.00,133.99 L646.50,134.08 L647.00,134.16 L647.50,134.24 L648.00,134.31 L648.50,134.37 L649.00,134.43 L649.50,134.49 L650.00,134.54 L650.50,134.59 L651.00,134.64 L651.50,134.68 L652.00,134.72 L652.50,134.76 L653.00,134.79 L653.50,134.83 L654.00,134.86 L654.50,134.89 L655.00,134.92 L655.50,134.94 L656.00,134.97 L656.50,134.99 L657.00,135.01 L657.50,135.04 L658.00,135.06 L658.50,135.08 L659.00,135.09 L659.50,135.11 L660.00,135.13 L660.50,135.15 L661.00,135.16 L661.50,135.18 L662.00,135.19 L662.50,135.21 L663.00,135.22 L663.50,135.23 L664.00,135.25 L664.50,135.26 L665.00,135.27 L665.50,135.29 L666.00,135.30 L666.50,135.31 L667.00,135.32 L667.50,135.33 L668.00,135.34 L668.50,135.35 L669.00,135.36 L669.50,135.37 L670.00,135.38 L670.50,135.39 L671.00,135.40 L671.50,135.41 L672.00,135.42 L672.50,135.43 L673.00,135.43 L673.50,135.44 L674.00,135.45 L674.50,135.46 L675.00,135.47 L675.50,135.47 L676.00,135.48 L676.50,135.49 L677.00,135.50 L677.50,135.50 L678.00,135.51 L678.50,135.52 L679.00,135.52 L679.50,135.53 L680.00,135.54 L680.50,135.54 L681.00,135.55 L681.50,135.55 L682.00,135.56 L682.50,135.57 L683.00,135.57 L683.50,135.58 L684.00,135.58 L684.00,135.96 L683.50,135.96 L683.00,135.96 L682.50,135.96 L682.00,135.96 L681.50,135.96 L681.00,135.96 L680.50,135.96 L680.00,135.95 L679.50,135.95 L679.00,135.95 L678.50,135.95 L678.00,135.95 L677.50,135.95 L677.00,135.95 L676.50,135.95 L676.00,135.94 L675.50,135.94 L675.00,135.94 L674.50,135.94 L674.00,135.94 L673.50,135.94 L673.00,135.93 L672.50,135.93 L672.00,135.93 L671.50,135.93 L671.00,135.93 L670.50,135.93 L670.00,135.92 L669.50,135.92 L669.00,135.92 L668.50,135.92 L668.00,135.92 L667.50,135.91 L667.00,135.91 L666.50,135.91 L666.00,135.91 L665.50,135.91 L665.00,135.90 L664.50,135.90 L664.00,135.90 L663.50,135.90 L663.00,135.89 L662.50,135.89 L662.00,135.89 L661.50,135.88 L661.00,135.88 L660.50,135.88 L660.00,135.88 L659.50,135.87 L659.00,135.87 L658.50,135.87 L658.00,135.86 L657.50,135.86 L657.00,135.86 L656.50,135.85 L656.00,135.85 L655.50,135.84 L655.00,135.84 L654.50,135.84 L654.00,135.83 L653.50,135.83 L653.00,135.82 L652.50,135.82 L652.00,135.82 L651.50,135.81 L651.00,135.81 L650.50,135.80 L650.00,135.80 L649.50,135.79 L649.00,135.79 L648.50,135.78 L648.00,135.78 L647.50,135.77 L647.00,135.76 L646.50,135.76 L646.00,135.75 L645.50,135.75 L645.00,135.74 L644.50,135.73 L644.00,135.73 L643.50,135.72 L643.00,135.71 L642.50,135.71 L642.00,135.70 L641.50,135.69 L641.00,135.68 L640.50,135.68 L640.00,135.67 L639.50,135.66 L639.00,135.65 L638.50,135.64 L638.00,135.63 L637.50,135.62 L637.00,135.62 L636.50,135.61 L636.00,135.60 L635.50,135.59 L635.00,135.58 L634.50,135.57 L634.00,135.56 L633.50,135.54 L633.00,135.53 L632.50,135.52 L632.00,135.51 L631.50,135.50 L631.00,135.49 L630.50,135.47 L630.00,135.46 L629.50,135.45 L629.00,135.43 L628.50,135.42 L628.00,135.41 L627.50,135.39 L627.00,135.38 L626.50,135.36 L626.00,135.35 L625.50,135.33 L625.00,135.32 L624.50,135.30 L624.00,135.28 L623.50,135.27 L623.00,135.25 L622.50,135.23 L622.00,135.21 L621.50,135.19 L621.00,135.18 L620.50,135.16 L620.00,135.14 L619.50,135.12 L619.00,135.09 L618.50,135.07 L618.00,135.05 L617.50,135.03 L617.00,135.01 L616.50,134.98 L616.00,134.96 L615.50,134.94 L615.00,134.91 L614.50,134.89 L614.00,134.86 L613.50,134.83 L613.00,134.81 L612.50,134.78 L612.00,134.75 L611.50,134.72 L611.00,134.70 L610.50,134.67 L610.00,134.64 L609.50,134.61 L609.00,134.57 L608.50,134.54 L608.00,134.51 L607.50,134.48 L607.00,134.44 L606.50,134.41 L606.00,134.37 L605.50,134.34 L605.00,134.30 L604.50,134.26 L604.00,134.23 L603.50,134.19 L603.00,134.15 L602.50,134.11 L602.00,134.07 L601.50,134.03 L601.00,133.99 L600.50,133.94 L600.00,133.90 L599.50,133.86 L599.00,133.81 L598.50,133.77 L598.00,133.72 L597.50,133.67 L597.00,133.62 L596.50,133.58 L596.00,133.53 L595.50,133.48 L595.00,133.43 L594.50,133.38 L594.00,133.32 L593.50,133.27 L593.00,133.22 L592.50,133.16 L592.00,133.11 L591.50,133.05 L591.00,132.99 L590.50,132.94 L590.00,132.88 L589.50,132.82 L589.00,132.76 L588.50,132.70 L588.00,132.64 L587.50,132.58 L587.00,132.51 L586.50,132.45 L586.00,132.39 L585.50,132.32 L585.00,132.26 L584.50,132.19 L584.00,132.12 L583.50,132.06 L583.00,131.99 L582.50,131.92 L582.00,131.85 L581.50,131.78 L581.00,131.71 L580.50,131.64 L580.00,131.57 L579.50,131.50 L579.00,131.43 L578.50,131.35 L578.00,131.28 L577.50,131.21 L577.00,131.13 L576.50,131.06 L576.00,130.98 L575.50,130.91 L575.00,130.83 L574.50,130.76 L574.00,130.68 L573.50,130.60 L573.00,130.53 L572.50,130.45 L572.00,130.37 L571.50,130.30 L571.00,130.22 L570.50,130.14 L570.00,130.06 L569.50,129.98 L569.00,129.91 L568.50,129.83 L568.00,129.75 L567.50,129.67 L567.00,129.59 L566.50,129.52 L566.00,129.44 L565.50,129.36 L565.00,129.28 L564.50,129.20 L564.00,129.13 L563.50,129.05 L563.00,128.97 L562.50,128.90 L562.00,128.82 L561.50,128.74 L561.00,128.67 L560.50,128.59 L560.00,128.52 L559.50,128.44 L559.00,128.37 L558.50,128.29 L558.00,128.22 L557.50,128.15 L557.00,128.07 L556.50,128.00 L556.00,127.93 L555.50,127.86 L555.00,127.79 L554.50,127.72 L554.00,127.65 L553.50,127.58 L553.00,127.51 L552.50,127.44 L552.00,127.38 L551.50,127.31 L551.00,127.24 L550.50,127.18 L550.00,127.11 L549.50,127.05 L549.00,126.99 L548.50,126.92 L548.00,126.86 Z" fill="url(#vg2)" stroke="none"/>
<path d="M548.00,125.96 548.5,126.0 549.0,126.0 549.5,126.1 550.0,126.1 550.5,126.2 551.0,126.2 551.5,126.2 552.0,126.3 552.5,126.3 553.0,126.3 553.5,126.3 554.0,126.4 554.5,126.4 555.0,126.4 555.5,126.4 556.0,126.4 556.5,126.4 557.0,126.4 557.5,126.4 558.0,126.4 558.5,126.4 559.0,126.3 559.5,126.3 560.0,126.3 560.5,126.2 561.0,126.1 561.5,126.1 562.0,126.0 562.5,125.9 563.0,125.8 563.5,125.7 564.0,125.5 564.5,125.4 565.0,125.2 565.5,125.0 566.0,124.8 566.5,124.5 567.0,124.3 567.5,124.0 568.0,123.7 568.5,123.4 569.0,123.0 569.5,122.6 570.0,122.2 570.5,121.8 571.0,121.3 571.5,120.8 572.0,120.3 572.5,119.7 573.0,119.1 573.5,118.5 574.0,117.8 574.5,117.1 575.0,116.3 575.5,115.5 576.0,114.6 576.5,113.8 577.0,112.8 577.5,111.9 578.0,110.9 578.5,109.8 579.0,108.7 579.5,107.6 580.0,106.4 580.5,105.2 581.0,103.9 581.5,102.6 582.0,101.3 582.5,99.9 583.0,98.6 583.5,97.1 584.0,95.7 584.5,94.2 585.0,92.7 585.5,91.1 586.0,89.6 586.5,88.0 587.0,86.4 587.5,84.8 588.0,83.3 588.5,81.7 589.0,80.1 589.5,78.5 590.0,76.9 590.5,75.3 591.0,73.8 591.5,72.3 592.0,70.8 592.5,69.4 593.0,68.0 593.5,66.6 594.0,65.3 594.5,64.0 595.0,62.8 595.5,61.7 596.0,60.6 596.5,59.6 597.0,58.7 597.5,57.9 598.0,57.1 598.5,56.5 599.0,55.9 599.5,55.4 600.0,55.1 600.5,54.8 601.0,54.6 601.5,54.5 602.0,54.6 602.5,54.7 603.0,54.9 603.5,55.3 604.0,55.7 604.5,56.3 605.0,56.9 605.5,57.6 606.0,58.4 606.5,59.3 607.0,60.3 607.5,61.4 608.0,62.5 608.5,63.7 609.0,65.0 609.5,66.3 610.0,67.7 610.5,69.1 611.0,70.6 611.5,72.1 612.0,73.7 612.5,75.3 613.0,76.9 613.5,78.5 614.0,80.2 614.5,81.9 615.0,83.5 615.5,85.2 616.0,86.9 616.5,88.6 617.0,90.2 617.5,91.9 618.0,93.5 618.5,95.2 619.0,96.8 619.5,98.3 620.0,99.9 620.5,101.4 621.0,102.9 621.5,104.4 622.0,105.8 622.5,107.2 623.0,108.5 623.5,109.8 624.0,111.1 624.5,112.3 625.0,113.5 625.5,114.7 626.0,115.8 626.5,116.9 627.0,117.9 627.5,118.9 628.0,119.8 628.5,120.7 629.0,121.6 629.5,122.4 630.0,123.2 630.5,123.9 631.0,124.6 631.5,125.3 632.0,125.9 632.5,126.5 633.0,127.1 633.5,127.6 634.0,128.1 634.5,128.6 635.0,129.0 635.5,129.5 636.0,129.9 636.5,130.2 637.0,130.6 637.5,130.9 638.0,131.2 638.5,131.5 639.0,131.8 639.5,132.0 640.0,132.2 640.5,132.4 641.0,132.6 641.5,132.8 642.0,133.0 642.5,133.2 643.0,133.3 643.5,133.4 644.0,133.6 644.5,133.7 645.0,133.8 645.5,133.9 646.0,134.0 646.5,134.1 647.0,134.2 647.5,134.2 648.0,134.3 648.5,134.4 649.0,134.4 649.5,134.5 650.0,134.5 650.5,134.6 651.0,134.6 651.5,134.7 652.0,134.7 652.5,134.8 653.0,134.8 653.5,134.8 654.0,134.9 654.5,134.9 655.0,134.9 655.5,134.9 656.0,135.0 656.5,135.0 657.0,135.0 657.5,135.0 658.0,135.1 658.5,135.1 659.0,135.1 659.5,135.1 660.0,135.1 660.5,135.1 661.0,135.2 661.5,135.2 662.0,135.2 662.5,135.2 663.0,135.2 663.5,135.2 664.0,135.2 664.5,135.3 665.0,135.3 665.5,135.3 666.0,135.3 666.5,135.3 667.0,135.3 667.5,135.3 668.0,135.3 668.5,135.4 669.0,135.4 669.5,135.4 670.0,135.4 670.5,135.4 671.0,135.4 671.5,135.4 672.0,135.4 672.5,135.4 673.0,135.4 673.5,135.4 674.0,135.5 674.5,135.5 675.0,135.5 675.5,135.5 676.0,135.5 676.5,135.5 677.0,135.5 677.5,135.5 678.0,135.5 678.5,135.5 679.0,135.5 679.5,135.5 680.0,135.5 680.5,135.5 681.0,135.5 681.5,135.6 682.0,135.6 682.5,135.6 683.0,135.6 683.5,135.6 684.0,135.6" stroke="#333" stroke-width="0.6" fill="none" stroke-linejoin="round" />
<linearGradient id="vg3" gradientUnits="userSpaceOnUse" x1="0" y1="118.7" x2="0" y2="132.3"><stop offset="0" stop-color="#b98a66" stop-opacity="0.88"/><stop offset="1" stop-color="#f4c9a4" stop-opacity="0.88"/></linearGradient>
<path d="M538.00,125.60 L538.50,125.62 L539.00,125.65 L539.50,125.68 L540.00,125.70 L540.50,125.72 L541.00,125.74 L541.50,125.76 L542.00,125.78 L542.50,125.79 L543.00,125.79 L543.50,125.80 L544.00,125.80 L544.50,125.79 L545.00,125.78 L545.50,125.77 L546.00,125.74 L546.50,125.72 L547.00,125.68 L547.50,125.64 L548.00,125.59 L548.50,125.54 L549.00,125.47 L549.50,125.40 L550.00,125.32 L550.50,125.23 L551.00,125.13 L551.50,125.02 L552.00,124.90 L552.50,124.77 L553.00,124.64 L553.50,124.49 L554.00,124.33 L554.50,124.17 L555.00,123.99 L555.50,123.81 L556.00,123.61 L556.50,123.41 L557.00,123.20 L557.50,122.99 L558.00,122.77 L558.50,122.54 L559.00,122.31 L559.50,122.08 L560.00,121.84 L560.50,121.61 L561.00,121.37 L561.50,121.13 L562.00,120.90 L562.50,120.67 L563.00,120.45 L563.50,120.23 L564.00,120.02 L564.50,119.82 L565.00,119.64 L565.50,119.46 L566.00,119.30 L566.50,119.15 L567.00,119.03 L567.50,118.92 L568.00,118.82 L568.50,118.75 L569.00,118.70 L569.50,118.68 L570.00,118.67 L570.50,118.69 L571.00,118.73 L571.50,118.80 L572.00,118.88 L572.50,119.00 L573.00,119.14 L573.50,119.30 L574.00,119.48 L574.50,119.68 L575.00,119.91 L575.50,120.15 L576.00,120.42 L576.50,120.70 L577.00,121.00 L577.50,121.31 L578.00,121.63 L578.50,121.97 L579.00,122.32 L579.50,122.68 L580.00,123.04 L580.50,123.42 L581.00,123.79 L581.50,124.17 L582.00,124.55 L582.50,124.94 L583.00,125.32 L583.50,125.69 L584.00,126.07 L584.50,126.44 L585.00,126.81 L585.50,127.17 L586.00,127.52 L586.50,127.86 L587.00,128.20 L587.50,128.52 L588.00,128.84 L588.50,129.15 L589.00,129.44 L589.50,129.73 L590.00,130.00 L590.50,130.27 L591.00,130.52 L591.50,130.76 L592.00,130.99 L592.50,131.21 L593.00,131.42 L593.50,131.62 L594.00,131.81 L594.50,131.99 L595.00,132.16 L595.50,132.32 L596.00,132.47 L596.50,132.61 L597.00,132.75 L597.50,132.87 L598.00,133.00 L598.50,133.11 L599.00,133.22 L599.50,133.32 L600.00,133.41 L600.50,133.50 L601.00,133.58 L601.50,133.66 L602.00,133.74 L602.50,133.81 L603.00,133.88 L603.50,133.94 L604.00,134.00 L604.50,134.06 L605.00,134.12 L605.50,134.17 L606.00,134.22 L606.50,134.27 L607.00,134.31 L607.50,134.36 L608.00,134.40 L608.50,134.44 L609.00,134.48 L609.50,134.52 L610.00,134.55 L610.50,134.59 L611.00,134.62 L611.50,134.65 L612.00,134.69 L612.00,134.75 L611.50,134.72 L611.00,134.70 L610.50,134.67 L610.00,134.64 L609.50,134.61 L609.00,134.57 L608.50,134.54 L608.00,134.51 L607.50,134.48 L607.00,134.44 L606.50,134.41 L606.00,134.37 L605.50,134.34 L605.00,134.30 L604.50,134.26 L604.00,134.23 L603.50,134.19 L603.00,134.15 L602.50,134.11 L602.00,134.07 L601.50,134.03 L601.00,133.99 L600.50,133.94 L600.00,133.90 L599.50,133.86 L599.00,133.81 L598.50,133.77 L598.00,133.72 L597.50,133.67 L597.00,133.62 L596.50,133.58 L596.00,133.53 L595.50,133.48 L595.00,133.43 L594.50,133.38 L594.00,133.32 L593.50,133.27 L593.00,133.22 L592.50,133.16 L592.00,133.11 L591.50,133.05 L591.00,132.99 L590.50,132.94 L590.00,132.88 L589.50,132.82 L589.00,132.76 L588.50,132.70 L588.00,132.64 L587.50,132.58 L587.00,132.51 L586.50,132.45 L586.00,132.39 L585.50,132.32 L585.00,132.26 L584.50,132.19 L584.00,132.12 L583.50,132.06 L583.00,131.99 L582.50,131.92 L582.00,131.85 L581.50,131.78 L581.00,131.71 L580.50,131.64 L580.00,131.57 L579.50,131.50 L579.00,131.43 L578.50,131.35 L578.00,131.28 L577.50,131.21 L577.00,131.13 L576.50,131.06 L576.00,130.98 L575.50,130.91 L575.00,130.83 L574.50,130.76 L574.00,130.68 L573.50,130.60 L573.00,130.53 L572.50,130.45 L572.00,130.37 L571.50,130.30 L571.00,130.22 L570.50,130.14 L570.00,130.06 L569.50,129.98 L569.00,129.91 L568.50,129.83 L568.00,129.75 L567.50,129.67 L567.00,129.59 L566.50,129.52 L566.00,129.44 L565.50,129.36 L565.00,129.28 L564.50,129.20 L564.00,129.13 L563.50,129.05 L563.00,128.97 L562.50,128.90 L562.00,128.82 L561.50,128.74 L561.00,128.67 L560.50,128.59 L560.00,128.52 L559.50,128.44 L559.00,128.37 L558.50,128.29 L558.00,128.22 L557.50,128.15 L557.00,128.07 L556.50,128.00 L556.00,127.93 L555.50,127.86 L555.00,127.79 L554.50,127.72 L554.00,127.65 L553.50,127.58 L553.00,127.51 L552.50,127.44 L552.00,127.38 L551.50,127.31 L551.00,127.24 L550.50,127.18 L550.00,127.11 L549.50,127.05 L549.00,126.99 L548.50,126.92 L548.00,126.86 L547.50,126.80 L547.00,126.74 L546.50,126.68 L546.00,126.62 L545.50,126.56 L545.00,126.51 L544.50,126.45 L544.00,126.39 L543.50,126.34 L543.00,126.28 L542.50,126.23 L542.00,126.18 L541.50,126.12 L541.00,126.07 L540.50,126.02 L540.00,125.97 L539.50,125.92 L539.00,125.88 L538.50,125.83 L538.00,125.78 Z" fill="url(#vg3)" stroke="none"/>
<path d="M538.00,125.60 538.5,125.6 539.0,125.7 539.5,125.7 540.0,125.7 540.5,125.7 541.0,125.7 541.5,125.8 542.0,125.8 542.5,125.8 543.0,125.8 543.5,125.8 544.0,125.8 544.5,125.8 545.0,125.8 545.5,125.8 546.0,125.7 546.5,125.7 547.0,125.7 547.5,125.6 548.0,125.6 548.5,125.5 549.0,125.5 549.5,125.4 550.0,125.3 550.5,125.2 551.0,125.1 551.5,125.0 552.0,124.9 552.5,124.8 553.0,124.6 553.5,124.5 554.0,124.3 554.5,124.2 555.0,124.0 555.5,123.8 556.0,123.6 556.5,123.4 557.0,123.2 557.5,123.0 558.0,122.8 558.5,122.5 559.0,122.3 559.5,122.1 560.0,121.8 560.5,121.6 561.0,121.4 561.5,121.1 562.0,120.9 562.5,120.7 563.0,120.4 563.5,120.2 564.0,120.0 564.5,119.8 565.0,119.6 565.5,119.5 566.0,119.3 566.5,119.2 567.0,119.0 567.5,118.9 568.0,118.8 568.5,118.8 569.0,118.7 569.5,118.7 570.0,118.7 570.5,118.7 571.0,118.7 571.5,118.8 572.0,118.9 572.5,119.0 573.0,119.1 573.5,119.3 574.0,119.5 574.5,119.7 575.0,119.9 575.5,120.2 576.0,120.4 576.5,120.7 577.0,121.0 577.5,121.3 578.0,121.6 578.5,122.0 579.0,122.3 579.5,122.7 580.0,123.0 580.5,123.4 581.0,123.8 581.5,124.2 582.0,124.6 582.5,124.9 583.0,125.3 583.5,125.7 584.0,126.1 584.5,126.4 585.0,126.8 585.5,127.2 586.0,127.5 586.5,127.9 587.0,128.2 587.5,128.5 588.0,128.8 588.5,129.1 589.0,129.4 589.5,129.7 590.0,130.0 590.5,130.3 591.0,130.5 591.5,130.8 592.0,131.0 592.5,131.2 593.0,131.4 593.5,131.6 594.0,131.8 594.5,132.0 595.0,132.2 595.5,132.3 596.0,132.5 596.5,132.6 597.0,132.7 597.5,132.9 598.0,133.0 598.5,133.1 599.0,133.2 599.5,133.3 600.0,133.4 600.5,133.5 601.0,133.6 601.5,133.7 602.0,133.7 602.5,133.8 603.0,133.9 603.5,133.9 604.0,134.0 604.5,134.1 605.0,134.1 605.5,134.2 606.0,134.2 606.5,134.3 607.0,134.3 607.5,134.4 608.0,134.4 608.5,134.4 609.0,134.5 609.5,134.5 610.0,134.6 610.5,134.6 611.0,134.6 611.5,134.7 612.0,134.7" stroke="#333" stroke-width="0.6" fill="none" stroke-linejoin="round" />
<path d="M468.70,115.89 469.2,116.8 469.7,117.6 470.2,118.3 470.7,118.9 471.2,119.5 471.7,120.0 472.2,120.4 472.7,120.8 473.2,121.1 473.7,121.4 474.2,121.7 474.7,121.9 475.2,122.1 475.7,122.3 476.2,122.4 476.7,122.6 477.2,122.7 477.7,122.8 478.2,122.9 478.7,123.0 479.2,123.1 479.7,123.2 480.2,123.2 480.7,123.3 481.2,123.3 481.7,123.4 482.2,123.4 482.7,123.4 483.2,123.5 483.7,123.5 484.2,123.5 484.7,123.6 485.2,123.6 485.7,123.6 486.2,123.6 486.7,123.6 487.2,123.6 487.7,123.7 488.2,123.7 488.7,123.7 489.2,123.7 489.7,123.7 490.2,123.7 490.7,123.7 491.2,123.7 491.7,123.7 492.2,123.8 492.7,123.8 493.2,123.8 493.7,123.8 494.2,123.8 494.7,123.8 495.2,123.8 495.7,123.8 496.2,123.8 496.7,123.8 497.2,123.8 497.7,123.9 498.2,123.9 498.7,123.9 499.2,123.9 499.7,123.9 500.2,123.9 500.7,123.9 501.2,123.9 501.7,123.9 502.2,123.9 502.7,124.0 503.2,124.0 503.7,124.0 504.2,124.0 504.7,124.0 505.2,124.0 505.7,124.0 506.2,124.0 506.7,124.1 507.2,124.1 507.7,124.1 508.2,124.1 508.7,124.1 509.2,124.1 509.7,124.1 510.2,124.2 510.7,124.2 511.2,124.2 511.7,124.2 512.2,124.2 512.7,124.2 513.2,124.3 513.7,124.3 514.2,124.3 514.7,124.3 515.2,124.3 515.7,124.4 516.2,124.4 516.7,124.4 517.2,124.4 517.7,124.4 518.2,124.5 518.7,124.5 519.2,124.5 519.7,124.5 520.2,124.5 520.7,124.6 521.2,124.6 521.7,124.6 522.2,124.6 522.7,124.7 523.2,124.7 523.7,124.7 524.2,124.8 524.7,124.8 525.2,124.8 525.7,124.8 526.2,124.9 526.7,124.9 527.2,124.9 527.7,125.0 528.2,125.0 528.7,125.0 529.2,125.1 529.7,125.1 530.2,125.1 530.7,125.2 531.2,125.2 531.7,125.3 532.2,125.3 532.7,125.3 533.2,125.4 533.7,125.4 534.2,125.4 534.7,125.5 535.2,125.5 535.7,125.6 536.2,125.6 536.7,125.7 537.2,125.7 537.7,125.8 538.2,125.8 538.7,125.8 539.2,125.9 539.7,125.9 540.2,126.0 540.7,126.0 541.2,126.1 541.7,126.1 542.2,126.2 542.7,126.3 543.2,126.3 543.7,126.4 544.2,126.4 544.7,126.5 545.2,126.5 545.7,126.6 546.2,126.6 546.7,126.7 547.2,126.8 547.7,126.8 548.2,126.9 548.7,126.9 549.2,127.0 549.7,127.1 550.2,127.1 550.7,127.2 551.2,127.3 551.7,127.3 552.2,127.4 552.7,127.5 553.2,127.5 553.7,127.6 554.2,127.7 554.7,127.7 555.2,127.8 555.7,127.9 556.2,128.0 556.7,128.0 557.2,128.1 557.7,128.2 558.2,128.2 558.7,128.3 559.2,128.4 559.7,128.5 560.2,128.5 560.7,128.6 561.2,128.7 561.7,128.8 562.2,128.9 562.7,128.9 563.2,129.0 563.7,129.1 564.2,129.2 564.7,129.2 565.2,129.3 565.7,129.4 566.2,129.5 566.7,129.5 567.2,129.6 567.7,129.7 568.2,129.8 568.7,129.9 569.2,129.9 569.7,130.0 570.2,130.1 570.7,130.2 571.2,130.2 571.7,130.3 572.2,130.4 572.7,130.5 573.2,130.6 573.7,130.6 574.2,130.7 574.7,130.8 575.2,130.9 575.7,130.9 576.2,131.0 576.7,131.1 577.2,131.2 577.7,131.2 578.2,131.3 578.7,131.4 579.2,131.5 579.7,131.5 580.2,131.6 580.7,131.7 581.2,131.7 581.7,131.8 582.2,131.9 582.7,131.9 583.2,132.0 583.7,132.1 584.2,132.2 584.7,132.2 585.2,132.3 585.7,132.3 586.2,132.4 586.7,132.5 587.2,132.5 587.7,132.6 588.2,132.7 588.7,132.7 589.2,132.8 589.7,132.8 590.2,132.9 590.7,133.0 591.2,133.0 591.7,133.1 592.2,133.1 592.7,133.2 593.2,133.2 593.7,133.3 594.2,133.3 594.7,133.4 595.2,133.4 595.7,133.5 596.2,133.5 596.7,133.6 597.2,133.6 597.7,133.7 598.2,133.7 598.7,133.8 599.2,133.8 599.7,133.9 600.2,133.9 600.7,134.0 601.2,134.0 601.7,134.0 602.2,134.1 602.7,134.1 603.2,134.2 603.7,134.2 604.2,134.2 604.7,134.3 605.2,134.3 605.7,134.4 606.2,134.4 606.7,134.4 607.2,134.5 607.7,134.5 608.2,134.5 608.7,134.6 609.2,134.6 609.7,134.6 610.2,134.6 610.7,134.7 611.2,134.7 611.7,134.7 612.2,134.8 612.7,134.8 613.2,134.8 613.7,134.8 614.2,134.9 614.7,134.9 615.2,134.9 615.7,134.9 616.2,135.0 616.7,135.0 617.2,135.0 617.7,135.0 618.2,135.1 618.7,135.1 619.2,135.1 619.7,135.1 620.2,135.1 620.7,135.2 621.2,135.2 621.7,135.2 622.2,135.2 622.7,135.2 623.2,135.3 623.7,135.3 624.2,135.3 624.7,135.3 625.2,135.3 625.7,135.3 626.2,135.4 626.7,135.4 627.2,135.4 627.7,135.4 628.2,135.4 628.7,135.4 629.2,135.4 629.7,135.5 630.2,135.5 630.7,135.5 631.2,135.5 631.7,135.5 632.2,135.5 632.7,135.5 633.2,135.5 633.7,135.5 634.2,135.6 634.7,135.6 635.2,135.6 635.7,135.6 636.2,135.6 636.7,135.6 637.2,135.6 637.7,135.6 638.2,135.6 638.7,135.6 639.2,135.7 639.7,135.7 640.2,135.7 640.7,135.7 641.2,135.7 641.7,135.7 642.2,135.7 642.7,135.7 643.2,135.7 643.7,135.7 644.2,135.7 644.7,135.7 645.2,135.7 645.7,135.7 646.2,135.8 646.7,135.8 647.2,135.8 647.7,135.8 648.2,135.8 648.7,135.8 649.2,135.8 649.7,135.8 650.2,135.8 650.7,135.8 651.2,135.8 651.7,135.8 652.2,135.8 652.7,135.8 653.2,135.8 653.7,135.8 654.2,135.8 654.7,135.8 655.2,135.8 655.7,135.8 656.2,135.8 656.7,135.9 657.2,135.9 657.7,135.9 658.2,135.9 658.7,135.9 659.2,135.9 659.7,135.9 660.2,135.9 660.7,135.9 661.2,135.9 661.7,135.9 662.2,135.9 662.7,135.9 663.2,135.9 663.7,135.9 664.2,135.9 664.7,135.9 665.2,135.9 665.7,135.9 666.2,135.9 666.7,135.9 667.2,135.9 667.7,135.9 668.2,135.9 668.7,135.9 669.2,135.9 669.7,135.9 670.2,135.9 670.7,135.9 671.2,135.9 671.7,135.9 672.2,135.9 672.7,135.9 673.2,135.9 673.7,135.9 674.2,135.9 674.7,135.9 675.2,135.9 675.7,135.9 676.2,135.9 676.7,135.9 677.2,135.9 677.7,135.9 678.2,135.9 678.7,136.0 679.2,136.0 679.7,136.0 680.2,136.0 680.7,136.0 681.2,136.0 681.7,136.0 682.2,136.0 682.7,136.0 683.2,136.0 683.7,136.0" stroke="#3a3a3a" stroke-width="0.8" fill="none" stroke-linejoin="round" />
<path d="M468.70,115.50 469.2,116.4 469.7,117.2 470.2,117.9 470.7,118.5 471.2,119.1 471.7,119.5 472.2,120.0 472.7,120.3 473.2,120.7 473.7,121.0 474.2,121.2 474.7,121.4 475.2,121.6 475.7,121.8 476.2,122.0 476.7,122.1 477.2,122.2 477.7,122.3 478.2,122.4 478.7,122.5 479.2,122.5 479.7,122.6 480.2,122.6 480.7,122.7 481.2,122.7 481.7,122.7 482.2,122.8 482.7,122.8 483.2,122.8 483.7,122.8 484.2,122.8 484.7,122.8 485.2,122.8 485.7,122.8 486.2,122.7 486.7,122.7 487.2,122.7 487.7,122.6 488.2,122.6 488.7,122.5 489.2,122.5 489.7,122.4 490.2,122.4 490.7,122.3 491.2,122.2 491.7,122.1 492.2,122.0 492.7,121.9 493.2,121.8 493.7,121.7 494.2,121.5 494.7,121.3 495.2,121.2 495.7,121.0 496.2,120.8 496.7,120.6 497.2,120.3 497.7,120.1 498.2,119.8 498.7,119.5 499.2,119.2 499.7,118.8 500.2,118.5 500.7,118.1 501.2,117.7 501.7,117.2 502.2,116.7 502.7,116.2 503.2,115.7 503.7,115.1 504.2,114.5 504.7,113.8 505.2,113.1 505.7,112.4 506.2,111.7 506.7,110.8 507.2,110.0 507.7,109.1 508.2,108.2 508.7,107.2 509.2,106.1 509.7,105.1 510.2,104.0 510.7,102.8 511.2,101.6 511.7,100.3 512.2,99.0 512.7,97.6 513.2,96.2 513.7,94.8 514.2,93.3 514.7,91.8 515.2,90.2 515.7,88.6 516.2,87.0 516.7,85.3 517.2,83.6 517.7,81.8 518.2,80.1 518.7,78.3 519.2,76.4 519.7,74.6 520.2,72.8 520.7,70.9 521.2,69.0 521.7,67.2 522.2,65.3 522.7,63.4 523.2,61.6 523.7,59.7 524.2,57.9 524.7,56.1 525.2,54.4 525.7,52.7 526.2,51.0 526.7,49.4 527.2,47.8 527.7,46.2 528.2,44.8 528.7,43.4 529.2,42.0 529.7,40.8 530.2,39.6 530.7,38.5 531.2,37.5 531.7,36.6 532.2,35.8 532.7,35.1 533.2,34.4 533.7,33.9 534.2,33.5 534.7,33.2 535.2,33.0 535.7,32.9 536.2,32.9 536.7,33.0 537.2,33.3 537.7,33.6 538.2,34.0 538.7,34.6 539.2,35.2 539.7,36.0 540.2,36.8 540.7,37.7 541.2,38.8 541.7,39.9 542.2,41.1 542.7,42.3 543.2,43.7 543.7,45.1 544.2,46.5 544.7,48.0 545.2,49.6 545.7,51.2 546.2,52.9 546.7,54.6 547.2,56.3 547.7,58.0 548.2,59.8 548.7,61.5 549.2,63.3 549.7,65.1 550.2,66.9 550.7,68.6 551.2,70.4 551.7,72.1 552.2,73.8 552.7,75.5 553.2,77.2 553.7,78.8 554.2,80.4 554.7,81.9 555.2,83.4 555.7,84.9 556.2,86.3 556.7,87.7 557.2,89.0 557.7,90.2 558.2,91.4 558.7,92.5 559.2,93.6 559.7,94.7 560.2,95.6 560.7,96.5 561.2,97.4 561.7,98.2 562.2,98.9 562.7,99.6 563.2,100.3 563.7,100.8 564.2,101.4 564.7,101.9 565.2,102.3 565.7,102.7 566.2,103.0 566.7,103.3 567.2,103.5 567.7,103.7 568.2,103.9 568.7,104.0 569.2,104.1 569.7,104.1 570.2,104.1 570.7,104.1 571.2,104.0 571.7,103.9 572.2,103.7 572.7,103.5 573.2,103.3 573.7,103.1 574.2,102.8 574.7,102.4 575.2,102.1 575.7,101.6 576.2,101.2 576.7,100.7 577.2,100.2 577.7,99.6 578.2,99.0 578.7,98.3 579.2,97.6 579.7,96.9 580.2,96.1 580.7,95.3 581.2,94.4 581.7,93.5 582.2,92.5 582.7,91.5 583.2,90.5 583.7,89.4 584.2,88.3 584.7,87.2 585.2,86.0 585.7,84.8 586.2,83.6 586.7,82.3 587.2,81.0 587.7,79.7 588.2,78.4 588.7,77.1 589.2,75.7 589.7,74.4 590.2,73.1 590.7,71.7 591.2,70.4 591.7,69.1 592.2,67.8 592.7,66.6 593.2,65.3 593.7,64.1 594.2,63.0 594.7,61.9 595.2,60.8 595.7,59.8 596.2,58.9 596.7,58.0 597.2,57.2 597.7,56.5 598.2,55.9 598.7,55.3 599.2,54.9 599.7,54.5 600.2,54.2 600.7,54.0 601.2,53.9 601.7,54.0 602.2,54.1 602.7,54.3 603.2,54.6 603.7,55.0 604.2,55.5 604.7,56.1 605.2,56.8 605.7,57.5 606.2,58.4 606.7,59.4 607.2,60.4 607.7,61.5 608.2,62.7 608.7,63.9 609.2,65.2 609.7,66.6 610.2,68.0 610.7,69.4 611.2,71.0 611.7,72.5 612.2,74.1 612.7,75.7 613.2,77.3 613.7,79.0 614.2,80.6 614.7,82.3 615.2,84.0 615.7,85.7 616.2,87.4 616.7,89.0 617.2,90.7 617.7,92.4 618.2,94.0 618.7,95.6 619.2,97.2 619.7,98.8 620.2,100.3 620.7,101.8 621.2,103.3 621.7,104.8 622.2,106.2 622.7,107.6 623.2,108.9 623.7,110.2 624.2,111.4 624.7,112.7 625.2,113.8 625.7,115.0 626.2,116.1 626.7,117.1 627.2,118.1 627.7,119.1 628.2,120.0 628.7,120.9 629.2,121.7 629.7,122.6 630.2,123.3 630.7,124.0 631.2,124.7 631.7,125.4 632.2,126.0 632.7,126.6 633.2,127.2 633.7,127.7 634.2,128.2 634.7,128.6 635.2,129.1 635.7,129.5 636.2,129.9 636.7,130.2 637.2,130.6 637.7,130.9 638.2,131.2 638.7,131.5 639.2,131.7 639.7,132.0 640.2,132.2 640.7,132.4 641.2,132.6 641.7,132.8 642.2,132.9 642.7,133.1 643.2,133.2 643.7,133.4 644.2,133.5 644.7,133.6 645.2,133.7 645.7,133.8 646.2,133.9 646.7,134.0 647.2,134.1 647.7,134.2 648.2,134.2 648.7,134.3 649.2,134.4 649.7,134.4 650.2,134.5 650.7,134.5 651.2,134.6 651.7,134.6 652.2,134.6 652.7,134.7 653.2,134.7 653.7,134.7 654.2,134.8 654.7,134.8 655.2,134.8 655.7,134.9 656.2,134.9 656.7,134.9 657.2,134.9 657.7,135.0 658.2,135.0 658.7,135.0 659.2,135.0 659.7,135.0 660.2,135.1 660.7,135.1 661.2,135.1 661.7,135.1 662.2,135.1 662.7,135.1 663.2,135.1 663.7,135.2 664.2,135.2 664.7,135.2 665.2,135.2 665.7,135.2 666.2,135.2 666.7,135.2 667.2,135.3 667.7,135.3 668.2,135.3 668.7,135.3 669.2,135.3 669.7,135.3 670.2,135.3 670.7,135.3 671.2,135.3 671.7,135.3 672.2,135.4 672.7,135.4 673.2,135.4 673.7,135.4 674.2,135.4 674.7,135.4 675.2,135.4 675.7,135.4 676.2,135.4 676.7,135.4 677.2,135.4 677.7,135.4 678.2,135.5 678.7,135.5 679.2,135.5 679.7,135.5 680.2,135.5 680.7,135.5 681.2,135.5 681.7,135.5 682.2,135.5 682.7,135.5 683.2,135.5 683.7,135.5" stroke="#ffffff" stroke-width="2.6" fill="none" stroke-linejoin="round" />
<rect x="468.80" y="114.89" width="2.2" height="2.2" fill="#c4a453"/>
<rect x="471.95" y="118.42" width="2.2" height="2.2" fill="#c4a453"/>
<rect x="475.21" y="119.82" width="2.2" height="2.2" fill="#c4a453"/>
<rect x="478.46" y="119.31" width="2.2" height="2.2" fill="#c4a453"/>
<rect x="481.44" y="120.98" width="2.2" height="2.2" fill="#c4a453"/>
<rect x="484.53" y="120.90" width="2.2" height="2.2" fill="#c4a453"/>
<rect x="487.30" y="120.05" width="2.2" height="2.2" fill="#c4a453"/>
<rect x="490.15" y="119.80" width="2.2" height="2.2" fill="#c4a453"/>
<rect x="493.19" y="118.26" width="2.2" height="2.2" fill="#c4a453"/>
<rect x="496.02" y="117.61" width="2.2" height="2.2" fill="#c4a453"/>
<rect x="499.27" y="116.42" width="2.2" height="2.2" fill="#c4a453"/>
<rect x="502.07" y="113.91" width="2.2" height="2.2" fill="#c4a453"/>
<rect x="504.85" y="110.03" width="2.2" height="2.2" fill="#c4a453"/>
<rect x="507.63" y="104.22" width="2.2" height="2.2" fill="#c4a453"/>
<rect x="510.85" y="97.21" width="2.2" height="2.2" fill="#c4a453"/>
<rect x="513.68" y="90.43" width="2.2" height="2.2" fill="#c4a453"/>
<rect x="516.90" y="78.62" width="2.2" height="2.2" fill="#c4a453"/>
<rect x="520.18" y="67.03" width="2.2" height="2.2" fill="#c4a453"/>
<rect x="523.29" y="55.00" width="2.2" height="2.2" fill="#c4a453"/>
<rect x="526.55" y="44.80" width="2.2" height="2.2" fill="#c4a453"/>
<rect x="529.83" y="36.59" width="2.2" height="2.2" fill="#c4a453"/>
<rect x="532.71" y="31.28" width="2.2" height="2.2" fill="#c4a453"/>
<rect x="535.51" y="29.88" width="2.2" height="2.2" fill="#c4a453"/>
<rect x="538.25" y="32.34" width="2.2" height="2.2" fill="#c4a453"/>
<rect x="541.31" y="37.79" width="2.2" height="2.2" fill="#c4a453"/>
<rect x="544.42" y="47.22" width="2.2" height="2.2" fill="#c4a453"/>
<rect x="547.30" y="57.79" width="2.2" height="2.2" fill="#c4a453"/>
<rect x="550.29" y="67.56" width="2.2" height="2.2" fill="#c4a453"/>
<rect x="553.28" y="78.16" width="2.2" height="2.2" fill="#c4a453"/>
<rect x="556.02" y="86.48" width="2.2" height="2.2" fill="#c4a453"/>
<rect x="558.73" y="92.42" width="2.2" height="2.2" fill="#c4a453"/>
<rect x="561.94" y="96.54" width="2.2" height="2.2" fill="#c4a453"/>
<rect x="565.11" y="100.16" width="2.2" height="2.2" fill="#c4a453"/>
<rect x="568.16" y="100.77" width="2.2" height="2.2" fill="#c4a453"/>
<rect x="570.88" y="100.85" width="2.2" height="2.2" fill="#c4a453"/>
<rect x="574.16" y="99.18" width="2.2" height="2.2" fill="#c4a453"/>
<rect x="577.31" y="97.15" width="2.2" height="2.2" fill="#c4a453"/>
<rect x="580.58" y="91.16" width="2.2" height="2.2" fill="#c4a453"/>
<rect x="583.49" y="85.44" width="2.2" height="2.2" fill="#c4a453"/>
<rect x="586.65" y="76.97" width="2.2" height="2.2" fill="#c4a453"/>
<rect x="589.80" y="69.69" width="2.2" height="2.2" fill="#c4a453"/>
<rect x="593.02" y="60.38" width="2.2" height="2.2" fill="#c4a453"/>
<rect x="596.29" y="54.11" width="2.2" height="2.2" fill="#c4a453"/>
<rect x="599.19" y="51.95" width="2.2" height="2.2" fill="#c4a453"/>
<rect x="602.44" y="51.93" width="2.2" height="2.2" fill="#c4a453"/>
<rect x="605.70" y="56.73" width="2.2" height="2.2" fill="#c4a453"/>
<rect x="608.58" y="63.18" width="2.2" height="2.2" fill="#c4a453"/>
<rect x="611.39" y="71.19" width="2.2" height="2.2" fill="#c4a453"/>
<rect x="614.18" y="81.39" width="2.2" height="2.2" fill="#c4a453"/>
<rect x="617.48" y="91.53" width="2.2" height="2.2" fill="#c4a453"/>
<rect x="620.21" y="101.32" width="2.2" height="2.2" fill="#c4a453"/>
<rect x="623.23" y="108.61" width="2.2" height="2.2" fill="#c4a453"/>
<rect x="626.07" y="115.31" width="2.2" height="2.2" fill="#c4a453"/>
<rect x="629.26" y="120.70" width="2.2" height="2.2" fill="#c4a453"/>
<rect x="632.22" y="123.86" width="2.2" height="2.2" fill="#c4a453"/>
<rect x="635.47" y="126.76" width="2.2" height="2.2" fill="#c4a453"/>
<rect x="638.46" y="129.85" width="2.2" height="2.2" fill="#c4a453"/>
<rect x="641.24" y="130.80" width="2.2" height="2.2" fill="#c4a453"/>
<rect x="644.51" y="131.48" width="2.2" height="2.2" fill="#c4a453"/>
<rect x="647.68" y="131.15" width="2.2" height="2.2" fill="#c4a453"/>
<rect x="650.65" y="131.53" width="2.2" height="2.2" fill="#c4a453"/>
<rect x="653.85" y="131.98" width="2.2" height="2.2" fill="#c4a453"/>
<rect x="656.82" y="133.26" width="2.2" height="2.2" fill="#c4a453"/>
<rect x="660.04" y="133.34" width="2.2" height="2.2" fill="#c4a453"/>
<rect x="663.01" y="132.65" width="2.2" height="2.2" fill="#c4a453"/>
<rect x="666.15" y="132.71" width="2.2" height="2.2" fill="#c4a453"/>
<rect x="669.02" y="132.66" width="2.2" height="2.2" fill="#c4a453"/>
<rect x="671.81" y="132.67" width="2.2" height="2.2" fill="#c4a453"/>
<rect x="675.10" y="133.65" width="2.2" height="2.2" fill="#c4a453"/>
<rect x="678.18" y="132.96" width="2.2" height="2.2" fill="#c4a453"/>
<rect x="681.08" y="132.34" width="2.2" height="2.2" fill="#c4a453"/>
<path d="M468.70,115.50 469.2,116.4 469.7,117.2 470.2,117.9 470.7,118.5 471.2,119.1 471.7,119.5 472.2,120.0 472.7,120.3 473.2,120.7 473.7,121.0 474.2,121.2 474.7,121.4 475.2,121.6 475.7,121.8 476.2,122.0 476.7,122.1 477.2,122.2 477.7,122.3 478.2,122.4 478.7,122.5 479.2,122.5 479.7,122.6 480.2,122.6 480.7,122.7 481.2,122.7 481.7,122.7 482.2,122.8 482.7,122.8 483.2,122.8 483.7,122.8 484.2,122.8 484.7,122.8 485.2,122.8 485.7,122.8 486.2,122.7 486.7,122.7 487.2,122.7 487.7,122.6 488.2,122.6 488.7,122.5 489.2,122.5 489.7,122.4 490.2,122.4 490.7,122.3 491.2,122.2 491.7,122.1 492.2,122.0 492.7,121.9 493.2,121.8 493.7,121.7 494.2,121.5 494.7,121.3 495.2,121.2 495.7,121.0 496.2,120.8 496.7,120.6 497.2,120.3 497.7,120.1 498.2,119.8 498.7,119.5 499.2,119.2 499.7,118.8 500.2,118.5 500.7,118.1 501.2,117.7 501.7,117.2 502.2,116.7 502.7,116.2 503.2,115.7 503.7,115.1 504.2,114.5 504.7,113.8 505.2,113.1 505.7,112.4 506.2,111.7 506.7,110.8 507.2,110.0 507.7,109.1 508.2,108.2 508.7,107.2 509.2,106.1 509.7,105.1 510.2,104.0 510.7,102.8 511.2,101.6 511.7,100.3 512.2,99.0 512.7,97.6 513.2,96.2 513.7,94.8 514.2,93.3 514.7,91.8 515.2,90.2 515.7,88.6 516.2,87.0 516.7,85.3 517.2,83.6 517.7,81.8 518.2,80.1 518.7,78.3 519.2,76.4 519.7,74.6 520.2,72.8 520.7,70.9 521.2,69.0 521.7,67.2 522.2,65.3 522.7,63.4 523.2,61.6 523.7,59.7 524.2,57.9 524.7,56.1 525.2,54.4 525.7,52.7 526.2,51.0 526.7,49.4 527.2,47.8 527.7,46.2 528.2,44.8 528.7,43.4 529.2,42.0 529.7,40.8 530.2,39.6 530.7,38.5 531.2,37.5 531.7,36.6 532.2,35.8 532.7,35.1 533.2,34.4 533.7,33.9 534.2,33.5 534.7,33.2 535.2,33.0 535.7,32.9 536.2,32.9 536.7,33.0 537.2,33.3 537.7,33.6 538.2,34.0 538.7,34.6 539.2,35.2 539.7,36.0 540.2,36.8 540.7,37.7 541.2,38.8 541.7,39.9 542.2,41.1 542.7,42.3 543.2,43.7 543.7,45.1 544.2,46.5 544.7,48.0 545.2,49.6 545.7,51.2 546.2,52.9 546.7,54.6 547.2,56.3 547.7,58.0 548.2,59.8 548.7,61.5 549.2,63.3 549.7,65.1 550.2,66.9 550.7,68.6 551.2,70.4 551.7,72.1 552.2,73.8 552.7,75.5 553.2,77.2 553.7,78.8 554.2,80.4 554.7,81.9 555.2,83.4 555.7,84.9 556.2,86.3 556.7,87.7 557.2,89.0 557.7,90.2 558.2,91.4 558.7,92.5 559.2,93.6 559.7,94.7 560.2,95.6 560.7,96.5 561.2,97.4 561.7,98.2 562.2,98.9 562.7,99.6 563.2,100.3 563.7,100.8 564.2,101.4 564.7,101.9 565.2,102.3 565.7,102.7 566.2,103.0 566.7,103.3 567.2,103.5 567.7,103.7 568.2,103.9 568.7,104.0 569.2,104.1 569.7,104.1 570.2,104.1 570.7,104.1 571.2,104.0 571.7,103.9 572.2,103.7 572.7,103.5 573.2,103.3 573.7,103.1 574.2,102.8 574.7,102.4 575.2,102.1 575.7,101.6 576.2,101.2 576.7,100.7 577.2,100.2 577.7,99.6 578.2,99.0 578.7,98.3 579.2,97.6 579.7,96.9 580.2,96.1 580.7,95.3 581.2,94.4 581.7,93.5 582.2,92.5 582.7,91.5 583.2,90.5 583.7,89.4 584.2,88.3 584.7,87.2 585.2,86.0 585.7,84.8 586.2,83.6 586.7,82.3 587.2,81.0 587.7,79.7 588.2,78.4 588.7,77.1 589.2,75.7 589.7,74.4 590.2,73.1 590.7,71.7 591.2,70.4 591.7,69.1 592.2,67.8 592.7,66.6 593.2,65.3 593.7,64.1 594.2,63.0 594.7,61.9 595.2,60.8 595.7,59.8 596.2,58.9 596.7,58.0 597.2,57.2 597.7,56.5 598.2,55.9 598.7,55.3 599.2,54.9 599.7,54.5 600.2,54.2 600.7,54.0 601.2,53.9 601.7,54.0 602.2,54.1 602.7,54.3 603.2,54.6 603.7,55.0 604.2,55.5 604.7,56.1 605.2,56.8 605.7,57.5 606.2,58.4 606.7,59.4 607.2,60.4 607.7,61.5 608.2,62.7 608.7,63.9 609.2,65.2 609.7,66.6 610.2,68.0 610.7,69.4 611.2,71.0 611.7,72.5 612.2,74.1 612.7,75.7 613.2,77.3 613.7,79.0 614.2,80.6 614.7,82.3 615.2,84.0 615.7,85.7 616.2,87.4 616.7,89.0 617.2,90.7 617.7,92.4 618.2,94.0 618.7,95.6 619.2,97.2 619.7,98.8 620.2,100.3 620.7,101.8 621.2,103.3 621.7,104.8 622.2,106.2 622.7,107.6 623.2,108.9 623.7,110.2 624.2,111.4 624.7,112.7 625.2,113.8 625.7,115.0 626.2,116.1 626.7,117.1 627.2,118.1 627.7,119.1 628.2,120.0 628.7,120.9 629.2,121.7 629.7,122.6 630.2,123.3 630.7,124.0 631.2,124.7 631.7,125.4 632.2,126.0 632.7,126.6 633.2,127.2 633.7,127.7 634.2,128.2 634.7,128.6 635.2,129.1 635.7,129.5 636.2,129.9 636.7,130.2 637.2,130.6 637.7,130.9 638.2,131.2 638.7,131.5 639.2,131.7 639.7,132.0 640.2,132.2 640.7,132.4 641.2,132.6 641.7,132.8 642.2,132.9 642.7,133.1 643.2,133.2 643.7,133.4 644.2,133.5 644.7,133.6 645.2,133.7 645.7,133.8 646.2,133.9 646.7,134.0 647.2,134.1 647.7,134.2 648.2,134.2 648.7,134.3 649.2,134.4 649.7,134.4 650.2,134.5 650.7,134.5 651.2,134.6 651.7,134.6 652.2,134.6 652.7,134.7 653.2,134.7 653.7,134.7 654.2,134.8 654.7,134.8 655.2,134.8 655.7,134.9 656.2,134.9 656.7,134.9 657.2,134.9 657.7,135.0 658.2,135.0 658.7,135.0 659.2,135.0 659.7,135.0 660.2,135.1 660.7,135.1 661.2,135.1 661.7,135.1 662.2,135.1 662.7,135.1 663.2,135.1 663.7,135.2 664.2,135.2 664.7,135.2 665.2,135.2 665.7,135.2 666.2,135.2 666.7,135.2 667.2,135.3 667.7,135.3 668.2,135.3 668.7,135.3 669.2,135.3 669.7,135.3 670.2,135.3 670.7,135.3 671.2,135.3 671.7,135.3 672.2,135.4 672.7,135.4 673.2,135.4 673.7,135.4 674.2,135.4 674.7,135.4 675.2,135.4 675.7,135.4 676.2,135.4 676.7,135.4 677.2,135.4 677.7,135.4 678.2,135.5 678.7,135.5 679.2,135.5 679.7,135.5 680.2,135.5 680.7,135.5 681.2,135.5 681.7,135.5 682.2,135.5 682.7,135.5 683.2,135.5 683.7,135.5" stroke="#2f5888" stroke-width="0.9" fill="none" stroke-linejoin="round" />
<rect x="468.70" y="3.50" width="215.30" height="142.70" fill="none" stroke="#000" stroke-width="1.3" />
<line x1="490.60" y1="146.20" x2="490.60" y2="144.00" stroke="#000" stroke-width="1" />
<line x1="512.20" y1="146.20" x2="512.20" y2="144.90" stroke="#000" stroke-width="1" />
<line x1="533.80" y1="146.20" x2="533.80" y2="144.00" stroke="#000" stroke-width="1" />
<line x1="555.40" y1="146.20" x2="555.40" y2="144.90" stroke="#000" stroke-width="1" />
<line x1="577.00" y1="146.20" x2="577.00" y2="144.00" stroke="#000" stroke-width="1" />
<line x1="598.60" y1="146.20" x2="598.60" y2="144.90" stroke="#000" stroke-width="1" />
<line x1="620.20" y1="146.20" x2="620.20" y2="144.00" stroke="#000" stroke-width="1" />
<line x1="641.80" y1="146.20" x2="641.80" y2="144.90" stroke="#000" stroke-width="1" />
<line x1="663.40" y1="146.20" x2="663.40" y2="144.00" stroke="#000" stroke-width="1" />
<text x="490.60" y="156.50" font-size="9.6" fill="#000" text-anchor="middle" font-weight="bold" >290</text>
<text x="533.80" y="156.50" font-size="9.6" fill="#000" text-anchor="middle" font-weight="bold" >288</text>
<text x="577.00" y="156.50" font-size="9.6" fill="#000" text-anchor="middle" font-weight="bold" >286</text>
<text x="620.20" y="156.50" font-size="9.6" fill="#000" text-anchor="middle" font-weight="bold" >284</text>
<text x="663.40" y="156.50" font-size="9.6" fill="#000" text-anchor="middle" font-weight="bold" >282</text>
<text x="476.20" y="25.40" font-size="20.5" fill="#000" text-anchor="start" font-weight="bold" >f</text>
<text x="519.80" y="28.40" font-size="9.4" fill="#000" text-anchor="start" font-weight="bold" >N=C-N</text>
<text x="591.80" y="45.80" font-size="10.3" fill="#000" text-anchor="start" font-weight="bold" textLength="19.00" lengthAdjust="spacingAndGlyphs" >C-C</text>
<text x="573.90" y="102.50" font-size="10.0" fill="#000" text-anchor="start" font-weight="bold" transform="rotate(-90 573.90 102.50)" >C-(N)<tspan font-size="7" dy="2.5">3</tspan></text>
<text transform="translate(461.50 76.20) scale(1.060 1) rotate(-90)" x="0" y="4.04" font-size="11.75" fill="#000" text-anchor="middle" font-weight="bold">Counts (arb. units)</text>
<rect x="623.8" y="10.0" width="2.4" height="2.4" fill="#c4a453"/>
<linearGradient id="vg4" gradientUnits="userSpaceOnUse" x1="0" y1="18.1" x2="0" y2="28.2"><stop offset="0" stop-color="#8cbf5c" stop-opacity="1.0"/><stop offset="1" stop-color="#e3f2d6" stop-opacity="1.0"/></linearGradient>
<rect x="614.50" y="18.10" width="21.50" height="10.10" fill="url(#vg4)" stroke="#555" stroke-width="0.6" />
<linearGradient id="vg5" gradientUnits="userSpaceOnUse" x1="0" y1="30.2" x2="0" y2="41.1"><stop offset="0" stop-color="#4a92b8" stop-opacity="1.0"/><stop offset="1" stop-color="#b4e2f6" stop-opacity="1.0"/></linearGradient>
<rect x="614.50" y="30.20" width="21.50" height="10.90" fill="url(#vg5)" stroke="#555" stroke-width="0.6" />
<linearGradient id="vg6" gradientUnits="userSpaceOnUse" x1="0" y1="42.8" x2="0" y2="53.4"><stop offset="0" stop-color="#d7a27a" stop-opacity="1.0"/><stop offset="1" stop-color="#f8d6b8" stop-opacity="1.0"/></linearGradient>
<rect x="614.50" y="42.80" width="21.50" height="10.60" fill="url(#vg6)" stroke="#555" stroke-width="0.6" />
<line x1="614.50" y1="63.30" x2="636.00" y2="63.30" stroke="#777" stroke-width="1.2" />
<line x1="614.50" y1="75.50" x2="636.00" y2="75.50" stroke="#2f5888" stroke-width="1.0" />
<text x="639.70" y="14.47" font-size="9.5" fill="#111" text-anchor="start" font-weight="bold" >Raw data</text>
<text x="639.70" y="26.77" font-size="9.5" fill="#111" text-anchor="start" font-weight="bold" >N=C-N</text>
<text x="639.70" y="38.87" font-size="9.5" fill="#111" text-anchor="start" font-weight="bold" >C-C</text>
<text x="639.70" y="66.57" font-size="9.5" fill="#111" text-anchor="start" font-weight="bold" >Baseline</text>
<text x="639.70" y="78.77" font-size="9.5" fill="#111" text-anchor="start" font-weight="bold" >Peak</text>
<text x="639.70" y="90.57" font-size="9.5" fill="#111" text-anchor="start" font-weight="bold" >envelope</text>
<text x="639.70" y="51.97" font-size="9.5" fill="#111" text-anchor="start" font-weight="bold" >C-(N)<tspan font-size="6.8" dy="2.2">3</tspan></text>
<linearGradient id="vg7" gradientUnits="userSpaceOnUse" x1="0" y1="283.9" x2="0" y2="287.5"><stop offset="0" stop-color="#e3c765" stop-opacity="0.85"/><stop offset="1" stop-color="#f7efc6" stop-opacity="0.85"/></linearGradient>
<path d="M505.00,285.23 L505.50,285.22 L506.00,285.20 L506.50,285.19 L507.00,285.17 L507.50,285.16 L508.00,285.14 L508.50,285.12 L509.00,285.11 L509.50,285.09 L510.00,285.07 L510.50,285.05 L511.00,285.03 L511.50,285.01 L512.00,284.99 L512.50,284.97 L513.00,284.95 L513.50,284.93 L514.00,284.91 L514.50,284.89 L515.00,284.87 L515.50,284.84 L516.00,284.82 L516.50,284.80 L517.00,284.77 L517.50,284.75 L518.00,284.73 L518.50,284.70 L519.00,284.68 L519.50,284.65 L520.00,284.63 L520.50,284.60 L521.00,284.58 L521.50,284.55 L522.00,284.52 L522.50,284.50 L523.00,284.47 L523.50,284.45 L524.00,284.42 L524.50,284.40 L525.00,284.37 L525.50,284.35 L526.00,284.33 L526.50,284.30 L527.00,284.28 L527.50,284.25 L528.00,284.23 L528.50,284.21 L529.00,284.19 L529.50,284.17 L530.00,284.15 L530.50,284.13 L531.00,284.11 L531.50,284.09 L532.00,284.07 L532.50,284.05 L533.00,284.04 L533.50,284.02 L534.00,284.01 L534.50,283.99 L535.00,283.98 L535.50,283.97 L536.00,283.96 L536.50,283.95 L537.00,283.94 L537.50,283.93 L538.00,283.92 L538.50,283.92 L539.00,283.91 L539.50,283.91 L540.00,283.91 L540.50,283.91 L541.00,283.91 L541.50,283.91 L542.00,283.91 L542.50,283.91 L543.00,283.92 L543.50,283.92 L544.00,283.93 L544.50,283.94 L545.00,283.94 L545.50,283.95 L546.00,283.96 L546.50,283.98 L547.00,283.99 L547.50,284.00 L548.00,284.02 L548.50,284.03 L549.00,284.05 L549.50,284.07 L550.00,284.08 L550.50,284.10 L551.00,284.12 L551.50,284.14 L552.00,284.16 L552.50,284.19 L553.00,284.21 L553.50,284.23 L554.00,284.26 L554.50,284.28 L555.00,284.31 L555.50,284.33 L556.00,284.36 L556.50,284.38 L557.00,284.41 L557.50,284.44 L558.00,284.46 L558.50,284.49 L559.00,284.52 L559.50,284.55 L560.00,284.57 L560.50,284.60 L561.00,284.63 L561.50,284.66 L562.00,284.69 L562.50,284.72 L563.00,284.74 L563.50,284.77 L564.00,284.80 L564.50,284.83 L565.00,284.86 L565.50,284.89 L566.00,284.92 L566.50,284.95 L567.00,284.97 L567.50,285.00 L568.00,285.03 L568.50,285.06 L569.00,285.09 L569.50,285.12 L570.00,285.14 L570.50,285.17 L571.00,285.20 L571.50,285.23 L572.00,285.26 L572.50,285.29 L573.00,285.31 L573.50,285.34 L574.00,285.37 L574.50,285.40 L575.00,285.43 L575.50,285.46 L576.00,285.49 L576.50,285.52 L577.00,285.55 L577.50,285.58 L578.00,285.61 L578.00,285.86 L577.50,285.84 L577.00,285.82 L576.50,285.80 L576.00,285.79 L575.50,285.77 L575.00,285.76 L574.50,285.74 L574.00,285.73 L573.50,285.72 L573.00,285.71 L572.50,285.70 L572.00,285.69 L571.50,285.68 L571.00,285.67 L570.50,285.66 L570.00,285.65 L569.50,285.64 L569.00,285.63 L568.50,285.63 L568.00,285.62 L567.50,285.61 L567.00,285.61 L566.50,285.60 L566.00,285.60 L565.50,285.59 L565.00,285.59 L564.50,285.58 L564.00,285.58 L563.50,285.57 L563.00,285.57 L562.50,285.57 L562.00,285.56 L561.50,285.56 L561.00,285.56 L560.50,285.55 L560.00,285.55 L559.50,285.55 L559.00,285.54 L558.50,285.54 L558.00,285.54 L557.50,285.54 L557.00,285.54 L556.50,285.53 L556.00,285.53 L555.50,285.53 L555.00,285.53 L554.50,285.53 L554.00,285.53 L553.50,285.52 L553.00,285.52 L552.50,285.52 L552.00,285.52 L551.50,285.52 L551.00,285.52 L550.50,285.52 L550.00,285.52 L549.50,285.52 L549.00,285.51 L548.50,285.51 L548.00,285.51 L547.50,285.51 L547.00,285.51 L546.50,285.51 L546.00,285.51 L545.50,285.51 L545.00,285.51 L544.50,285.51 L544.00,285.51 L543.50,285.51 L543.00,285.51 L542.50,285.51 L542.00,285.51 L541.50,285.51 L541.00,285.51 L540.50,285.51 L540.00,285.51 L539.50,285.51 L539.00,285.50 L538.50,285.50 L538.00,285.50 L537.50,285.50 L537.00,285.50 L536.50,285.50 L536.00,285.50 L535.50,285.50 L535.00,285.50 L534.50,285.50 L534.00,285.50 L533.50,285.50 L533.00,285.50 L532.50,285.50 L532.00,285.50 L531.50,285.50 L531.00,285.50 L530.50,285.50 L530.00,285.50 L529.50,285.50 L529.00,285.50 L528.50,285.50 L528.00,285.50 L527.50,285.50 L527.00,285.50 L526.50,285.50 L526.00,285.50 L525.50,285.50 L525.00,285.50 L524.50,285.50 L524.00,285.50 L523.50,285.50 L523.00,285.50 L522.50,285.50 L522.00,285.50 L521.50,285.50 L521.00,285.50 L520.50,285.50 L520.00,285.50 L519.50,285.50 L519.00,285.50 L518.50,285.50 L518.00,285.50 L517.50,285.50 L517.00,285.50 L516.50,285.50 L516.00,285.50 L515.50,285.50 L515.00,285.50 L514.50,285.50 L514.00,285.50 L513.50,285.50 L513.00,285.50 L512.50,285.50 L512.00,285.50 L511.50,285.50 L511.00,285.50 L510.50,285.50 L510.00,285.50 L509.50,285.50 L509.00,285.50 L508.50,285.50 L508.00,285.50 L507.50,285.50 L507.00,285.50 L506.50,285.50 L506.00,285.50 L505.50,285.50 L505.00,285.50 Z" fill="url(#vg7)" stroke="none"/>
<path d="M505.00,285.23 505.5,285.2 506.0,285.2 506.5,285.2 507.0,285.2 507.5,285.2 508.0,285.1 508.5,285.1 509.0,285.1 509.5,285.1 510.0,285.1 510.5,285.1 511.0,285.0 511.5,285.0 512.0,285.0 512.5,285.0 513.0,285.0 513.5,284.9 514.0,284.9 514.5,284.9 515.0,284.9 515.5,284.8 516.0,284.8 516.5,284.8 517.0,284.8 517.5,284.7 518.0,284.7 518.5,284.7 519.0,284.7 519.5,284.7 520.0,284.6 520.5,284.6 521.0,284.6 521.5,284.6 522.0,284.5 522.5,284.5 523.0,284.5 523.5,284.4 524.0,284.4 524.5,284.4 525.0,284.4 525.5,284.3 526.0,284.3 526.5,284.3 527.0,284.3 527.5,284.3 528.0,284.2 528.5,284.2 529.0,284.2 529.5,284.2 530.0,284.1 530.5,284.1 531.0,284.1 531.5,284.1 532.0,284.1 532.5,284.1 533.0,284.0 533.5,284.0 534.0,284.0 534.5,284.0 535.0,284.0 535.5,284.0 536.0,284.0 536.5,283.9 537.0,283.9 537.5,283.9 538.0,283.9 538.5,283.9 539.0,283.9 539.5,283.9 540.0,283.9 540.5,283.9 541.0,283.9 541.5,283.9 542.0,283.9 542.5,283.9 543.0,283.9 543.5,283.9 544.0,283.9 544.5,283.9 545.0,283.9 545.5,284.0 546.0,284.0 546.5,284.0 547.0,284.0 547.5,284.0 548.0,284.0 548.5,284.0 549.0,284.0 549.5,284.1 550.0,284.1 550.5,284.1 551.0,284.1 551.5,284.1 552.0,284.2 552.5,284.2 553.0,284.2 553.5,284.2 554.0,284.3 554.5,284.3 555.0,284.3 555.5,284.3 556.0,284.4 556.5,284.4 557.0,284.4 557.5,284.4 558.0,284.5 558.5,284.5 559.0,284.5 559.5,284.5 560.0,284.6 560.5,284.6 561.0,284.6 561.5,284.7 562.0,284.7 562.5,284.7 563.0,284.7 563.5,284.8 564.0,284.8 564.5,284.8 565.0,284.9 565.5,284.9 566.0,284.9 566.5,284.9 567.0,285.0 567.5,285.0 568.0,285.0 568.5,285.1 569.0,285.1 569.5,285.1 570.0,285.1 570.5,285.2 571.0,285.2 571.5,285.2 572.0,285.3 572.5,285.3 573.0,285.3 573.5,285.3 574.0,285.4 574.5,285.4 575.0,285.4 575.5,285.5 576.0,285.5 576.5,285.5 577.0,285.5 577.5,285.6 578.0,285.6" stroke="#333" stroke-width="0.6" fill="none" stroke-linejoin="round" />
<linearGradient id="vg8" gradientUnits="userSpaceOnUse" x1="0" y1="274.5" x2="0" y2="288.4"><stop offset="0" stop-color="#bb5a6a" stop-opacity="0.85"/><stop offset="1" stop-color="#f2c4cb" stop-opacity="0.85"/></linearGradient>
<path d="M560.00,285.37 L560.50,285.35 L561.00,285.34 L561.50,285.32 L562.00,285.30 L562.50,285.28 L563.00,285.25 L563.50,285.22 L564.00,285.18 L564.50,285.14 L565.00,285.09 L565.50,285.03 L566.00,284.97 L566.50,284.89 L567.00,284.81 L567.50,284.71 L568.00,284.61 L568.50,284.49 L569.00,284.36 L569.50,284.21 L570.00,284.04 L570.50,283.86 L571.00,283.67 L571.50,283.45 L572.00,283.22 L572.50,282.97 L573.00,282.70 L573.50,282.41 L574.00,282.10 L574.50,281.78 L575.00,281.43 L575.50,281.08 L576.00,280.70 L576.50,280.32 L577.00,279.92 L577.50,279.52 L578.00,279.10 L578.50,278.69 L579.00,278.28 L579.50,277.86 L580.00,277.46 L580.50,277.07 L581.00,276.69 L581.50,276.33 L582.00,275.99 L582.50,275.68 L583.00,275.40 L583.50,275.15 L584.00,274.94 L584.50,274.78 L585.00,274.65 L585.50,274.58 L586.00,274.55 L586.50,274.56 L587.00,274.63 L587.50,274.75 L588.00,274.92 L588.50,275.13 L589.00,275.38 L589.50,275.68 L590.00,276.02 L590.50,276.39 L591.00,276.79 L591.50,277.22 L592.00,277.68 L592.50,278.15 L593.00,278.64 L593.50,279.14 L594.00,279.65 L594.50,280.17 L595.00,280.69 L595.50,281.20 L596.00,281.72 L596.50,282.22 L597.00,282.72 L597.50,283.20 L598.00,283.68 L598.50,284.14 L599.00,284.58 L599.50,285.01 L600.00,285.42 L600.50,285.81 L601.00,286.19 L601.50,286.55 L602.00,286.89 L602.50,287.22 L603.00,287.53 L603.50,287.82 L604.00,288.10 L604.50,288.37 L605.00,288.62 L605.50,288.86 L606.00,289.09 L606.50,289.31 L607.00,289.52 L607.50,289.72 L608.00,289.91 L608.50,290.09 L609.00,290.27 L609.50,290.44 L610.00,290.60 L610.50,290.76 L611.00,290.91 L611.50,291.05 L612.00,291.19 L612.50,291.33 L613.00,291.46 L613.50,291.59 L614.00,291.71 L614.00,291.87 L613.50,291.76 L613.00,291.65 L612.50,291.53 L612.00,291.41 L611.50,291.29 L611.00,291.17 L610.50,291.04 L610.00,290.92 L609.50,290.79 L609.00,290.66 L608.50,290.54 L608.00,290.41 L607.50,290.28 L607.00,290.15 L606.50,290.02 L606.00,289.89 L605.50,289.76 L605.00,289.64 L604.50,289.51 L604.00,289.38 L603.50,289.26 L603.00,289.13 L602.50,289.01 L602.00,288.89 L601.50,288.77 L601.00,288.65 L600.50,288.54 L600.00,288.43 L599.50,288.32 L599.00,288.21 L598.50,288.10 L598.00,288.00 L597.50,287.90 L597.00,287.80 L596.50,287.71 L596.00,287.62 L595.50,287.53 L595.00,287.44 L594.50,287.36 L594.00,287.27 L593.50,287.20 L593.00,287.12 L592.50,287.05 L592.00,286.98 L591.50,286.91 L591.00,286.84 L590.50,286.78 L590.00,286.72 L589.50,286.66 L589.00,286.61 L588.50,286.56 L588.00,286.50 L587.50,286.46 L587.00,286.41 L586.50,286.36 L586.00,286.32 L585.50,286.28 L585.00,286.24 L584.50,286.21 L584.00,286.17 L583.50,286.14 L583.00,286.10 L582.50,286.07 L582.00,286.04 L581.50,286.02 L581.00,285.99 L580.50,285.96 L580.00,285.94 L579.50,285.92 L579.00,285.90 L578.50,285.88 L578.00,285.86 L577.50,285.84 L577.00,285.82 L576.50,285.80 L576.00,285.79 L575.50,285.77 L575.00,285.76 L574.50,285.74 L574.00,285.73 L573.50,285.72 L573.00,285.71 L572.50,285.70 L572.00,285.69 L571.50,285.68 L571.00,285.67 L570.50,285.66 L570.00,285.65 L569.50,285.64 L569.00,285.63 L568.50,285.63 L568.00,285.62 L567.50,285.61 L567.00,285.61 L566.50,285.60 L566.00,285.60 L565.50,285.59 L565.00,285.59 L564.50,285.58 L564.00,285.58 L563.50,285.57 L563.00,285.57 L562.50,285.57 L562.00,285.56 L561.50,285.56 L561.00,285.56 L560.50,285.55 L560.00,285.55 Z" fill="url(#vg8)" stroke="none"/>
<path d="M560.00,285.37 560.5,285.4 561.0,285.3 561.5,285.3 562.0,285.3 562.5,285.3 563.0,285.3 563.5,285.2 564.0,285.2 564.5,285.1 565.0,285.1 565.5,285.0 566.0,285.0 566.5,284.9 567.0,284.8 567.5,284.7 568.0,284.6 568.5,284.5 569.0,284.4 569.5,284.2 570.0,284.0 570.5,283.9 571.0,283.7 571.5,283.5 572.0,283.2 572.5,283.0 573.0,282.7 573.5,282.4 574.0,282.1 574.5,281.8 575.0,281.4 575.5,281.1 576.0,280.7 576.5,280.3 577.0,279.9 577.5,279.5 578.0,279.1 578.5,278.7 579.0,278.3 579.5,277.9 580.0,277.5 580.5,277.1 581.0,276.7 581.5,276.3 582.0,276.0 582.5,275.7 583.0,275.4 583.5,275.2 584.0,274.9 584.5,274.8 585.0,274.7 585.5,274.6 586.0,274.5 586.5,274.6 587.0,274.6 587.5,274.8 588.0,274.9 588.5,275.1 589.0,275.4 589.5,275.7 590.0,276.0 590.5,276.4 591.0,276.8 591.5,277.2 592.0,277.7 592.5,278.1 593.0,278.6 593.5,279.1 594.0,279.7 594.5,280.2 595.0,280.7 595.5,281.2 596.0,281.7 596.5,282.2 597.0,282.7 597.5,283.2 598.0,283.7 598.5,284.1 599.0,284.6 599.5,285.0 600.0,285.4 600.5,285.8 601.0,286.2 601.5,286.5 602.0,286.9 602.5,287.2 603.0,287.5 603.5,287.8 604.0,288.1 604.5,288.4 605.0,288.6 605.5,288.9 606.0,289.1 606.5,289.3 607.0,289.5 607.5,289.7 608.0,289.9 608.5,290.1 609.0,290.3 609.5,290.4 610.0,290.6 610.5,290.8 611.0,290.9 611.5,291.1 612.0,291.2 612.5,291.3 613.0,291.5 613.5,291.6 614.0,291.7" stroke="#333" stroke-width="0.6" fill="none" stroke-linejoin="round" />
<linearGradient id="vg9" gradientUnits="userSpaceOnUse" x1="0" y1="197.7" x2="0" y2="295.7"><stop offset="0" stop-color="#4fb672" stop-opacity="0.85"/><stop offset="1" stop-color="#bdeccc" stop-opacity="0.85"/></linearGradient>
<path d="M600.00,286.89 L600.50,286.84 L601.00,286.77 L601.50,286.67 L602.00,286.54 L602.50,286.37 L603.00,286.16 L603.50,285.90 L604.00,285.59 L604.50,285.22 L605.00,284.78 L605.50,284.26 L606.00,283.66 L606.50,282.96 L607.00,282.17 L607.50,281.27 L608.00,280.25 L608.50,279.11 L609.00,277.84 L609.50,276.43 L610.00,274.87 L610.50,273.16 L611.00,271.29 L611.50,269.27 L612.00,267.08 L612.50,264.74 L613.00,262.23 L613.50,259.58 L614.00,256.77 L614.50,253.83 L615.00,250.76 L615.50,247.58 L616.00,244.30 L616.50,240.94 L617.00,237.52 L617.50,234.07 L618.00,230.62 L618.50,227.18 L619.00,223.78 L619.50,220.47 L620.00,217.26 L620.50,214.20 L621.00,211.31 L621.50,208.62 L622.00,206.17 L622.50,203.99 L623.00,202.09 L623.50,200.52 L624.00,199.28 L624.50,198.40 L625.00,197.88 L625.50,197.74 L626.00,197.99 L626.50,198.60 L627.00,199.59 L627.50,200.93 L628.00,202.61 L628.50,204.61 L629.00,206.91 L629.50,209.46 L630.00,212.26 L630.50,215.26 L631.00,218.43 L631.50,221.75 L632.00,225.18 L632.50,228.69 L633.00,232.24 L633.50,235.82 L634.00,239.39 L634.50,242.92 L635.00,246.40 L635.50,249.81 L636.00,253.11 L636.50,256.31 L637.00,259.38 L637.50,262.31 L638.00,265.10 L638.50,267.73 L639.00,270.21 L639.50,272.53 L640.00,274.69 L640.50,276.69 L641.00,278.54 L641.50,280.24 L642.00,281.79 L642.50,283.20 L643.00,284.48 L643.50,285.63 L644.00,286.67 L644.50,287.60 L645.00,288.43 L645.50,289.17 L646.00,289.82 L646.50,290.40 L647.00,290.90 L647.50,291.34 L648.00,291.73 L648.50,292.07 L649.00,292.36 L649.50,292.62 L650.00,292.84 L650.50,293.03 L651.00,293.20 L651.50,293.34 L652.00,293.46 L652.50,293.57 L653.00,293.66 L653.50,293.74 L654.00,293.81 L654.50,293.87 L655.00,293.92 L655.50,293.97 L656.00,294.01 L656.50,294.05 L657.00,294.08 L657.50,294.11 L658.00,294.14 L658.50,294.16 L659.00,294.18 L659.50,294.20 L660.00,294.22 L660.50,294.24 L661.00,294.26 L661.50,294.27 L662.00,294.29 L662.00,294.78 L661.50,294.78 L661.00,294.78 L660.50,294.78 L660.00,294.77 L659.50,294.77 L659.00,294.77 L658.50,294.77 L658.00,294.77 L657.50,294.77 L657.00,294.76 L656.50,294.76 L656.00,294.76 L655.50,294.76 L655.00,294.76 L654.50,294.75 L654.00,294.75 L653.50,294.75 L653.00,294.74 L652.50,294.74 L652.00,294.74 L651.50,294.73 L651.00,294.73 L650.50,294.73 L650.00,294.72 L649.50,294.72 L649.00,294.71 L648.50,294.71 L648.00,294.70 L647.50,294.70 L647.00,294.69 L646.50,294.69 L646.00,294.68 L645.50,294.67 L645.00,294.67 L644.50,294.66 L644.00,294.65 L643.50,294.64 L643.00,294.63 L642.50,294.62 L642.00,294.61 L641.50,294.60 L641.00,294.59 L640.50,294.58 L640.00,294.57 L639.50,294.56 L639.00,294.54 L638.50,294.53 L638.00,294.51 L637.50,294.50 L637.00,294.48 L636.50,294.46 L636.00,294.44 L635.50,294.42 L635.00,294.40 L634.50,294.38 L634.00,294.36 L633.50,294.34 L633.00,294.31 L632.50,294.28 L632.00,294.26 L631.50,294.23 L631.00,294.20 L630.50,294.16 L630.00,294.13 L629.50,294.09 L629.00,294.06 L628.50,294.02 L628.00,293.98 L627.50,293.94 L627.00,293.89 L626.50,293.84 L626.00,293.80 L625.50,293.74 L625.00,293.69 L624.50,293.64 L624.00,293.58 L623.50,293.52 L623.00,293.46 L622.50,293.39 L622.00,293.32 L621.50,293.25 L621.00,293.18 L620.50,293.10 L620.00,293.03 L619.50,292.94 L619.00,292.86 L618.50,292.77 L618.00,292.68 L617.50,292.59 L617.00,292.50 L616.50,292.40 L616.00,292.30 L615.50,292.20 L615.00,292.09 L614.50,291.98 L614.00,291.87 L613.50,291.76 L613.00,291.65 L612.50,291.53 L612.00,291.41 L611.50,291.29 L611.00,291.17 L610.50,291.04 L610.00,290.92 L609.50,290.79 L609.00,290.66 L608.50,290.54 L608.00,290.41 L607.50,290.28 L607.00,290.15 L606.50,290.02 L606.00,289.89 L605.50,289.76 L605.00,289.64 L604.50,289.51 L604.00,289.38 L603.50,289.26 L603.00,289.13 L602.50,289.01 L602.00,288.89 L601.50,288.77 L601.00,288.65 L600.50,288.54 L600.00,288.43 Z" fill="url(#vg9)" stroke="none"/>
<path d="M600.00,286.89 600.5,286.8 601.0,286.8 601.5,286.7 602.0,286.5 602.5,286.4 603.0,286.2 603.5,285.9 604.0,285.6 604.5,285.2 605.0,284.8 605.5,284.3 606.0,283.7 606.5,283.0 607.0,282.2 607.5,281.3 608.0,280.3 608.5,279.1 609.0,277.8 609.5,276.4 610.0,274.9 610.5,273.2 611.0,271.3 611.5,269.3 612.0,267.1 612.5,264.7 613.0,262.2 613.5,259.6 614.0,256.8 614.5,253.8 615.0,250.8 615.5,247.6 616.0,244.3 616.5,240.9 617.0,237.5 617.5,234.1 618.0,230.6 618.5,227.2 619.0,223.8 619.5,220.5 620.0,217.3 620.5,214.2 621.0,211.3 621.5,208.6 622.0,206.2 622.5,204.0 623.0,202.1 623.5,200.5 624.0,199.3 624.5,198.4 625.0,197.9 625.5,197.7 626.0,198.0 626.5,198.6 627.0,199.6 627.5,200.9 628.0,202.6 628.5,204.6 629.0,206.9 629.5,209.5 630.0,212.3 630.5,215.3 631.0,218.4 631.5,221.8 632.0,225.2 632.5,228.7 633.0,232.2 633.5,235.8 634.0,239.4 634.5,242.9 635.0,246.4 635.5,249.8 636.0,253.1 636.5,256.3 637.0,259.4 637.5,262.3 638.0,265.1 638.5,267.7 639.0,270.2 639.5,272.5 640.0,274.7 640.5,276.7 641.0,278.5 641.5,280.2 642.0,281.8 642.5,283.2 643.0,284.5 643.5,285.6 644.0,286.7 644.5,287.6 645.0,288.4 645.5,289.2 646.0,289.8 646.5,290.4 647.0,290.9 647.5,291.3 648.0,291.7 648.5,292.1 649.0,292.4 649.5,292.6 650.0,292.8 650.5,293.0 651.0,293.2 651.5,293.3 652.0,293.5 652.5,293.6 653.0,293.7 653.5,293.7 654.0,293.8 654.5,293.9 655.0,293.9 655.5,294.0 656.0,294.0 656.5,294.0 657.0,294.1 657.5,294.1 658.0,294.1 658.5,294.2 659.0,294.2 659.5,294.2 660.0,294.2 660.5,294.2 661.0,294.3 661.5,294.3 662.0,294.3" stroke="#333" stroke-width="0.6" fill="none" stroke-linejoin="round" />
<linearGradient id="vg10" gradientUnits="userSpaceOnUse" x1="0" y1="251.9" x2="0" y2="293.9"><stop offset="0" stop-color="#3aa0c8" stop-opacity="0.85"/><stop offset="1" stop-color="#b8d4f0" stop-opacity="0.85"/></linearGradient>
<path d="M590.00,284.99 L590.50,284.98 L591.00,284.97 L591.50,284.95 L592.00,284.94 L592.50,284.91 L593.00,284.89 L593.50,284.85 L594.00,284.81 L594.50,284.76 L595.00,284.70 L595.50,284.63 L596.00,284.54 L596.50,284.44 L597.00,284.31 L597.50,284.16 L598.00,283.99 L598.50,283.78 L599.00,283.53 L599.50,283.24 L600.00,282.90 L600.50,282.51 L601.00,282.06 L601.50,281.55 L602.00,280.96 L602.50,280.29 L603.00,279.54 L603.50,278.70 L604.00,277.77 L604.50,276.75 L605.00,275.62 L605.50,274.40 L606.00,273.07 L606.50,271.66 L607.00,270.15 L607.50,268.56 L608.00,266.91 L608.50,265.20 L609.00,263.46 L609.50,261.71 L610.00,259.98 L610.50,258.31 L611.00,256.73 L611.50,255.30 L612.00,254.06 L612.50,253.06 L613.00,252.34 L613.50,251.94 L614.00,251.87 L614.50,252.16 L615.00,252.78 L615.50,253.73 L616.00,254.95 L616.50,256.41 L617.00,258.06 L617.50,259.86 L618.00,261.75 L618.50,263.69 L619.00,265.65 L619.50,267.61 L620.00,269.53 L620.50,271.39 L621.00,273.18 L621.50,274.89 L622.00,276.50 L622.50,278.02 L623.00,279.44 L623.50,280.76 L624.00,281.97 L624.50,283.08 L625.00,284.10 L625.50,285.02 L626.00,285.86 L626.50,286.62 L627.00,287.30 L627.50,287.91 L628.00,288.45 L628.50,288.94 L629.00,289.38 L629.50,289.77 L630.00,290.11 L630.50,290.43 L631.00,290.70 L631.50,290.96 L632.00,291.18 L632.50,291.39 L633.00,291.57 L633.50,291.74 L634.00,291.90 L634.50,292.04 L635.00,292.17 L635.50,292.29 L636.00,292.40 L636.50,292.51 L637.00,292.60 L637.50,292.70 L638.00,292.78 L638.50,292.86 L639.00,292.94 L639.50,293.01 L640.00,293.08 L640.50,293.14 L641.00,293.21 L641.50,293.26 L642.00,293.32 L642.50,293.37 L643.00,293.42 L643.50,293.47 L644.00,293.51 L644.50,293.56 L645.00,293.60 L645.00,294.67 L644.50,294.66 L644.00,294.65 L643.50,294.64 L643.00,294.63 L642.50,294.62 L642.00,294.61 L641.50,294.60 L641.00,294.59 L640.50,294.58 L640.00,294.57 L639.50,294.56 L639.00,294.54 L638.50,294.53 L638.00,294.51 L637.50,294.50 L637.00,294.48 L636.50,294.46 L636.00,294.44 L635.50,294.42 L635.00,294.40 L634.50,294.38 L634.00,294.36 L633.50,294.34 L633.00,294.31 L632.50,294.28 L632.00,294.26 L631.50,294.23 L631.00,294.20 L630.50,294.16 L630.00,294.13 L629.50,294.09 L629.00,294.06 L628.50,294.02 L628.00,293.98 L627.50,293.94 L627.00,293.89 L626.50,293.84 L626.00,293.80 L625.50,293.74 L625.00,293.69 L624.50,293.64 L624.00,293.58 L623.50,293.52 L623.00,293.46 L622.50,293.39 L622.00,293.32 L621.50,293.25 L621.00,293.18 L620.50,293.10 L620.00,293.03 L619.50,292.94 L619.00,292.86 L618.50,292.77 L618.00,292.68 L617.50,292.59 L617.00,292.50 L616.50,292.40 L616.00,292.30 L615.50,292.20 L615.00,292.09 L614.50,291.98 L614.00,291.87 L613.50,291.76 L613.00,291.65 L612.50,291.53 L612.00,291.41 L611.50,291.29 L611.00,291.17 L610.50,291.04 L610.00,290.92 L609.50,290.79 L609.00,290.66 L608.50,290.54 L608.00,290.41 L607.50,290.28 L607.00,290.15 L606.50,290.02 L606.00,289.89 L605.50,289.76 L605.00,289.64 L604.50,289.51 L604.00,289.38 L603.50,289.26 L603.00,289.13 L602.50,289.01 L602.00,288.89 L601.50,288.77 L601.00,288.65 L600.50,288.54 L600.00,288.43 L599.50,288.32 L599.00,288.21 L598.50,288.10 L598.00,288.00 L597.50,287.90 L597.00,287.80 L596.50,287.71 L596.00,287.62 L595.50,287.53 L595.00,287.44 L594.50,287.36 L594.00,287.27 L593.50,287.20 L593.00,287.12 L592.50,287.05 L592.00,286.98 L591.50,286.91 L591.00,286.84 L590.50,286.78 L590.00,286.72 Z" fill="url(#vg10)" stroke="none"/>
<path d="M590.00,284.99 590.5,285.0 591.0,285.0 591.5,285.0 592.0,284.9 592.5,284.9 593.0,284.9 593.5,284.9 594.0,284.8 594.5,284.8 595.0,284.7 595.5,284.6 596.0,284.5 596.5,284.4 597.0,284.3 597.5,284.2 598.0,284.0 598.5,283.8 599.0,283.5 599.5,283.2 600.0,282.9 600.5,282.5 601.0,282.1 601.5,281.5 602.0,281.0 602.5,280.3 603.0,279.5 603.5,278.7 604.0,277.8 604.5,276.7 605.0,275.6 605.5,274.4 606.0,273.1 606.5,271.7 607.0,270.2 607.5,268.6 608.0,266.9 608.5,265.2 609.0,263.5 609.5,261.7 610.0,260.0 610.5,258.3 611.0,256.7 611.5,255.3 612.0,254.1 612.5,253.1 613.0,252.3 613.5,251.9 614.0,251.9 614.5,252.2 615.0,252.8 615.5,253.7 616.0,254.9 616.5,256.4 617.0,258.1 617.5,259.9 618.0,261.7 618.5,263.7 619.0,265.7 619.5,267.6 620.0,269.5 620.5,271.4 621.0,273.2 621.5,274.9 622.0,276.5 622.5,278.0 623.0,279.4 623.5,280.8 624.0,282.0 624.5,283.1 625.0,284.1 625.5,285.0 626.0,285.9 626.5,286.6 627.0,287.3 627.5,287.9 628.0,288.5 628.5,288.9 629.0,289.4 629.5,289.8 630.0,290.1 630.5,290.4 631.0,290.7 631.5,291.0 632.0,291.2 632.5,291.4 633.0,291.6 633.5,291.7 634.0,291.9 634.5,292.0 635.0,292.2 635.5,292.3 636.0,292.4 636.5,292.5 637.0,292.6 637.5,292.7 638.0,292.8 638.5,292.9 639.0,292.9 639.5,293.0 640.0,293.1 640.5,293.1 641.0,293.2 641.5,293.3 642.0,293.3 642.5,293.4 643.0,293.4 643.5,293.5 644.0,293.5 644.5,293.6 645.0,293.6" stroke="#333" stroke-width="0.6" fill="none" stroke-linejoin="round" />
<path d="M469.40,285.50 469.9,285.5 470.4,285.5 470.9,285.5 471.4,285.5 471.9,285.5 472.4,285.5 472.9,285.5 473.4,285.5 473.9,285.5 474.4,285.5 474.9,285.5 475.4,285.5 475.9,285.5 476.4,285.5 476.9,285.5 477.4,285.5 477.9,285.5 478.4,285.5 478.9,285.5 479.4,285.5 479.9,285.5 480.4,285.5 480.9,285.5 481.4,285.5 481.9,285.5 482.4,285.5 482.9,285.5 483.4,285.5 483.9,285.5 484.4,285.5 484.9,285.5 485.4,285.5 485.9,285.5 486.4,285.5 486.9,285.5 487.4,285.5 487.9,285.5 488.4,285.5 488.9,285.5 489.4,285.5 489.9,285.5 490.4,285.5 490.9,285.5 491.4,285.5 491.9,285.5 492.4,285.5 492.9,285.5 493.4,285.5 493.9,285.5 494.4,285.5 494.9,285.5 495.4,285.5 495.9,285.5 496.4,285.5 496.9,285.5 497.4,285.5 497.9,285.5 498.4,285.5 498.9,285.5 499.4,285.5 499.9,285.5 500.4,285.5 500.9,285.5 501.4,285.5 501.9,285.5 502.4,285.5 502.9,285.5 503.4,285.5 503.9,285.5 504.4,285.5 504.9,285.5 505.4,285.5 505.9,285.5 506.4,285.5 506.9,285.5 507.4,285.5 507.9,285.5 508.4,285.5 508.9,285.5 509.4,285.5 509.9,285.5 510.4,285.5 510.9,285.5 511.4,285.5 511.9,285.5 512.4,285.5 512.9,285.5 513.4,285.5 513.9,285.5 514.4,285.5 514.9,285.5 515.4,285.5 515.9,285.5 516.4,285.5 516.9,285.5 517.4,285.5 517.9,285.5 518.4,285.5 518.9,285.5 519.4,285.5 519.9,285.5 520.4,285.5 520.9,285.5 521.4,285.5 521.9,285.5 522.4,285.5 522.9,285.5 523.4,285.5 523.9,285.5 524.4,285.5 524.9,285.5 525.4,285.5 525.9,285.5 526.4,285.5 526.9,285.5 527.4,285.5 527.9,285.5 528.4,285.5 528.9,285.5 529.4,285.5 529.9,285.5 530.4,285.5 530.9,285.5 531.4,285.5 531.9,285.5 532.4,285.5 532.9,285.5 533.4,285.5 533.9,285.5 534.4,285.5 534.9,285.5 535.4,285.5 535.9,285.5 536.4,285.5 536.9,285.5 537.4,285.5 537.9,285.5 538.4,285.5 538.9,285.5 539.4,285.5 539.9,285.5 540.4,285.5 540.9,285.5 541.4,285.5 541.9,285.5 542.4,285.5 542.9,285.5 543.4,285.5 543.9,285.5 544.4,285.5 544.9,285.5 545.4,285.5 545.9,285.5 546.4,285.5 546.9,285.5 547.4,285.5 547.9,285.5 548.4,285.5 548.9,285.5 549.4,285.5 549.9,285.5 550.4,285.5 550.9,285.5 551.4,285.5 551.9,285.5 552.4,285.5 552.9,285.5 553.4,285.5 553.9,285.5 554.4,285.5 554.9,285.5 555.4,285.5 555.9,285.5 556.4,285.5 556.9,285.5 557.4,285.5 557.9,285.5 558.4,285.5 558.9,285.5 559.4,285.5 559.9,285.5 560.4,285.6 560.9,285.6 561.4,285.6 561.9,285.6 562.4,285.6 562.9,285.6 563.4,285.6 563.9,285.6 564.4,285.6 564.9,285.6 565.4,285.6 565.9,285.6 566.4,285.6 566.9,285.6 567.4,285.6 567.9,285.6 568.4,285.6 568.9,285.6 569.4,285.6 569.9,285.6 570.4,285.7 570.9,285.7 571.4,285.7 571.9,285.7 572.4,285.7 572.9,285.7 573.4,285.7 573.9,285.7 574.4,285.7 574.9,285.8 575.4,285.8 575.9,285.8 576.4,285.8 576.9,285.8 577.4,285.8 577.9,285.9 578.4,285.9 578.9,285.9 579.4,285.9 579.9,285.9 580.4,286.0 580.9,286.0 581.4,286.0 581.9,286.0 582.4,286.1 582.9,286.1 583.4,286.1 583.9,286.2 584.4,286.2 584.9,286.2 585.4,286.3 585.9,286.3 586.4,286.4 586.9,286.4 587.4,286.4 587.9,286.5 588.4,286.5 588.9,286.6 589.4,286.7 589.9,286.7 590.4,286.8 590.9,286.8 591.4,286.9 591.9,287.0 592.4,287.0 592.9,287.1 593.4,287.2 593.9,287.3 594.4,287.3 594.9,287.4 595.4,287.5 595.9,287.6 596.4,287.7 596.9,287.8 597.4,287.9 597.9,288.0 598.4,288.1 598.9,288.2 599.4,288.3 599.9,288.4 600.4,288.5 600.9,288.6 601.4,288.7 601.9,288.9 602.4,289.0 602.9,289.1 603.4,289.2 603.9,289.4 604.4,289.5 604.9,289.6 605.4,289.7 605.9,289.9 606.4,290.0 606.9,290.1 607.4,290.3 607.9,290.4 608.4,290.5 608.9,290.6 609.4,290.8 609.9,290.9 610.4,291.0 610.9,291.1 611.4,291.3 611.9,291.4 612.4,291.5 612.9,291.6 613.4,291.7 613.9,291.9 614.4,292.0 614.9,292.1 615.4,292.2 615.9,292.3 616.4,292.4 616.9,292.5 617.4,292.6 617.9,292.7 618.4,292.8 618.9,292.8 619.4,292.9 619.9,293.0 620.4,293.1 620.9,293.2 621.4,293.2 621.9,293.3 622.4,293.4 622.9,293.4 623.4,293.5 623.9,293.6 624.4,293.6 624.9,293.7 625.4,293.7 625.9,293.8 626.4,293.8 626.9,293.9 627.4,293.9 627.9,294.0 628.4,294.0 628.9,294.0 629.4,294.1 629.9,294.1 630.4,294.2 630.9,294.2 631.4,294.2 631.9,294.2 632.4,294.3 632.9,294.3 633.4,294.3 633.9,294.4 634.4,294.4 634.9,294.4 635.4,294.4 635.9,294.4 636.4,294.5 636.9,294.5 637.4,294.5 637.9,294.5 638.4,294.5 638.9,294.5 639.4,294.6 639.9,294.6 640.4,294.6 640.9,294.6 641.4,294.6 641.9,294.6 642.4,294.6 642.9,294.6 643.4,294.6 643.9,294.6 644.4,294.7 644.9,294.7 645.4,294.7 645.9,294.7 646.4,294.7 646.9,294.7 647.4,294.7 647.9,294.7 648.4,294.7 648.9,294.7 649.4,294.7 649.9,294.7 650.4,294.7 650.9,294.7 651.4,294.7 651.9,294.7 652.4,294.7 652.9,294.7 653.4,294.7 653.9,294.7 654.4,294.8 654.9,294.8 655.4,294.8 655.9,294.8 656.4,294.8 656.9,294.8 657.4,294.8 657.9,294.8 658.4,294.8 658.9,294.8 659.4,294.8 659.9,294.8 660.4,294.8 660.9,294.8 661.4,294.8 661.9,294.8 662.4,294.8 662.9,294.8 663.4,294.8 663.9,294.8 664.4,294.8 664.9,294.8 665.4,294.8 665.9,294.8 666.4,294.8 666.9,294.8 667.4,294.8 667.9,294.8 668.4,294.8 668.9,294.8 669.4,294.8 669.9,294.8 670.4,294.8 670.9,294.8 671.4,294.8 671.9,294.8 672.4,294.8 672.9,294.8 673.4,294.8 673.9,294.8 674.4,294.8 674.9,294.8 675.4,294.8 675.9,294.8 676.4,294.8 676.9,294.8 677.4,294.8 677.9,294.8 678.4,294.8 678.9,294.8 679.4,294.8 679.9,294.8 680.4,294.8 680.9,294.8 681.4,294.8 681.9,294.8 682.4,294.8 682.9,294.8 683.4,294.8" stroke="#3a3a3a" stroke-width="0.8" fill="none" stroke-linejoin="round" />
<path d="M469.40,285.04 469.9,285.4 470.4,285.8 470.9,286.2 471.4,286.5 471.9,286.6 472.4,286.6 472.9,286.4 473.4,286.2 473.9,285.9 474.4,285.7 474.9,285.5 475.4,285.4 475.9,285.3 476.4,285.2 476.9,285.1 477.4,284.9 477.9,284.8 478.4,284.6 478.9,284.4 479.4,284.4 479.9,284.4 480.4,284.5 480.9,284.7 481.4,285.0 481.9,285.2 482.4,285.4 482.9,285.4 483.4,285.4 483.9,285.2 484.4,285.1 484.9,285.0 485.4,284.9 485.9,285.0 486.4,285.2 486.9,285.5 487.4,285.9 487.9,286.2 488.4,286.4 488.9,286.5 489.4,286.6 489.9,286.5 490.4,286.3 490.9,286.1 491.4,285.9 491.9,285.7 492.4,285.6 492.9,285.5 493.4,285.4 493.9,285.2 494.4,284.9 494.9,284.7 495.4,284.4 495.9,284.3 496.4,284.2 496.9,284.2 497.4,284.4 497.9,284.8 498.4,285.1 498.9,285.5 499.4,285.7 499.9,285.9 500.4,285.9 500.9,285.7 501.4,285.5 501.9,285.2 502.4,285.0 502.9,284.9 503.4,284.8 503.9,284.8 504.4,284.9 504.9,284.9 505.4,285.0 505.9,284.9 506.4,284.9 506.9,284.8 507.4,284.7 507.9,284.6 508.4,284.7 508.9,284.7 509.4,284.8 509.9,285.0 510.4,285.0 510.9,285.0 511.4,284.9 511.9,284.8 512.4,284.6 512.9,284.4 513.4,284.4 513.9,284.4 514.4,284.6 514.9,284.9 515.4,285.2 515.9,285.6 516.4,285.8 516.9,286.0 517.4,285.9 517.9,285.8 518.4,285.5 518.9,285.2 519.4,284.8 519.9,284.5 520.4,284.3 520.9,284.1 521.4,283.9 521.9,283.7 522.4,283.6 522.9,283.4 523.4,283.2 523.9,283.0 524.4,282.9 524.9,283.0 525.4,283.1 525.9,283.3 526.4,283.7 526.9,284.0 527.4,284.2 527.9,284.4 528.4,284.4 528.9,284.3 529.4,284.1 529.9,283.9 530.4,283.7 530.9,283.7 531.4,283.7 531.9,283.8 532.4,284.0 532.9,284.2 533.4,284.4 533.9,284.5 534.4,284.5 534.9,284.4 535.4,284.2 535.9,284.0 536.4,283.9 536.9,283.8 537.4,283.7 537.9,283.7 538.4,283.6 538.9,283.5 539.4,283.4 539.9,283.3 540.4,283.1 540.9,282.9 541.4,282.9 541.9,282.9 542.4,283.1 542.9,283.4 543.4,283.7 543.9,284.1 544.4,284.4 544.9,284.6 545.4,284.6 545.9,284.5 546.4,284.2 546.9,283.9 547.4,283.6 547.9,283.3 548.4,283.1 548.9,283.0 549.4,283.0 549.9,283.0 550.4,283.0 550.9,283.0 551.4,283.0 551.9,282.9 552.4,282.9 552.9,282.9 553.4,283.0 553.9,283.2 554.4,283.5 554.9,283.8 555.4,284.0 555.9,284.2 556.4,284.3 556.9,284.2 557.4,284.1 557.9,284.0 558.4,283.9 558.9,283.9 559.4,283.9 559.9,284.1 560.4,284.4 560.9,284.7 561.4,284.9 561.9,285.1 562.4,285.1 562.9,285.0 563.4,284.7 563.9,284.4 564.4,284.0 564.9,283.7 565.4,283.4 565.9,283.2 566.4,283.1 566.9,282.9 567.4,282.7 567.9,282.5 568.4,282.3 568.9,282.0 569.4,281.9 569.9,281.8 570.4,281.8 570.9,281.8 571.4,282.0 571.9,282.1 572.4,282.2 572.9,282.2 573.4,282.0 573.9,281.7 574.4,281.1 574.9,280.5 575.4,279.9 575.9,279.3 576.4,278.8 576.9,278.3 577.4,278.0 577.9,277.7 578.4,277.4 578.9,277.1 579.4,276.7 579.9,276.2 580.4,275.7 580.9,275.3 581.4,274.8 581.9,274.5 582.4,274.2 582.9,274.0 583.4,273.8 583.9,273.6 584.4,273.4 584.9,273.2 585.4,272.9 585.9,272.7 586.4,272.5 586.9,272.5 587.4,272.6 587.9,272.9 588.4,273.3 588.9,273.8 589.4,274.3 589.9,274.7 590.4,275.0 590.9,275.2 591.4,275.2 591.9,275.2 592.4,275.3 592.9,275.4 593.4,275.6 593.9,275.9 594.4,276.2 594.9,276.6 595.4,277.0 595.9,277.3 596.4,277.6 596.9,277.9 597.4,278.1 597.9,278.3 598.4,278.5 598.9,278.6 599.4,278.5 599.9,278.4 600.4,278.1 600.9,277.8 601.4,277.3 601.9,276.7 602.4,276.0 602.9,275.1 603.4,274.1 603.9,273.0 604.4,271.6 604.9,270.1 605.4,268.4 605.9,266.4 606.4,264.3 606.9,262.0 607.4,259.5 607.9,256.8 608.4,253.9 608.9,250.9 609.4,247.6 609.9,244.3 610.4,240.8 610.9,237.3 611.4,233.7 611.9,230.2 612.4,226.7 612.9,223.4 613.4,220.2 613.9,217.2 614.4,214.4 614.9,211.8 615.4,209.4 615.9,207.2 616.4,205.2 616.9,203.3 617.4,201.6 617.9,199.9 618.4,198.3 618.9,196.8 619.4,195.3 619.9,193.9 620.4,192.6 620.9,191.4 621.4,190.4 621.9,189.4 622.4,188.7 622.9,188.1 623.4,187.7 623.9,187.6 624.4,187.7 624.9,188.1 625.4,188.8 625.9,189.8 626.4,191.0 626.9,192.6 627.4,194.4 627.9,196.6 628.4,199.0 628.9,201.6 629.4,204.5 629.9,207.6 630.4,210.8 630.9,214.2 631.4,217.7 631.9,221.3 632.4,225.0 632.9,228.7 633.4,232.4 633.9,236.1 634.4,239.8 634.9,243.4 635.4,246.9 635.9,250.4 636.4,253.7 636.9,256.8 637.4,259.9 637.9,262.8 638.4,265.5 638.9,268.1 639.4,270.5 639.9,272.7 640.4,274.8 640.9,276.8 641.4,278.5 641.9,280.2 642.4,281.6 642.9,283.0 643.4,284.2 643.9,285.3 644.4,286.3 644.9,287.2 645.4,288.0 645.9,288.7 646.4,289.3 646.9,289.8 647.4,290.3 647.9,290.7 648.4,291.1 648.9,291.4 649.4,291.7 649.9,292.0 650.4,292.2 650.9,292.4 651.4,292.5 651.9,292.7 652.4,292.8 652.9,292.9 653.4,293.0 653.9,293.1 654.4,293.2 654.9,293.3 655.4,293.3 655.9,293.4 656.4,293.4 656.9,293.5 657.4,293.5 657.9,293.6 658.4,293.6 658.9,293.6 659.4,293.7 659.9,293.7 660.4,293.7 660.9,293.8 661.4,293.8 661.9,293.8 662.4,293.8 662.9,293.9 663.4,293.9 663.9,293.9 664.4,293.9 664.9,293.9 665.4,294.0 665.9,294.0 666.4,294.0 666.9,294.0 667.4,294.0 667.9,294.0 668.4,294.1 668.9,294.1 669.4,294.1 669.9,294.1 670.4,294.1 670.9,294.1 671.4,294.1 671.9,294.2 672.4,294.2 672.9,294.2 673.4,294.2 673.9,294.2 674.4,294.2 674.9,294.2 675.4,294.2 675.9,294.2 676.4,294.3 676.9,294.3 677.4,294.3 677.9,294.3 678.4,294.3 678.9,294.3 679.4,294.3 679.9,294.3 680.4,294.3 680.9,294.3 681.4,294.3 681.9,294.3 682.4,294.4 682.9,294.4 683.4,294.4" stroke="#ffffff" stroke-width="2.6" fill="none" stroke-linejoin="round" />
<rect x="469.20" y="284.92" width="2.0" height="2.0" fill="#c4a453"/>
<rect x="470.30" y="285.21" width="2.0" height="2.0" fill="#c4a453"/>
<rect x="471.40" y="284.51" width="2.0" height="2.0" fill="#c4a453"/>
<rect x="472.50" y="284.76" width="2.0" height="2.0" fill="#c4a453"/>
<rect x="473.60" y="285.37" width="2.0" height="2.0" fill="#c4a453"/>
<rect x="474.70" y="284.51" width="2.0" height="2.0" fill="#c4a453"/>
<rect x="475.80" y="283.85" width="2.0" height="2.0" fill="#c4a453"/>
<rect x="476.90" y="282.93" width="2.0" height="2.0" fill="#c4a453"/>
<rect x="478.00" y="283.35" width="2.0" height="2.0" fill="#c4a453"/>
<rect x="479.10" y="282.98" width="2.0" height="2.0" fill="#c4a453"/>
<rect x="480.20" y="283.91" width="2.0" height="2.0" fill="#c4a453"/>
<rect x="481.30" y="284.73" width="2.0" height="2.0" fill="#c4a453"/>
<rect x="482.40" y="282.56" width="2.0" height="2.0" fill="#c4a453"/>
<rect x="483.50" y="283.99" width="2.0" height="2.0" fill="#c4a453"/>
<rect x="484.60" y="282.78" width="2.0" height="2.0" fill="#c4a453"/>
<rect x="485.70" y="283.65" width="2.0" height="2.0" fill="#c4a453"/>
<rect x="486.80" y="284.13" width="2.0" height="2.0" fill="#c4a453"/>
<rect x="487.90" y="286.43" width="2.0" height="2.0" fill="#c4a453"/>
<rect x="489.00" y="285.95" width="2.0" height="2.0" fill="#c4a453"/>
<rect x="490.10" y="285.41" width="2.0" height="2.0" fill="#c4a453"/>
<rect x="491.20" y="284.08" width="2.0" height="2.0" fill="#c4a453"/>
<rect x="492.30" y="283.24" width="2.0" height="2.0" fill="#c4a453"/>
<rect x="493.40" y="283.64" width="2.0" height="2.0" fill="#c4a453"/>
<rect x="494.50" y="283.56" width="2.0" height="2.0" fill="#c4a453"/>
<rect x="495.60" y="283.13" width="2.0" height="2.0" fill="#c4a453"/>
<rect x="496.70" y="284.17" width="2.0" height="2.0" fill="#c4a453"/>
<rect x="497.80" y="284.12" width="2.0" height="2.0" fill="#c4a453"/>
<rect x="498.90" y="286.29" width="2.0" height="2.0" fill="#c4a453"/>
<rect x="500.00" y="285.19" width="2.0" height="2.0" fill="#c4a453"/>
<rect x="501.10" y="285.71" width="2.0" height="2.0" fill="#c4a453"/>
<rect x="502.20" y="284.00" width="2.0" height="2.0" fill="#c4a453"/>
<rect x="503.30" y="283.67" width="2.0" height="2.0" fill="#c4a453"/>
<rect x="504.40" y="283.29" width="2.0" height="2.0" fill="#c4a453"/>
<rect x="505.50" y="284.50" width="2.0" height="2.0" fill="#c4a453"/>
<rect x="506.60" y="284.50" width="2.0" height="2.0" fill="#c4a453"/>
<rect x="507.70" y="283.82" width="2.0" height="2.0" fill="#c4a453"/>
<rect x="508.80" y="284.26" width="2.0" height="2.0" fill="#c4a453"/>
<rect x="509.90" y="283.81" width="2.0" height="2.0" fill="#c4a453"/>
<rect x="511.00" y="283.41" width="2.0" height="2.0" fill="#c4a453"/>
<rect x="512.10" y="283.17" width="2.0" height="2.0" fill="#c4a453"/>
<rect x="513.20" y="282.02" width="2.0" height="2.0" fill="#c4a453"/>
<rect x="514.30" y="283.37" width="2.0" height="2.0" fill="#c4a453"/>
<rect x="515.40" y="284.87" width="2.0" height="2.0" fill="#c4a453"/>
<rect x="516.50" y="285.01" width="2.0" height="2.0" fill="#c4a453"/>
<rect x="517.60" y="285.22" width="2.0" height="2.0" fill="#c4a453"/>
<rect x="518.70" y="284.13" width="2.0" height="2.0" fill="#c4a453"/>
<rect x="519.80" y="283.45" width="2.0" height="2.0" fill="#c4a453"/>
<rect x="520.90" y="282.79" width="2.0" height="2.0" fill="#c4a453"/>
<rect x="522.00" y="280.53" width="2.0" height="2.0" fill="#c4a453"/>
<rect x="523.10" y="282.01" width="2.0" height="2.0" fill="#c4a453"/>
<rect x="524.20" y="281.32" width="2.0" height="2.0" fill="#c4a453"/>
<rect x="525.30" y="282.98" width="2.0" height="2.0" fill="#c4a453"/>
<rect x="526.40" y="283.00" width="2.0" height="2.0" fill="#c4a453"/>
<rect x="527.50" y="283.12" width="2.0" height="2.0" fill="#c4a453"/>
<rect x="528.60" y="282.61" width="2.0" height="2.0" fill="#c4a453"/>
<rect x="529.70" y="282.44" width="2.0" height="2.0" fill="#c4a453"/>
<rect x="530.80" y="281.21" width="2.0" height="2.0" fill="#c4a453"/>
<rect x="531.90" y="281.93" width="2.0" height="2.0" fill="#c4a453"/>
<rect x="533.00" y="284.43" width="2.0" height="2.0" fill="#c4a453"/>
<rect x="534.10" y="283.64" width="2.0" height="2.0" fill="#c4a453"/>
<rect x="535.20" y="282.57" width="2.0" height="2.0" fill="#c4a453"/>
<rect x="536.30" y="282.42" width="2.0" height="2.0" fill="#c4a453"/>
<rect x="537.40" y="282.32" width="2.0" height="2.0" fill="#c4a453"/>
<rect x="538.50" y="284.98" width="2.0" height="2.0" fill="#c4a453"/>
<rect x="539.60" y="282.42" width="2.0" height="2.0" fill="#c4a453"/>
<rect x="540.70" y="281.85" width="2.0" height="2.0" fill="#c4a453"/>
<rect x="541.80" y="281.75" width="2.0" height="2.0" fill="#c4a453"/>
<rect x="542.90" y="281.20" width="2.0" height="2.0" fill="#c4a453"/>
<rect x="544.00" y="283.69" width="2.0" height="2.0" fill="#c4a453"/>
<rect x="545.10" y="284.49" width="2.0" height="2.0" fill="#c4a453"/>
<rect x="546.20" y="283.44" width="2.0" height="2.0" fill="#c4a453"/>
<rect x="547.30" y="282.35" width="2.0" height="2.0" fill="#c4a453"/>
<rect x="548.40" y="281.49" width="2.0" height="2.0" fill="#c4a453"/>
<rect x="549.50" y="281.05" width="2.0" height="2.0" fill="#c4a453"/>
<rect x="550.60" y="281.99" width="2.0" height="2.0" fill="#c4a453"/>
<rect x="551.70" y="281.57" width="2.0" height="2.0" fill="#c4a453"/>
<rect x="552.80" y="281.28" width="2.0" height="2.0" fill="#c4a453"/>
<rect x="553.90" y="284.09" width="2.0" height="2.0" fill="#c4a453"/>
<rect x="555.00" y="282.48" width="2.0" height="2.0" fill="#c4a453"/>
<rect x="556.10" y="282.77" width="2.0" height="2.0" fill="#c4a453"/>
<rect x="557.20" y="281.01" width="2.0" height="2.0" fill="#c4a453"/>
<rect x="558.30" y="284.27" width="2.0" height="2.0" fill="#c4a453"/>
<rect x="559.40" y="283.27" width="2.0" height="2.0" fill="#c4a453"/>
<rect x="560.50" y="283.91" width="2.0" height="2.0" fill="#c4a453"/>
<rect x="561.60" y="284.27" width="2.0" height="2.0" fill="#c4a453"/>
<rect x="562.70" y="282.83" width="2.0" height="2.0" fill="#c4a453"/>
<rect x="563.80" y="282.27" width="2.0" height="2.0" fill="#c4a453"/>
<rect x="564.90" y="282.46" width="2.0" height="2.0" fill="#c4a453"/>
<rect x="566.00" y="281.19" width="2.0" height="2.0" fill="#c4a453"/>
<rect x="567.10" y="281.65" width="2.0" height="2.0" fill="#c4a453"/>
<rect x="568.20" y="281.88" width="2.0" height="2.0" fill="#c4a453"/>
<rect x="569.30" y="281.34" width="2.0" height="2.0" fill="#c4a453"/>
<rect x="570.40" y="282.11" width="2.0" height="2.0" fill="#c4a453"/>
<rect x="571.50" y="282.09" width="2.0" height="2.0" fill="#c4a453"/>
<rect x="572.60" y="282.27" width="2.0" height="2.0" fill="#c4a453"/>
<rect x="573.70" y="280.00" width="2.0" height="2.0" fill="#c4a453"/>
<rect x="574.80" y="278.74" width="2.0" height="2.0" fill="#c4a453"/>
<rect x="575.90" y="276.46" width="2.0" height="2.0" fill="#c4a453"/>
<rect x="577.00" y="276.48" width="2.0" height="2.0" fill="#c4a453"/>
<rect x="578.10" y="275.33" width="2.0" height="2.0" fill="#c4a453"/>
<rect x="579.20" y="274.87" width="2.0" height="2.0" fill="#c4a453"/>
<rect x="580.30" y="273.07" width="2.0" height="2.0" fill="#c4a453"/>
<rect x="581.40" y="273.42" width="2.0" height="2.0" fill="#c4a453"/>
<rect x="582.50" y="274.79" width="2.0" height="2.0" fill="#c4a453"/>
<rect x="583.60" y="271.68" width="2.0" height="2.0" fill="#c4a453"/>
<rect x="584.70" y="272.23" width="2.0" height="2.0" fill="#c4a453"/>
<rect x="585.80" y="272.00" width="2.0" height="2.0" fill="#c4a453"/>
<rect x="586.90" y="271.33" width="2.0" height="2.0" fill="#c4a453"/>
<rect x="588.00" y="272.69" width="2.0" height="2.0" fill="#c4a453"/>
<rect x="589.10" y="273.45" width="2.0" height="2.0" fill="#c4a453"/>
<rect x="590.20" y="274.54" width="2.0" height="2.0" fill="#c4a453"/>
<rect x="591.30" y="273.74" width="2.0" height="2.0" fill="#c4a453"/>
<rect x="592.40" y="276.65" width="2.0" height="2.0" fill="#c4a453"/>
<rect x="593.50" y="275.96" width="2.0" height="2.0" fill="#c4a453"/>
<rect x="594.50" y="274.11" width="2.2" height="2.2" fill="#c4a453"/>
<rect x="596.80" y="276.28" width="2.2" height="2.2" fill="#c4a453"/>
<rect x="599.10" y="276.23" width="2.2" height="2.2" fill="#c4a453"/>
<rect x="601.40" y="273.38" width="2.2" height="2.2" fill="#c4a453"/>
<rect x="603.70" y="267.21" width="2.2" height="2.2" fill="#c4a453"/>
<rect x="606.00" y="257.92" width="2.2" height="2.2" fill="#c4a453"/>
<rect x="608.30" y="244.70" width="2.2" height="2.2" fill="#c4a453"/>
<rect x="610.60" y="228.89" width="2.2" height="2.2" fill="#c4a453"/>
<rect x="612.90" y="214.15" width="2.2" height="2.2" fill="#c4a453"/>
<rect x="615.20" y="203.57" width="2.2" height="2.2" fill="#c4a453"/>
<rect x="617.50" y="194.91" width="2.2" height="2.2" fill="#c4a453"/>
<rect x="619.80" y="188.42" width="2.2" height="2.2" fill="#c4a453"/>
<rect x="622.10" y="185.32" width="2.2" height="2.2" fill="#c4a453"/>
<rect x="624.40" y="185.92" width="2.2" height="2.2" fill="#c4a453"/>
<rect x="626.70" y="193.03" width="2.2" height="2.2" fill="#c4a453"/>
<rect x="629.00" y="206.30" width="2.2" height="2.2" fill="#c4a453"/>
<rect x="631.30" y="222.63" width="2.2" height="2.2" fill="#c4a453"/>
<rect x="633.60" y="238.86" width="2.2" height="2.2" fill="#c4a453"/>
<rect x="635.90" y="254.81" width="2.2" height="2.2" fill="#c4a453"/>
<rect x="638.20" y="267.66" width="2.2" height="2.2" fill="#c4a453"/>
<rect x="640.50" y="276.91" width="2.2" height="2.2" fill="#c4a453"/>
<rect x="642.80" y="282.56" width="2.2" height="2.2" fill="#c4a453"/>
<rect x="645.10" y="286.90" width="2.2" height="2.2" fill="#c4a453"/>
<rect x="647.40" y="288.18" width="2.2" height="2.2" fill="#c4a453"/>
<rect x="649.70" y="290.00" width="2.2" height="2.2" fill="#c4a453"/>
<rect x="652.00" y="290.70" width="2.2" height="2.2" fill="#c4a453"/>
<rect x="654.30" y="291.18" width="2.2" height="2.2" fill="#c4a453"/>
<rect x="656.60" y="290.94" width="2.2" height="2.2" fill="#c4a453"/>
<rect x="659.00" y="292.91" width="2.0" height="2.0" fill="#c4a453"/>
<rect x="660.10" y="292.91" width="2.0" height="2.0" fill="#c4a453"/>
<rect x="661.20" y="292.34" width="2.0" height="2.0" fill="#c4a453"/>
<rect x="662.30" y="292.78" width="2.0" height="2.0" fill="#c4a453"/>
<rect x="663.40" y="292.69" width="2.0" height="2.0" fill="#c4a453"/>
<rect x="664.50" y="292.72" width="2.0" height="2.0" fill="#c4a453"/>
<rect x="665.60" y="293.11" width="2.0" height="2.0" fill="#c4a453"/>
<rect x="666.70" y="292.48" width="2.0" height="2.0" fill="#c4a453"/>
<rect x="667.80" y="293.56" width="2.0" height="2.0" fill="#c4a453"/>
<rect x="668.90" y="293.14" width="2.0" height="2.0" fill="#c4a453"/>
<rect x="670.00" y="292.14" width="2.0" height="2.0" fill="#c4a453"/>
<rect x="671.10" y="293.43" width="2.0" height="2.0" fill="#c4a453"/>
<rect x="672.20" y="292.81" width="2.0" height="2.0" fill="#c4a453"/>
<rect x="673.30" y="293.53" width="2.0" height="2.0" fill="#c4a453"/>
<rect x="674.40" y="291.31" width="2.0" height="2.0" fill="#c4a453"/>
<rect x="675.50" y="293.47" width="2.0" height="2.0" fill="#c4a453"/>
<rect x="676.60" y="291.42" width="2.0" height="2.0" fill="#c4a453"/>
<rect x="677.70" y="292.87" width="2.0" height="2.0" fill="#c4a453"/>
<rect x="678.80" y="295.80" width="2.0" height="2.0" fill="#c4a453"/>
<rect x="679.90" y="293.78" width="2.0" height="2.0" fill="#c4a453"/>
<rect x="681.00" y="294.11" width="2.0" height="2.0" fill="#c4a453"/>
<path d="M469.40,285.04 469.9,285.4 470.4,285.8 470.9,286.2 471.4,286.5 471.9,286.6 472.4,286.6 472.9,286.4 473.4,286.2 473.9,285.9 474.4,285.7 474.9,285.5 475.4,285.4 475.9,285.3 476.4,285.2 476.9,285.1 477.4,284.9 477.9,284.8 478.4,284.6 478.9,284.4 479.4,284.4 479.9,284.4 480.4,284.5 480.9,284.7 481.4,285.0 481.9,285.2 482.4,285.4 482.9,285.4 483.4,285.4 483.9,285.2 484.4,285.1 484.9,285.0 485.4,284.9 485.9,285.0 486.4,285.2 486.9,285.5 487.4,285.9 487.9,286.2 488.4,286.4 488.9,286.5 489.4,286.6 489.9,286.5 490.4,286.3 490.9,286.1 491.4,285.9 491.9,285.7 492.4,285.6 492.9,285.5 493.4,285.4 493.9,285.2 494.4,284.9 494.9,284.7 495.4,284.4 495.9,284.3 496.4,284.2 496.9,284.2 497.4,284.4 497.9,284.8 498.4,285.1 498.9,285.5 499.4,285.7 499.9,285.9 500.4,285.9 500.9,285.7 501.4,285.5 501.9,285.2 502.4,285.0 502.9,284.9 503.4,284.8 503.9,284.8 504.4,284.9 504.9,284.9 505.4,285.0 505.9,284.9 506.4,284.9 506.9,284.8 507.4,284.7 507.9,284.6 508.4,284.7 508.9,284.7 509.4,284.8 509.9,285.0 510.4,285.0 510.9,285.0 511.4,284.9 511.9,284.8 512.4,284.6 512.9,284.4 513.4,284.4 513.9,284.4 514.4,284.6 514.9,284.9 515.4,285.2 515.9,285.6 516.4,285.8 516.9,286.0 517.4,285.9 517.9,285.8 518.4,285.5 518.9,285.2 519.4,284.8 519.9,284.5 520.4,284.3 520.9,284.1 521.4,283.9 521.9,283.7 522.4,283.6 522.9,283.4 523.4,283.2 523.9,283.0 524.4,282.9 524.9,283.0 525.4,283.1 525.9,283.3 526.4,283.7 526.9,284.0 527.4,284.2 527.9,284.4 528.4,284.4 528.9,284.3 529.4,284.1 529.9,283.9 530.4,283.7 530.9,283.7 531.4,283.7 531.9,283.8 532.4,284.0 532.9,284.2 533.4,284.4 533.9,284.5 534.4,284.5 534.9,284.4 535.4,284.2 535.9,284.0 536.4,283.9 536.9,283.8 537.4,283.7 537.9,283.7 538.4,283.6 538.9,283.5 539.4,283.4 539.9,283.3 540.4,283.1 540.9,282.9 541.4,282.9 541.9,282.9 542.4,283.1 542.9,283.4 543.4,283.7 543.9,284.1 544.4,284.4 544.9,284.6 545.4,284.6 545.9,284.5 546.4,284.2 546.9,283.9 547.4,283.6 547.9,283.3 548.4,283.1 548.9,283.0 549.4,283.0 549.9,283.0 550.4,283.0 550.9,283.0 551.4,283.0 551.9,282.9 552.4,282.9 552.9,282.9 553.4,283.0 553.9,283.2 554.4,283.5 554.9,283.8 555.4,284.0 555.9,284.2 556.4,284.3 556.9,284.2 557.4,284.1 557.9,284.0 558.4,283.9 558.9,283.9 559.4,283.9 559.9,284.1 560.4,284.4 560.9,284.7 561.4,284.9 561.9,285.1 562.4,285.1 562.9,285.0 563.4,284.7 563.9,284.4 564.4,284.0 564.9,283.7 565.4,283.4 565.9,283.2 566.4,283.1 566.9,282.9 567.4,282.7 567.9,282.5 568.4,282.3 568.9,282.0 569.4,281.9 569.9,281.8 570.4,281.8 570.9,281.8 571.4,282.0 571.9,282.1 572.4,282.2 572.9,282.2 573.4,282.0 573.9,281.7 574.4,281.1 574.9,280.5 575.4,279.9 575.9,279.3 576.4,278.8 576.9,278.3 577.4,278.0 577.9,277.7 578.4,277.4 578.9,277.1 579.4,276.7 579.9,276.2 580.4,275.7 580.9,275.3 581.4,274.8 581.9,274.5 582.4,274.2 582.9,274.0 583.4,273.8 583.9,273.6 584.4,273.4 584.9,273.2 585.4,272.9 585.9,272.7 586.4,272.5 586.9,272.5 587.4,272.6 587.9,272.9 588.4,273.3 588.9,273.8 589.4,274.3 589.9,274.7 590.4,275.0 590.9,275.2 591.4,275.2 591.9,275.2 592.4,275.3 592.9,275.4 593.4,275.6 593.9,275.9 594.4,276.2 594.9,276.6 595.4,277.0 595.9,277.3 596.4,277.6 596.9,277.9 597.4,278.1 597.9,278.3 598.4,278.5 598.9,278.6 599.4,278.5 599.9,278.4" stroke="#26405e" stroke-width="1.2" fill="none" stroke-linejoin="round" />
<path d="M599.90,278.39 600.4,278.1 600.9,277.8 601.4,277.3 601.9,276.7 602.4,276.0 602.9,275.1 603.4,274.1 603.9,273.0 604.4,271.6 604.9,270.1 605.4,268.4 605.9,266.4 606.4,264.3 606.9,262.0 607.4,259.5 607.9,256.8 608.4,253.9 608.9,250.9 609.4,247.6 609.9,244.3 610.4,240.8 610.9,237.3 611.4,233.7 611.9,230.2 612.4,226.7 612.9,223.4 613.4,220.2 613.9,217.2 614.4,214.4 614.9,211.8 615.4,209.4 615.9,207.2 616.4,205.2 616.9,203.3 617.4,201.6 617.9,199.9 618.4,198.3 618.9,196.8 619.4,195.3 619.9,193.9 620.4,192.6 620.9,191.4 621.4,190.4 621.9,189.4 622.4,188.7 622.9,188.1 623.4,187.7 623.9,187.6 624.4,187.7 624.9,188.1 625.4,188.8 625.9,189.8 626.4,191.0 626.9,192.6 627.4,194.4 627.9,196.6 628.4,199.0 628.9,201.6 629.4,204.5 629.9,207.6 630.4,210.8 630.9,214.2 631.4,217.7 631.9,221.3 632.4,225.0 632.9,228.7 633.4,232.4 633.9,236.1 634.4,239.8 634.9,243.4 635.4,246.9 635.9,250.4 636.4,253.7 636.9,256.8 637.4,259.9 637.9,262.8 638.4,265.5 638.9,268.1 639.4,270.5 639.9,272.7 640.4,274.8 640.9,276.8 641.4,278.5 641.9,280.2 642.4,281.6 642.9,283.0 643.4,284.2 643.9,285.3 644.4,286.3 644.9,287.2 645.4,288.0 645.9,288.7 646.4,289.3 646.9,289.8 647.4,290.3 647.9,290.7 648.4,291.1 648.9,291.4 649.4,291.7 649.9,292.0 650.4,292.2 650.9,292.4 651.4,292.5 651.9,292.7 652.4,292.8 652.9,292.9 653.4,293.0 653.9,293.1 654.4,293.2 654.9,293.3 655.4,293.3 655.9,293.4 656.4,293.4 656.9,293.5 657.4,293.5 657.9,293.6 658.4,293.6 658.9,293.6 659.4,293.7 659.9,293.7 660.4,293.7 660.9,293.8 661.4,293.8 661.9,293.8 662.4,293.8 662.9,293.9 663.4,293.9 663.9,293.9 664.4,293.9 664.9,293.9 665.4,294.0 665.9,294.0 666.4,294.0 666.9,294.0 667.4,294.0 667.9,294.0 668.4,294.1 668.9,294.1 669.4,294.1 669.9,294.1 670.4,294.1 670.9,294.1 671.4,294.1 671.9,294.2 672.4,294.2 672.9,294.2 673.4,294.2 673.9,294.2 674.4,294.2 674.9,294.2 675.4,294.2 675.9,294.2 676.4,294.3 676.9,294.3 677.4,294.3 677.9,294.3 678.4,294.3 678.9,294.3 679.4,294.3 679.9,294.3 680.4,294.3 680.9,294.3 681.4,294.3 681.9,294.3 682.4,294.4 682.9,294.4 683.4,294.4" stroke="#2f5888" stroke-width="0.95" fill="none" stroke-linejoin="round" />
<rect x="469.40" y="164.20" width="214.40" height="141.50" fill="none" stroke="#000" stroke-width="1.3" />
<line x1="483.90" y1="305.70" x2="483.90" y2="303.50" stroke="#000" stroke-width="1" />
<line x1="512.40" y1="305.70" x2="512.40" y2="304.20" stroke="#000" stroke-width="1" />
<line x1="540.90" y1="305.70" x2="540.90" y2="303.50" stroke="#000" stroke-width="1" />
<line x1="569.40" y1="305.70" x2="569.40" y2="304.20" stroke="#000" stroke-width="1" />
<line x1="597.90" y1="305.70" x2="597.90" y2="303.50" stroke="#000" stroke-width="1" />
<line x1="626.40" y1="305.70" x2="626.40" y2="304.20" stroke="#000" stroke-width="1" />
<line x1="654.90" y1="305.70" x2="654.90" y2="303.50" stroke="#000" stroke-width="1" />
<text x="483.90" y="315.60" font-size="9.6" fill="#000" text-anchor="middle" font-weight="bold" >408</text>
<text x="540.90" y="315.60" font-size="9.6" fill="#000" text-anchor="middle" font-weight="bold" >404</text>
<text x="597.90" y="315.60" font-size="9.6" fill="#000" text-anchor="middle" font-weight="bold" >400</text>
<text x="654.90" y="315.60" font-size="9.6" fill="#000" text-anchor="middle" font-weight="bold" >396</text>
<text x="474.40" y="183.00" font-size="20.5" fill="#000" text-anchor="start" font-weight="bold" >g</text>
<text x="606.70" y="181.40" font-size="10.3" fill="#000" text-anchor="start" font-weight="bold" textLength="33.60" lengthAdjust="spacingAndGlyphs" >C=N-C</text>
<text x="573.80" y="235.70" font-size="10.3" fill="#000" text-anchor="start" font-weight="bold" >N-(C)<tspan font-size="7.5" dy="2.5">3</tspan></text>
<text x="563.10" y="268.00" font-size="10.3" fill="#000" text-anchor="start" font-weight="bold" >C-NH<tspan font-size="7.5" dy="2.5">2</tspan></text>
<text x="530.30" y="280.80" font-size="10.5" fill="#000" text-anchor="start" font-weight="bold" >π-π<tspan font-size="7.5" dy="-4">*</tspan></text>
<line x1="599.20" y1="241.00" x2="610.50" y2="247.70" stroke="#111" stroke-width="1.1" />
<path d="M613.6,249.5 L607.9,248.9 L610.2,245.0 Z" fill="#111"/>
<text transform="translate(461.50 235.80) scale(1.060 1) rotate(-90)" x="0" y="4.02" font-size="11.7" fill="#000" text-anchor="middle" font-weight="bold">Counts (arb. units)</text>
<text x="520.00" y="326.20" font-size="11.6" fill="#000" text-anchor="start" font-weight="bold" textLength="113.50" lengthAdjust="spacingAndGlyphs" >Binding Energy (eV)</text>
<rect x="482.2" y="193.3" width="2.4" height="2.4" fill="#c4a453"/>
<line x1="470.10" y1="294.60" x2="600.00" y2="294.60" stroke="#e4efe6" stroke-width="0.8" />
<linearGradient id="vg11" gradientUnits="userSpaceOnUse" x1="0" y1="200.8" x2="0" y2="209.9"><stop offset="0" stop-color="#5cbf7e" stop-opacity="1.0"/><stop offset="1" stop-color="#bdebcc" stop-opacity="1.0"/></linearGradient>
<rect x="473.90" y="200.80" width="18.80" height="9.10" fill="url(#vg11)" stroke="#555" stroke-width="0.6" />
<linearGradient id="vg12" gradientUnits="userSpaceOnUse" x1="0" y1="211.3" x2="0" y2="220.4"><stop offset="0" stop-color="#74b6e2" stop-opacity="1.0"/><stop offset="1" stop-color="#c7e0f4" stop-opacity="1.0"/></linearGradient>
<rect x="473.90" y="211.30" width="18.80" height="9.10" fill="url(#vg12)" stroke="#555" stroke-width="0.6" />
<linearGradient id="vg13" gradientUnits="userSpaceOnUse" x1="0" y1="224.5" x2="0" y2="233.2"><stop offset="0" stop-color="#e07c88" stop-opacity="1.0"/><stop offset="1" stop-color="#f6ccd2" stop-opacity="1.0"/></linearGradient>
<rect x="473.90" y="224.50" width="18.80" height="8.70" fill="url(#vg13)" stroke="#555" stroke-width="0.6" />
<linearGradient id="vg14" gradientUnits="userSpaceOnUse" x1="0" y1="237.6" x2="0" y2="246.4"><stop offset="0" stop-color="#e0c562" stop-opacity="1.0"/><stop offset="1" stop-color="#faf1cc" stop-opacity="1.0"/></linearGradient>
<rect x="473.90" y="237.60" width="18.80" height="8.80" fill="url(#vg14)" stroke="#555" stroke-width="0.6" />
<line x1="473.90" y1="252.40" x2="492.70" y2="252.40" stroke="#555" stroke-width="1.0" />
<line x1="473.90" y1="263.30" x2="492.70" y2="263.30" stroke="#2f5888" stroke-width="1.0" />
<text x="495.60" y="197.86" font-size="8.6" fill="#111" text-anchor="start" font-weight="bold" >Raw data</text>
<text x="495.60" y="208.46" font-size="8.6" fill="#111" text-anchor="start" font-weight="bold" >C=N-C</text>
<text x="495.60" y="255.36" font-size="8.6" fill="#111" text-anchor="start" font-weight="bold" >Baseline</text>
<text x="495.60" y="266.26" font-size="8.6" fill="#111" text-anchor="start" font-weight="bold" >Peak envelope</text>
<text x="495.60" y="219.36" font-size="8.6" fill="#111" text-anchor="start" font-weight="bold" >N-(C)<tspan font-size="6" dy="2">3</tspan></text>
<text x="495.60" y="232.16" font-size="8.6" fill="#111" text-anchor="start" font-weight="bold" >C-NH<tspan font-size="6" dy="2">2</tspan></text>
<text x="495.60" y="245.26" font-size="8.0" fill="#111" text-anchor="start" font-weight="bold" >π-π<tspan font-size="6" dy="-3">*</tspan></text>
<path d="M510.60,437.30 563.0,370.8 615.4,354.1 667.8,356.1" stroke="#454545" stroke-width="1.6" fill="none" stroke-linejoin="round" />
<path d="M510.60,454.40 563.0,412.8 615.4,406.8 667.8,417.8" stroke="#1fa2e2" stroke-width="1.6" fill="none" stroke-linejoin="round" />
<path d="M510.60,471.20 563.0,428.2 615.4,415.8 667.8,424.0" stroke="#d23c3c" stroke-width="1.6" fill="none" stroke-linejoin="round" />
<rect x="507.50" y="434.20" width="6.20" height="6.20" fill="#8c8c8c" stroke="#555" stroke-width="0.8" />
<rect x="559.90" y="367.70" width="6.20" height="6.20" fill="#8c8c8c" stroke="#555" stroke-width="0.8" />
<rect x="612.30" y="351.00" width="6.20" height="6.20" fill="#8c8c8c" stroke="#555" stroke-width="0.8" />
<rect x="664.70" y="353.00" width="6.20" height="6.20" fill="#8c8c8c" stroke="#555" stroke-width="0.8" />
<circle cx="510.60" cy="454.40" r="3.3" fill="#2aa6e3" stroke="#1d4f78" stroke-width="0.8" />
<circle cx="563.00" cy="412.80" r="3.3" fill="#2aa6e3" stroke="#1d4f78" stroke-width="0.8" />
<circle cx="615.40" cy="406.80" r="3.3" fill="#2aa6e3" stroke="#1d4f78" stroke-width="0.8" />
<circle cx="667.80" cy="417.80" r="3.3" fill="#2aa6e3" stroke="#1d4f78" stroke-width="0.8" />
<path d="M510.60,467.35 L514.30,474.35 L506.90,474.35 Z" fill="#d94444" stroke="#7a2020" stroke-width="0.8"/>
<path d="M563.00,424.35 L566.70,431.35 L559.30,431.35 Z" fill="#d94444" stroke="#7a2020" stroke-width="0.8"/>
<path d="M615.40,411.95 L619.10,418.95 L611.70,418.95 Z" fill="#d94444" stroke="#7a2020" stroke-width="0.8"/>
<path d="M667.80,420.15 L671.50,427.15 L664.10,427.15 Z" fill="#d94444" stroke="#7a2020" stroke-width="0.8"/>
<rect x="497.70" y="338.20" width="183.70" height="172.00" fill="none" stroke="#000" stroke-width="1.5" />
<line x1="497.70" y1="510.20" x2="500.70" y2="510.20" stroke="#000" stroke-width="1" />
<text x="494.40" y="514.70" font-size="12.5" fill="#111" text-anchor="end" font-weight="bold" >0</text>
<line x1="497.70" y1="501.14" x2="499.50" y2="501.14" stroke="#000" stroke-width="1" />
<line x1="497.70" y1="492.08" x2="500.70" y2="492.08" stroke="#000" stroke-width="1" />
<text x="494.40" y="496.58" font-size="12.5" fill="#111" text-anchor="end" font-weight="bold" >50</text>
<line x1="497.70" y1="483.02" x2="499.50" y2="483.02" stroke="#000" stroke-width="1" />
<line x1="497.70" y1="473.96" x2="500.70" y2="473.96" stroke="#000" stroke-width="1" />
<text x="494.40" y="478.46" font-size="12.5" fill="#111" text-anchor="end" font-weight="bold" >100</text>
<line x1="497.70" y1="464.90" x2="499.50" y2="464.90" stroke="#000" stroke-width="1" />
<line x1="497.70" y1="455.84" x2="500.70" y2="455.84" stroke="#000" stroke-width="1" />
<text x="494.40" y="460.34" font-size="12.5" fill="#111" text-anchor="end" font-weight="bold" >150</text>
<line x1="497.70" y1="446.78" x2="499.50" y2="446.78" stroke="#000" stroke-width="1" />
<line x1="497.70" y1="437.72" x2="500.70" y2="437.72" stroke="#000" stroke-width="1" />
<text x="494.40" y="442.22" font-size="12.5" fill="#111" text-anchor="end" font-weight="bold" >200</text>
<line x1="497.70" y1="428.66" x2="499.50" y2="428.66" stroke="#000" stroke-width="1" />
<line x1="497.70" y1="419.60" x2="500.70" y2="419.60" stroke="#000" stroke-width="1" />
<text x="494.40" y="424.10" font-size="12.5" fill="#111" text-anchor="end" font-weight="bold" >250</text>
<line x1="497.70" y1="410.54" x2="499.50" y2="410.54" stroke="#000" stroke-width="1" />
<line x1="497.70" y1="401.48" x2="500.70" y2="401.48" stroke="#000" stroke-width="1" />
<text x="494.40" y="405.98" font-size="12.5" fill="#111" text-anchor="end" font-weight="bold" >300</text>
<line x1="497.70" y1="392.42" x2="499.50" y2="392.42" stroke="#000" stroke-width="1" />
<line x1="497.70" y1="383.36" x2="500.70" y2="383.36" stroke="#000" stroke-width="1" />
<text x="494.40" y="387.86" font-size="12.5" fill="#111" text-anchor="end" font-weight="bold" >350</text>
<line x1="497.70" y1="374.30" x2="499.50" y2="374.30" stroke="#000" stroke-width="1" />
<line x1="497.70" y1="365.24" x2="500.70" y2="365.24" stroke="#000" stroke-width="1" />
<text x="494.40" y="369.74" font-size="12.5" fill="#111" text-anchor="end" font-weight="bold" >400</text>
<line x1="497.70" y1="356.18" x2="499.50" y2="356.18" stroke="#000" stroke-width="1" />
<line x1="497.70" y1="347.12" x2="500.70" y2="347.12" stroke="#000" stroke-width="1" />
<text x="494.40" y="351.62" font-size="12.5" fill="#111" text-anchor="end" font-weight="bold" >450</text>
<line x1="510.60" y1="510.20" x2="510.60" y2="507.20" stroke="#000" stroke-width="1" />
<line x1="523.70" y1="510.20" x2="523.70" y2="508.40" stroke="#000" stroke-width="1" />
<line x1="536.80" y1="510.20" x2="536.80" y2="507.20" stroke="#000" stroke-width="1" />
<line x1="549.90" y1="510.20" x2="549.90" y2="508.40" stroke="#000" stroke-width="1" />
<line x1="563.00" y1="510.20" x2="563.00" y2="507.20" stroke="#000" stroke-width="1" />
<line x1="576.10" y1="510.20" x2="576.10" y2="508.40" stroke="#000" stroke-width="1" />
<line x1="589.20" y1="510.20" x2="589.20" y2="507.20" stroke="#000" stroke-width="1" />
<line x1="602.30" y1="510.20" x2="602.30" y2="508.40" stroke="#000" stroke-width="1" />
<line x1="615.40" y1="510.20" x2="615.40" y2="507.20" stroke="#000" stroke-width="1" />
<line x1="628.50" y1="510.20" x2="628.50" y2="508.40" stroke="#000" stroke-width="1" />
<line x1="641.60" y1="510.20" x2="641.60" y2="507.20" stroke="#000" stroke-width="1" />
<line x1="654.70" y1="510.20" x2="654.70" y2="508.40" stroke="#000" stroke-width="1" />
<line x1="667.80" y1="510.20" x2="667.80" y2="507.20" stroke="#000" stroke-width="1" />
<text x="510.60" y="523.20" font-size="12.2" fill="#111" text-anchor="middle" font-weight="bold" >1.0</text>
<text x="536.80" y="523.20" font-size="12.2" fill="#111" text-anchor="middle" font-weight="bold" >1.5</text>
<text x="563.00" y="523.20" font-size="12.2" fill="#111" text-anchor="middle" font-weight="bold" >2.0</text>
<text x="589.20" y="523.20" font-size="12.2" fill="#111" text-anchor="middle" font-weight="bold" >2.5</text>
<text x="615.40" y="523.20" font-size="12.2" fill="#111" text-anchor="middle" font-weight="bold" >3.0</text>
<text x="641.60" y="523.20" font-size="12.2" fill="#111" text-anchor="middle" font-weight="bold" >3.5</text>
<text x="667.80" y="523.20" font-size="12.2" fill="#111" text-anchor="middle" font-weight="bold" >4.0</text>
<text x="589.80" y="538.72" font-size="14.3" fill="#111" text-anchor="middle" font-weight="bold" >Time (h)</text>
<text x="503.80" y="357.60" font-size="20.2" fill="#000" text-anchor="start" font-weight="bold" >h</text>
<text x="470.12" y="424.00" font-size="14.3" font-weight="bold" fill="#111" text-anchor="middle" transform="rotate(-90 470.12 424.00)">H<tspan font-size="10" dy="3">2</tspan><tspan dy="-3"> (μmol g</tspan><tspan font-size="10" dy="-5.5">-1</tspan><tspan dy="5.5">cat)</tspan></text>
<text x="586.40" y="454.17" font-size="11.25" fill="#111" text-anchor="start" font-weight="bold" >MCIrSA PLA</text>
<line x1="558.30" y1="464.30" x2="582.30" y2="464.30" stroke="#454545" stroke-width="1.6" />
<rect x="567.20" y="461.20" width="6.20" height="6.20" fill="#8c8c8c" stroke="#555" stroke-width="0.8" />
<text x="586.40" y="468.17" font-size="11.25" fill="#111" text-anchor="start" font-weight="bold" >No scavenger</text>
<line x1="558.30" y1="478.60" x2="582.30" y2="478.60" stroke="#1fa2e2" stroke-width="1.6" />
<circle cx="570.30" cy="478.60" r="3.3" fill="#2aa6e3" stroke="#1d4f78" stroke-width="0.8" />
<text x="586.40" y="483.07" font-size="11.25" fill="#111" text-anchor="start" font-weight="bold" >Na<tspan font-size="8" dy="2.5">2</tspan><tspan dy="-2.5">SO</tspan><tspan font-size="8" dy="2.5">3</tspan><tspan dy="-2.5"> (10 mM)</tspan></text>
<line x1="558.30" y1="494.80" x2="582.30" y2="494.80" stroke="#d23c3c" stroke-width="1.6" />
<path d="M570.30,490.95 L574.00,497.95 L566.60,497.95 Z" fill="#d94444" stroke="#7a2020" stroke-width="0.8"/>
<text x="586.40" y="499.07" font-size="11.25" fill="#111" text-anchor="start" font-weight="bold" >IPA (10 mM)</text>
</svg>
</body></html>
